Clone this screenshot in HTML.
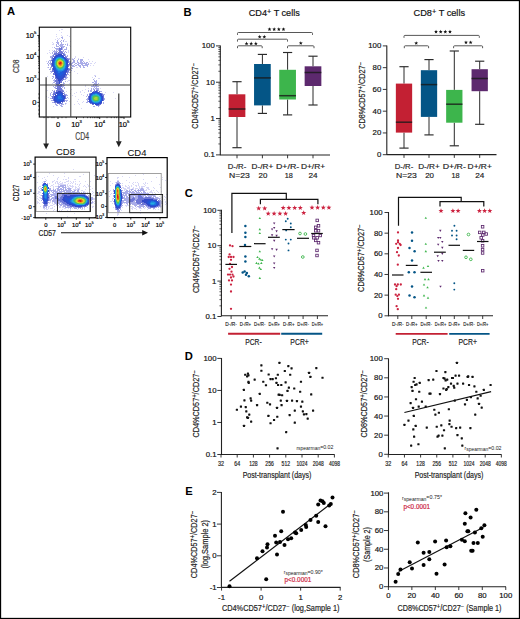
<!DOCTYPE html><html><head><meta charset="utf-8"><style>html,body{margin:0;padding:0;background:#fff;width:520px;height:619px;overflow:hidden}svg{display:block}</style></head><body><svg width="520" height="619" viewBox="0 0 520 619" font-family='"Liberation Sans", sans-serif'>
<rect x="0" y="0" width="520" height="619" fill="#fff"/>
<text x="7" y="15.2" font-size="11.2" text-anchor="start" fill="#000" font-weight="bold" >A</text>
<path d="M61 29h1v1h-1zM62 29h1v1h-1zM59 30h1v1h-1zM61 32h1v1h-1zM56 34h1v1h-1zM61 35h1v1h-1zM67 35h1v1h-1zM56 36h1v1h-1zM62 36h1v1h-1zM69 36h1v1h-1zM57 38h1v1h-1zM59 38h1v1h-1zM55 39h1v1h-1zM58 39h1v1h-1zM64 39h1v1h-1zM65 41h1v1h-1zM66 41h1v1h-1zM70 41h1v1h-1zM52 42h1v1h-1zM53 43h1v1h-1zM67 43h1v1h-1zM52 44h1v1h-1zM53 44h1v1h-1zM69 45h1v1h-1zM70 46h1v1h-1zM52 47h1v1h-1zM49 50h1v1h-1zM52 50h1v1h-1zM68 50h1v1h-1zM68 51h1v1h-1zM49 52h1v1h-1zM68 52h1v1h-1zM47 53h1v1h-1zM50 53h1v1h-1zM75 56h1v1h-1zM75 57h1v1h-1zM83 57h1v1h-1zM72 58h1v1h-1zM78 58h1v1h-1zM88 59h1v1h-1zM46 61h1v1h-1zM89 61h1v1h-1zM92 61h1v1h-1zM95 62h1v1h-1zM90 63h1v1h-1zM91 63h1v1h-1zM94 63h1v1h-1zM90 65h1v1h-1zM93 65h1v1h-1zM47 67h1v1h-1zM76 67h1v1h-1zM77 67h1v1h-1zM74 71h1v1h-1zM50 73h1v1h-1zM77 73h1v1h-1zM69 75h1v1h-1zM94 75h1v1h-1zM95 75h1v1h-1zM47 76h1v1h-1zM92 77h1v1h-1zM94 78h1v1h-1zM98 78h1v1h-1zM99 78h1v1h-1zM68 80h1v1h-1zM69 80h1v1h-1zM67 81h1v1h-1zM52 83h1v1h-1zM69 83h1v1h-1zM85 85h1v1h-1zM85 86h1v1h-1zM88 88h1v1h-1zM100 88h1v1h-1zM71 89h1v1h-1zM85 89h1v1h-1zM47 90h1v1h-1zM82 90h1v1h-1zM66 91h1v1h-1zM80 91h1v1h-1zM76 92h1v1h-1zM80 92h1v1h-1zM84 92h1v1h-1zM105 92h1v1h-1zM113 92h1v1h-1zM70 93h1v1h-1zM74 93h1v1h-1zM81 94h1v1h-1zM72 95h1v1h-1zM83 95h1v1h-1zM46 96h1v1h-1zM75 96h1v1h-1zM48 97h1v1h-1zM68 98h1v1h-1zM115 98h1v1h-1zM78 99h1v1h-1zM69 101h1v1h-1zM77 101h1v1h-1zM83 101h1v1h-1zM82 102h1v1h-1zM66 103h1v1h-1zM78 103h1v1h-1zM65 104h1v1h-1zM74 104h1v1h-1zM79 104h1v1h-1zM53 106h1v1h-1zM81 108h1v1h-1z" fill="rgb(155, 155, 232)" fill-opacity="0.4"/>
<path d="M61 37h1v1h-1zM62 37h1v1h-1zM62 38h1v1h-1zM57 40h1v1h-1zM61 40h1v1h-1zM63 40h1v1h-1zM57 41h1v1h-1zM60 41h1v1h-1zM63 41h1v1h-1zM56 42h1v1h-1zM57 42h1v1h-1zM58 42h1v1h-1zM61 42h1v1h-1zM57 43h1v1h-1zM58 43h1v1h-1zM61 43h1v1h-1zM56 44h1v1h-1zM58 44h1v1h-1zM60 44h1v1h-1zM61 44h1v1h-1zM62 44h1v1h-1zM63 44h1v1h-1zM65 44h1v1h-1zM67 44h1v1h-1zM56 45h1v1h-1zM59 45h1v1h-1zM60 45h1v1h-1zM61 45h1v1h-1zM62 45h1v1h-1zM67 45h1v1h-1zM56 46h1v1h-1zM57 46h1v1h-1zM58 46h1v1h-1zM60 46h1v1h-1zM61 46h1v1h-1zM62 46h1v1h-1zM63 46h1v1h-1zM64 46h1v1h-1zM54 47h1v1h-1zM59 47h1v1h-1zM62 47h1v1h-1zM63 47h1v1h-1zM66 47h1v1h-1zM55 48h1v1h-1zM56 48h1v1h-1zM57 48h1v1h-1zM58 48h1v1h-1zM62 48h1v1h-1zM66 48h1v1h-1zM56 49h1v1h-1zM57 49h1v1h-1zM58 49h1v1h-1zM62 49h1v1h-1zM64 49h1v1h-1zM65 49h1v1h-1zM66 49h1v1h-1zM54 50h1v1h-1zM56 50h1v1h-1zM58 50h1v1h-1zM63 50h1v1h-1zM53 51h1v1h-1zM54 51h1v1h-1zM55 51h1v1h-1zM56 51h1v1h-1zM57 51h1v1h-1zM62 51h1v1h-1zM63 51h1v1h-1zM65 51h1v1h-1zM52 52h1v1h-1zM54 52h1v1h-1zM55 52h1v1h-1zM64 52h1v1h-1zM66 52h1v1h-1zM52 53h1v1h-1zM64 53h1v1h-1zM53 54h1v1h-1zM65 54h1v1h-1zM52 55h1v1h-1zM65 55h1v1h-1zM67 55h1v1h-1zM50 56h1v1h-1zM51 56h1v1h-1zM52 56h1v1h-1zM66 56h1v1h-1zM67 56h1v1h-1zM50 57h1v1h-1zM51 57h1v1h-1zM51 58h1v1h-1zM68 58h1v1h-1zM69 58h1v1h-1zM74 58h1v1h-1zM51 59h1v1h-1zM69 59h1v1h-1zM72 59h1v1h-1zM73 59h1v1h-1zM78 59h1v1h-1zM80 59h1v1h-1zM81 59h1v1h-1zM82 59h1v1h-1zM49 60h1v1h-1zM50 60h1v1h-1zM73 60h1v1h-1zM74 60h1v1h-1zM77 60h1v1h-1zM80 60h1v1h-1zM81 60h1v1h-1zM82 60h1v1h-1zM48 61h1v1h-1zM50 61h1v1h-1zM69 61h1v1h-1zM70 61h1v1h-1zM73 61h1v1h-1zM74 61h1v1h-1zM77 61h1v1h-1zM80 61h1v1h-1zM81 61h1v1h-1zM83 61h1v1h-1zM48 62h1v1h-1zM50 62h1v1h-1zM69 62h1v1h-1zM70 62h1v1h-1zM72 62h1v1h-1zM73 62h1v1h-1zM74 62h1v1h-1zM77 62h1v1h-1zM78 62h1v1h-1zM80 62h1v1h-1zM81 62h1v1h-1zM82 62h1v1h-1zM84 62h1v1h-1zM86 62h1v1h-1zM87 62h1v1h-1zM47 63h1v1h-1zM49 63h1v1h-1zM50 63h1v1h-1zM70 63h1v1h-1zM71 63h1v1h-1zM72 63h1v1h-1zM75 63h1v1h-1zM76 63h1v1h-1zM78 63h1v1h-1zM79 63h1v1h-1zM80 63h1v1h-1zM81 63h1v1h-1zM82 63h1v1h-1zM83 63h1v1h-1zM84 63h1v1h-1zM85 63h1v1h-1zM86 63h1v1h-1zM88 63h1v1h-1zM48 64h1v1h-1zM50 64h1v1h-1zM70 64h1v1h-1zM71 64h1v1h-1zM74 64h1v1h-1zM77 64h1v1h-1zM78 64h1v1h-1zM81 64h1v1h-1zM82 64h1v1h-1zM85 64h1v1h-1zM86 64h1v1h-1zM87 64h1v1h-1zM88 64h1v1h-1zM48 65h1v1h-1zM69 65h1v1h-1zM71 65h1v1h-1zM72 65h1v1h-1zM73 65h1v1h-1zM75 65h1v1h-1zM76 65h1v1h-1zM78 65h1v1h-1zM79 65h1v1h-1zM80 65h1v1h-1zM82 65h1v1h-1zM83 65h1v1h-1zM84 65h1v1h-1zM85 65h1v1h-1zM86 65h1v1h-1zM87 65h1v1h-1zM72 66h1v1h-1zM73 66h1v1h-1zM74 66h1v1h-1zM79 66h1v1h-1zM80 66h1v1h-1zM83 66h1v1h-1zM87 66h1v1h-1zM48 67h1v1h-1zM50 67h1v1h-1zM51 67h1v1h-1zM71 67h1v1h-1zM80 67h1v1h-1zM83 67h1v1h-1zM84 67h1v1h-1zM50 68h1v1h-1zM69 68h1v1h-1zM71 68h1v1h-1zM72 68h1v1h-1zM49 69h1v1h-1zM50 69h1v1h-1zM70 69h1v1h-1zM69 70h1v1h-1zM71 70h1v1h-1zM50 71h1v1h-1zM51 71h1v1h-1zM51 72h1v1h-1zM68 72h1v1h-1zM69 72h1v1h-1zM70 72h1v1h-1zM67 74h1v1h-1zM68 74h1v1h-1zM52 76h1v1h-1zM53 76h1v1h-1zM66 76h1v1h-1zM95 76h1v1h-1zM53 77h1v1h-1zM66 77h1v1h-1zM67 77h1v1h-1zM52 78h1v1h-1zM65 78h1v1h-1zM66 78h1v1h-1zM54 79h1v1h-1zM64 79h1v1h-1zM65 79h1v1h-1zM93 79h1v1h-1zM53 80h1v1h-1zM54 80h1v1h-1zM94 80h1v1h-1zM96 80h1v1h-1zM54 81h1v1h-1zM65 81h1v1h-1zM94 81h1v1h-1zM95 81h1v1h-1zM96 81h1v1h-1zM53 82h1v1h-1zM54 82h1v1h-1zM63 82h1v1h-1zM92 82h1v1h-1zM93 82h1v1h-1zM95 82h1v1h-1zM96 82h1v1h-1zM55 83h1v1h-1zM63 83h1v1h-1zM64 83h1v1h-1zM94 83h1v1h-1zM95 83h1v1h-1zM96 83h1v1h-1zM98 83h1v1h-1zM62 84h1v1h-1zM63 84h1v1h-1zM93 84h1v1h-1zM94 84h1v1h-1zM95 84h1v1h-1zM96 84h1v1h-1zM97 84h1v1h-1zM55 85h1v1h-1zM56 85h1v1h-1zM62 85h1v1h-1zM63 85h1v1h-1zM64 85h1v1h-1zM93 85h1v1h-1zM95 85h1v1h-1zM96 85h1v1h-1zM53 86h1v1h-1zM55 86h1v1h-1zM56 86h1v1h-1zM62 86h1v1h-1zM63 86h1v1h-1zM91 86h1v1h-1zM92 86h1v1h-1zM93 86h1v1h-1zM94 86h1v1h-1zM95 86h1v1h-1zM96 86h1v1h-1zM97 86h1v1h-1zM98 86h1v1h-1zM54 87h1v1h-1zM55 87h1v1h-1zM62 87h1v1h-1zM64 87h1v1h-1zM94 87h1v1h-1zM96 87h1v1h-1zM55 88h1v1h-1zM64 88h1v1h-1zM91 88h1v1h-1zM93 88h1v1h-1zM95 88h1v1h-1zM96 88h1v1h-1zM97 88h1v1h-1zM98 88h1v1h-1zM62 89h1v1h-1zM91 89h1v1h-1zM93 89h1v1h-1zM94 89h1v1h-1zM96 89h1v1h-1zM97 89h1v1h-1zM98 89h1v1h-1zM52 90h1v1h-1zM54 90h1v1h-1zM63 90h1v1h-1zM88 90h1v1h-1zM90 90h1v1h-1zM91 90h1v1h-1zM98 90h1v1h-1zM53 91h1v1h-1zM88 91h1v1h-1zM90 91h1v1h-1zM91 91h1v1h-1zM100 91h1v1h-1zM101 91h1v1h-1zM51 92h1v1h-1zM53 92h1v1h-1zM64 92h1v1h-1zM50 93h1v1h-1zM64 93h1v1h-1zM89 93h1v1h-1zM102 93h1v1h-1zM50 94h1v1h-1zM52 94h1v1h-1zM65 94h1v1h-1zM66 94h1v1h-1zM87 94h1v1h-1zM103 94h1v1h-1zM104 94h1v1h-1zM50 95h1v1h-1zM66 95h1v1h-1zM67 95h1v1h-1zM87 95h1v1h-1zM51 96h1v1h-1zM86 96h1v1h-1zM67 97h1v1h-1zM50 98h1v1h-1zM51 98h1v1h-1zM66 98h1v1h-1zM87 98h1v1h-1zM104 98h1v1h-1zM86 99h1v1h-1zM87 99h1v1h-1zM104 99h1v1h-1zM51 100h1v1h-1zM52 100h1v1h-1zM65 100h1v1h-1zM66 100h1v1h-1zM67 100h1v1h-1zM87 100h1v1h-1zM66 101h1v1h-1zM87 101h1v1h-1zM52 102h1v1h-1zM53 102h1v1h-1zM86 102h1v1h-1zM87 102h1v1h-1zM103 102h1v1h-1zM55 103h1v1h-1zM62 103h1v1h-1zM65 103h1v1h-1zM103 103h1v1h-1zM55 104h1v1h-1zM56 104h1v1h-1zM59 104h1v1h-1zM61 104h1v1h-1zM62 104h1v1h-1zM63 104h1v1h-1zM56 105h1v1h-1zM57 105h1v1h-1zM60 105h1v1h-1zM61 105h1v1h-1zM99 105h1v1h-1zM61 106h1v1h-1zM62 106h1v1h-1zM93 106h1v1h-1zM94 106h1v1h-1zM98 106h1v1h-1z" fill="rgb(115, 120, 218)" fill-opacity="0.61"/>
<path d="M61 47h1v1h-1zM59 48h1v1h-1zM60 48h1v1h-1zM61 48h1v1h-1zM59 49h1v1h-1zM60 49h1v1h-1zM61 49h1v1h-1zM59 50h1v1h-1zM60 50h1v1h-1zM59 51h1v1h-1zM60 51h1v1h-1zM61 51h1v1h-1zM56 52h1v1h-1zM58 52h1v1h-1zM59 52h1v1h-1zM60 52h1v1h-1zM61 52h1v1h-1zM62 52h1v1h-1zM54 53h1v1h-1zM55 53h1v1h-1zM56 53h1v1h-1zM57 53h1v1h-1zM58 53h1v1h-1zM59 53h1v1h-1zM60 53h1v1h-1zM61 53h1v1h-1zM62 53h1v1h-1zM63 53h1v1h-1zM54 54h1v1h-1zM55 54h1v1h-1zM56 54h1v1h-1zM57 54h1v1h-1zM63 54h1v1h-1zM64 54h1v1h-1zM53 55h1v1h-1zM55 55h1v1h-1zM63 55h1v1h-1zM64 55h1v1h-1zM53 56h1v1h-1zM54 56h1v1h-1zM65 56h1v1h-1zM52 57h1v1h-1zM65 57h1v1h-1zM66 57h1v1h-1zM52 58h1v1h-1zM66 58h1v1h-1zM67 58h1v1h-1zM52 59h1v1h-1zM67 59h1v1h-1zM68 59h1v1h-1zM51 60h1v1h-1zM68 60h1v1h-1zM68 61h1v1h-1zM68 62h1v1h-1zM51 63h1v1h-1zM69 63h1v1h-1zM51 64h1v1h-1zM68 64h1v1h-1zM69 64h1v1h-1zM51 65h1v1h-1zM68 65h1v1h-1zM51 66h1v1h-1zM52 66h1v1h-1zM68 66h1v1h-1zM52 68h1v1h-1zM68 68h1v1h-1zM52 69h1v1h-1zM68 69h1v1h-1zM69 69h1v1h-1zM52 70h1v1h-1zM53 70h1v1h-1zM67 70h1v1h-1zM68 70h1v1h-1zM52 71h1v1h-1zM53 71h1v1h-1zM67 71h1v1h-1zM68 71h1v1h-1zM66 72h1v1h-1zM67 72h1v1h-1zM53 73h1v1h-1zM54 73h1v1h-1zM67 73h1v1h-1zM53 74h1v1h-1zM54 74h1v1h-1zM66 74h1v1h-1zM65 75h1v1h-1zM66 75h1v1h-1zM55 76h1v1h-1zM65 76h1v1h-1zM55 77h1v1h-1zM64 77h1v1h-1zM65 77h1v1h-1zM55 78h1v1h-1zM56 78h1v1h-1zM63 78h1v1h-1zM56 79h1v1h-1zM57 79h1v1h-1zM62 79h1v1h-1zM63 79h1v1h-1zM55 80h1v1h-1zM56 80h1v1h-1zM57 80h1v1h-1zM61 80h1v1h-1zM62 80h1v1h-1zM55 81h1v1h-1zM56 81h1v1h-1zM57 81h1v1h-1zM58 81h1v1h-1zM60 81h1v1h-1zM61 81h1v1h-1zM56 82h1v1h-1zM57 82h1v1h-1zM58 82h1v1h-1zM60 82h1v1h-1zM61 82h1v1h-1zM56 83h1v1h-1zM57 83h1v1h-1zM58 83h1v1h-1zM56 84h1v1h-1zM57 84h1v1h-1zM58 84h1v1h-1zM60 84h1v1h-1zM61 84h1v1h-1zM57 85h1v1h-1zM58 85h1v1h-1zM59 85h1v1h-1zM60 85h1v1h-1zM61 85h1v1h-1zM57 86h1v1h-1zM58 86h1v1h-1zM59 86h1v1h-1zM60 86h1v1h-1zM61 86h1v1h-1zM57 87h1v1h-1zM58 87h1v1h-1zM59 87h1v1h-1zM60 87h1v1h-1zM56 88h1v1h-1zM57 88h1v1h-1zM58 88h1v1h-1zM59 88h1v1h-1zM60 88h1v1h-1zM61 88h1v1h-1zM57 89h1v1h-1zM58 89h1v1h-1zM59 89h1v1h-1zM60 89h1v1h-1zM61 89h1v1h-1zM56 90h1v1h-1zM57 90h1v1h-1zM58 90h1v1h-1zM59 90h1v1h-1zM60 90h1v1h-1zM61 90h1v1h-1zM62 90h1v1h-1zM94 90h1v1h-1zM96 90h1v1h-1zM97 90h1v1h-1zM54 91h1v1h-1zM56 91h1v1h-1zM57 91h1v1h-1zM61 91h1v1h-1zM62 91h1v1h-1zM63 91h1v1h-1zM93 91h1v1h-1zM94 91h1v1h-1zM97 91h1v1h-1zM99 91h1v1h-1zM54 92h1v1h-1zM55 92h1v1h-1zM62 92h1v1h-1zM99 92h1v1h-1zM53 93h1v1h-1zM54 93h1v1h-1zM55 93h1v1h-1zM63 93h1v1h-1zM90 93h1v1h-1zM101 93h1v1h-1zM53 94h1v1h-1zM54 94h1v1h-1zM64 94h1v1h-1zM89 94h1v1h-1zM102 94h1v1h-1zM53 95h1v1h-1zM64 95h1v1h-1zM65 95h1v1h-1zM89 95h1v1h-1zM102 95h1v1h-1zM103 95h1v1h-1zM52 96h1v1h-1zM53 96h1v1h-1zM65 96h1v1h-1zM88 96h1v1h-1zM103 96h1v1h-1zM52 97h1v1h-1zM53 97h1v1h-1zM65 97h1v1h-1zM88 97h1v1h-1zM103 97h1v1h-1zM52 98h1v1h-1zM53 98h1v1h-1zM65 98h1v1h-1zM88 98h1v1h-1zM103 98h1v1h-1zM53 99h1v1h-1zM64 99h1v1h-1zM88 99h1v1h-1zM103 99h1v1h-1zM53 100h1v1h-1zM64 100h1v1h-1zM103 100h1v1h-1zM54 101h1v1h-1zM63 101h1v1h-1zM64 101h1v1h-1zM88 101h1v1h-1zM54 102h1v1h-1zM55 102h1v1h-1zM56 102h1v1h-1zM62 102h1v1h-1zM89 102h1v1h-1zM57 103h1v1h-1zM58 103h1v1h-1zM59 103h1v1h-1zM60 103h1v1h-1zM61 103h1v1h-1zM90 103h1v1h-1zM91 103h1v1h-1zM101 103h1v1h-1zM92 104h1v1h-1zM93 104h1v1h-1zM99 104h1v1h-1zM100 104h1v1h-1zM96 105h1v1h-1zM97 105h1v1h-1zM98 105h1v1h-1z" fill="rgb(77, 88, 205)" fill-opacity="0.82"/>
<path d="M58 54h1v1h-1zM59 54h1v1h-1zM60 54h1v1h-1zM61 54h1v1h-1zM56 55h1v1h-1zM57 55h1v1h-1zM61 55h1v1h-1zM62 55h1v1h-1zM55 56h1v1h-1zM63 56h1v1h-1zM54 57h1v1h-1zM64 57h1v1h-1zM53 58h1v1h-1zM65 58h1v1h-1zM66 59h1v1h-1zM52 60h1v1h-1zM67 60h1v1h-1zM52 61h1v1h-1zM67 61h1v1h-1zM52 62h1v1h-1zM67 62h1v1h-1zM52 63h1v1h-1zM67 63h1v1h-1zM52 64h1v1h-1zM67 64h1v1h-1zM52 65h1v1h-1zM67 65h1v1h-1zM67 66h1v1h-1zM53 67h1v1h-1zM67 67h1v1h-1zM53 68h1v1h-1zM67 68h1v1h-1zM53 69h1v1h-1zM66 69h1v1h-1zM67 69h1v1h-1zM54 70h1v1h-1zM66 70h1v1h-1zM54 71h1v1h-1zM66 71h1v1h-1zM54 72h1v1h-1zM55 72h1v1h-1zM65 72h1v1h-1zM55 73h1v1h-1zM65 73h1v1h-1zM55 74h1v1h-1zM56 74h1v1h-1zM64 74h1v1h-1zM65 74h1v1h-1zM55 75h1v1h-1zM56 75h1v1h-1zM64 75h1v1h-1zM56 76h1v1h-1zM63 76h1v1h-1zM64 76h1v1h-1zM56 77h1v1h-1zM57 77h1v1h-1zM62 77h1v1h-1zM63 77h1v1h-1zM57 78h1v1h-1zM58 78h1v1h-1zM61 78h1v1h-1zM62 78h1v1h-1zM58 79h1v1h-1zM59 79h1v1h-1zM60 79h1v1h-1zM61 79h1v1h-1zM58 80h1v1h-1zM59 80h1v1h-1zM60 80h1v1h-1zM59 81h1v1h-1zM59 82h1v1h-1zM59 83h1v1h-1zM58 91h1v1h-1zM59 91h1v1h-1zM60 91h1v1h-1zM95 91h1v1h-1zM96 91h1v1h-1zM56 92h1v1h-1zM57 92h1v1h-1zM58 92h1v1h-1zM59 92h1v1h-1zM60 92h1v1h-1zM61 92h1v1h-1zM92 92h1v1h-1zM93 92h1v1h-1zM98 92h1v1h-1zM56 93h1v1h-1zM57 93h1v1h-1zM62 93h1v1h-1zM91 93h1v1h-1zM100 93h1v1h-1zM55 94h1v1h-1zM62 94h1v1h-1zM90 94h1v1h-1zM101 94h1v1h-1zM55 95h1v1h-1zM56 95h1v1h-1zM63 95h1v1h-1zM101 95h1v1h-1zM54 96h1v1h-1zM55 96h1v1h-1zM63 96h1v1h-1zM64 96h1v1h-1zM89 96h1v1h-1zM102 96h1v1h-1zM54 97h1v1h-1zM64 97h1v1h-1zM89 97h1v1h-1zM102 97h1v1h-1zM54 98h1v1h-1zM64 98h1v1h-1zM89 98h1v1h-1zM102 98h1v1h-1zM54 99h1v1h-1zM89 99h1v1h-1zM102 99h1v1h-1zM54 100h1v1h-1zM55 100h1v1h-1zM63 100h1v1h-1zM89 100h1v1h-1zM102 100h1v1h-1zM55 101h1v1h-1zM56 101h1v1h-1zM61 101h1v1h-1zM62 101h1v1h-1zM89 101h1v1h-1zM57 102h1v1h-1zM58 102h1v1h-1zM59 102h1v1h-1zM60 102h1v1h-1zM90 102h1v1h-1zM101 102h1v1h-1zM92 103h1v1h-1zM100 103h1v1h-1zM95 104h1v1h-1zM96 104h1v1h-1zM97 104h1v1h-1zM98 104h1v1h-1z" fill="rgb(50, 73, 201)" fill-opacity="1"/>
<path d="M58 55h1v1h-1zM59 55h1v1h-1zM60 55h1v1h-1zM56 56h1v1h-1zM57 56h1v1h-1zM62 56h1v1h-1zM55 57h1v1h-1zM63 57h1v1h-1zM54 58h1v1h-1zM64 58h1v1h-1zM53 59h1v1h-1zM65 59h1v1h-1zM53 60h1v1h-1zM66 60h1v1h-1zM53 61h1v1h-1zM66 61h1v1h-1zM53 62h1v1h-1zM66 62h1v1h-1zM66 63h1v1h-1zM53 64h1v1h-1zM53 65h1v1h-1zM53 66h1v1h-1zM66 67h1v1h-1zM54 68h1v1h-1zM66 68h1v1h-1zM54 69h1v1h-1zM65 69h1v1h-1zM55 70h1v1h-1zM65 70h1v1h-1zM55 71h1v1h-1zM64 71h1v1h-1zM65 71h1v1h-1zM56 72h1v1h-1zM63 72h1v1h-1zM64 72h1v1h-1zM56 73h1v1h-1zM63 73h1v1h-1zM64 73h1v1h-1zM57 74h1v1h-1zM62 74h1v1h-1zM63 74h1v1h-1zM57 75h1v1h-1zM58 75h1v1h-1zM61 75h1v1h-1zM62 75h1v1h-1zM63 75h1v1h-1zM57 76h1v1h-1zM58 76h1v1h-1zM59 76h1v1h-1zM60 76h1v1h-1zM61 76h1v1h-1zM62 76h1v1h-1zM58 77h1v1h-1zM59 77h1v1h-1zM60 77h1v1h-1zM61 77h1v1h-1zM59 78h1v1h-1zM60 78h1v1h-1zM94 92h1v1h-1zM95 92h1v1h-1zM96 92h1v1h-1zM97 92h1v1h-1zM58 93h1v1h-1zM59 93h1v1h-1zM60 93h1v1h-1zM61 93h1v1h-1zM92 93h1v1h-1zM99 93h1v1h-1zM57 94h1v1h-1zM58 94h1v1h-1zM61 94h1v1h-1zM91 94h1v1h-1zM100 94h1v1h-1zM57 95h1v1h-1zM62 95h1v1h-1zM90 95h1v1h-1zM56 96h1v1h-1zM62 96h1v1h-1zM90 96h1v1h-1zM101 96h1v1h-1zM55 97h1v1h-1zM56 97h1v1h-1zM63 97h1v1h-1zM55 98h1v1h-1zM63 98h1v1h-1zM55 99h1v1h-1zM56 99h1v1h-1zM63 99h1v1h-1zM56 100h1v1h-1zM61 100h1v1h-1zM62 100h1v1h-1zM90 100h1v1h-1zM57 101h1v1h-1zM58 101h1v1h-1zM59 101h1v1h-1zM60 101h1v1h-1zM90 101h1v1h-1zM101 101h1v1h-1zM91 102h1v1h-1zM100 102h1v1h-1zM93 103h1v1h-1zM98 103h1v1h-1zM99 103h1v1h-1z" fill="rgb(40, 81, 210)" fill-opacity="1"/>
<path d="M58 56h1v1h-1zM59 56h1v1h-1zM60 56h1v1h-1zM61 56h1v1h-1zM56 57h1v1h-1zM62 57h1v1h-1zM55 58h1v1h-1zM54 59h1v1h-1zM54 60h1v1h-1zM65 60h1v1h-1zM53 63h1v1h-1zM66 64h1v1h-1zM66 65h1v1h-1zM54 66h1v1h-1zM66 66h1v1h-1zM54 67h1v1h-1zM55 68h1v1h-1zM65 68h1v1h-1zM55 69h1v1h-1zM56 70h1v1h-1zM64 70h1v1h-1zM56 71h1v1h-1zM57 71h1v1h-1zM62 71h1v1h-1zM63 71h1v1h-1zM57 72h1v1h-1zM60 72h1v1h-1zM61 72h1v1h-1zM62 72h1v1h-1zM57 73h1v1h-1zM58 73h1v1h-1zM59 73h1v1h-1zM60 73h1v1h-1zM61 73h1v1h-1zM62 73h1v1h-1zM58 74h1v1h-1zM59 74h1v1h-1zM60 74h1v1h-1zM61 74h1v1h-1zM59 75h1v1h-1zM60 75h1v1h-1zM93 93h1v1h-1zM94 93h1v1h-1zM97 93h1v1h-1zM98 93h1v1h-1zM59 94h1v1h-1zM60 94h1v1h-1zM99 94h1v1h-1zM58 95h1v1h-1zM59 95h1v1h-1zM60 95h1v1h-1zM61 95h1v1h-1zM100 95h1v1h-1zM57 96h1v1h-1zM61 96h1v1h-1zM57 97h1v1h-1zM61 97h1v1h-1zM62 97h1v1h-1zM90 97h1v1h-1zM101 97h1v1h-1zM56 98h1v1h-1zM57 98h1v1h-1zM62 98h1v1h-1zM90 98h1v1h-1zM101 98h1v1h-1zM57 99h1v1h-1zM58 99h1v1h-1zM59 99h1v1h-1zM60 99h1v1h-1zM61 99h1v1h-1zM62 99h1v1h-1zM90 99h1v1h-1zM101 99h1v1h-1zM57 100h1v1h-1zM58 100h1v1h-1zM59 100h1v1h-1zM60 100h1v1h-1zM101 100h1v1h-1zM91 101h1v1h-1zM100 101h1v1h-1zM92 102h1v1h-1zM99 102h1v1h-1zM94 103h1v1h-1zM95 103h1v1h-1zM96 103h1v1h-1zM97 103h1v1h-1z" fill="rgb(30, 90, 220)" fill-opacity="1"/>
<path d="M57 57h1v1h-1zM61 57h1v1h-1zM63 58h1v1h-1zM55 59h1v1h-1zM64 59h1v1h-1zM54 61h1v1h-1zM65 61h1v1h-1zM54 62h1v1h-1zM54 63h1v1h-1zM54 64h1v1h-1zM54 65h1v1h-1zM65 66h1v1h-1zM55 67h1v1h-1zM65 67h1v1h-1zM56 69h1v1h-1zM64 69h1v1h-1zM57 70h1v1h-1zM63 70h1v1h-1zM58 71h1v1h-1zM59 71h1v1h-1zM60 71h1v1h-1zM61 71h1v1h-1zM58 72h1v1h-1zM59 72h1v1h-1zM95 93h1v1h-1zM96 93h1v1h-1zM92 94h1v1h-1zM98 94h1v1h-1zM91 95h1v1h-1zM99 95h1v1h-1zM58 96h1v1h-1zM59 96h1v1h-1zM60 96h1v1h-1zM100 96h1v1h-1zM58 97h1v1h-1zM59 97h1v1h-1zM60 97h1v1h-1zM58 98h1v1h-1zM59 98h1v1h-1zM60 98h1v1h-1zM61 98h1v1h-1zM91 100h1v1h-1zM100 100h1v1h-1zM93 102h1v1h-1zM98 102h1v1h-1z" fill="rgb(31, 118, 221)" fill-opacity="1"/>
<path d="M58 57h1v1h-1zM59 57h1v1h-1zM60 57h1v1h-1zM56 58h1v1h-1zM62 58h1v1h-1zM55 60h1v1h-1zM64 60h1v1h-1zM65 62h1v1h-1zM65 63h1v1h-1zM65 64h1v1h-1zM65 65h1v1h-1zM55 66h1v1h-1zM56 68h1v1h-1zM64 68h1v1h-1zM57 69h1v1h-1zM63 69h1v1h-1zM58 70h1v1h-1zM59 70h1v1h-1zM60 70h1v1h-1zM61 70h1v1h-1zM62 70h1v1h-1zM93 94h1v1h-1zM94 94h1v1h-1zM97 94h1v1h-1zM92 95h1v1h-1zM91 96h1v1h-1zM91 97h1v1h-1zM100 97h1v1h-1zM91 98h1v1h-1zM100 98h1v1h-1zM91 99h1v1h-1zM100 99h1v1h-1zM92 101h1v1h-1zM99 101h1v1h-1zM94 102h1v1h-1zM95 102h1v1h-1zM96 102h1v1h-1zM97 102h1v1h-1z" fill="rgb(33, 146, 223)" fill-opacity="1"/>
<path d="M57 58h1v1h-1zM56 59h1v1h-1zM63 59h1v1h-1zM55 61h1v1h-1zM55 65h1v1h-1zM64 66h1v1h-1zM56 67h1v1h-1zM64 67h1v1h-1zM57 68h1v1h-1zM63 68h1v1h-1zM58 69h1v1h-1zM59 69h1v1h-1zM61 69h1v1h-1zM62 69h1v1h-1zM95 94h1v1h-1zM96 94h1v1h-1zM98 95h1v1h-1zM99 96h1v1h-1zM92 100h1v1h-1zM99 100h1v1h-1zM93 101h1v1h-1zM98 101h1v1h-1z" fill="rgb(35, 175, 225)" fill-opacity="1"/>
<path d="M58 58h1v1h-1zM61 58h1v1h-1zM64 61h1v1h-1zM55 62h1v1h-1zM55 63h1v1h-1zM55 64h1v1h-1zM64 65h1v1h-1zM56 66h1v1h-1zM63 67h1v1h-1zM58 68h1v1h-1zM62 68h1v1h-1zM60 69h1v1h-1zM93 95h1v1h-1zM97 95h1v1h-1zM92 96h1v1h-1zM99 97h1v1h-1zM99 98h1v1h-1zM92 99h1v1h-1zM99 99h1v1h-1zM94 101h1v1h-1zM96 101h1v1h-1zM97 101h1v1h-1z" fill="rgb(47, 180, 184)" fill-opacity="1"/>
<path d="M59 58h1v1h-1zM60 58h1v1h-1zM57 59h1v1h-1zM62 59h1v1h-1zM56 60h1v1h-1zM63 60h1v1h-1zM64 62h1v1h-1zM64 63h1v1h-1zM64 64h1v1h-1zM57 67h1v1h-1zM59 68h1v1h-1zM61 68h1v1h-1zM94 95h1v1h-1zM95 95h1v1h-1zM96 95h1v1h-1zM98 96h1v1h-1zM92 97h1v1h-1zM92 98h1v1h-1zM93 100h1v1h-1zM98 100h1v1h-1zM95 101h1v1h-1z" fill="rgb(60, 186, 144)" fill-opacity="1"/>
<path d="M61 59h1v1h-1zM56 61h1v1h-1zM56 65h1v1h-1zM63 66h1v1h-1zM58 67h1v1h-1zM62 67h1v1h-1zM60 68h1v1h-1zM93 96h1v1h-1zM97 96h1v1h-1zM98 97h1v1h-1zM98 98h1v1h-1zM98 99h1v1h-1zM97 100h1v1h-1z" fill="rgb(72, 191, 104)" fill-opacity="1"/>
<path d="M58 59h1v1h-1zM57 60h1v1h-1zM62 60h1v1h-1zM63 61h1v1h-1zM56 62h1v1h-1zM56 63h1v1h-1zM56 64h1v1h-1zM63 65h1v1h-1zM57 66h1v1h-1zM61 67h1v1h-1zM94 96h1v1h-1zM95 96h1v1h-1zM96 96h1v1h-1zM93 97h1v1h-1zM93 98h1v1h-1zM93 99h1v1h-1zM94 100h1v1h-1zM95 100h1v1h-1zM96 100h1v1h-1z" fill="rgb(95, 197, 76)" fill-opacity="1"/>
<path d="M59 59h1v1h-1zM60 59h1v1h-1zM63 62h1v1h-1zM63 63h1v1h-1zM63 64h1v1h-1zM57 65h1v1h-1zM62 66h1v1h-1zM59 67h1v1h-1zM60 67h1v1h-1zM94 97h1v1h-1zM97 97h1v1h-1zM97 98h1v1h-1zM94 99h1v1h-1zM97 99h1v1h-1z" fill="rgb(132, 203, 67)" fill-opacity="1"/>
<path d="M58 60h1v1h-1zM61 60h1v1h-1zM57 61h1v1h-1zM58 66h1v1h-1zM95 97h1v1h-1zM96 97h1v1h-1zM94 98h1v1h-1zM95 98h1v1h-1zM96 98h1v1h-1zM95 99h1v1h-1zM96 99h1v1h-1z" fill="rgb(169, 210, 59)" fill-opacity="1"/>
<path d="M59 60h1v1h-1zM62 61h1v1h-1zM57 62h1v1h-1zM57 63h1v1h-1zM57 64h1v1h-1zM62 65h1v1h-1zM59 66h1v1h-1zM61 66h1v1h-1z" fill="rgb(207, 216, 50)" fill-opacity="1"/>
<path d="M60 60h1v1h-1zM58 61h1v1h-1zM62 62h1v1h-1zM62 64h1v1h-1zM58 65h1v1h-1zM60 66h1v1h-1z" fill="rgb(230, 205, 42)" fill-opacity="1"/>
<path d="M61 61h1v1h-1zM62 63h1v1h-1zM58 64h1v1h-1zM59 65h1v1h-1zM61 65h1v1h-1z" fill="rgb(232, 170, 37)" fill-opacity="1"/>
<path d="M59 61h1v1h-1zM60 61h1v1h-1zM58 62h1v1h-1zM58 63h1v1h-1zM61 64h1v1h-1zM60 65h1v1h-1z" fill="rgb(234, 134, 32)" fill-opacity="1"/>
<path d="M59 62h1v1h-1zM61 62h1v1h-1zM61 63h1v1h-1zM59 64h1v1h-1zM60 64h1v1h-1z" fill="rgb(231, 84, 28)" fill-opacity="1"/>
<path d="M60 62h1v1h-1zM59 63h1v1h-1zM60 63h1v1h-1z" fill="rgb(225, 25, 25)" fill-opacity="1"/>
<rect x="39.3" y="27.2" width="91.4" height="89.8" fill="none" stroke="#000" stroke-width="1.1"/>
<line x1="70.8" y1="27.2" x2="70.8" y2="117" stroke="#3a3a3a" stroke-width="1" />
<line x1="39.3" y1="85" x2="130.7" y2="85" stroke="#3a3a3a" stroke-width="1" />
<line x1="37.3" y1="35.5" x2="39.3" y2="35.5" stroke="#000" stroke-width="0.8" />
<line x1="37.3" y1="56.4" x2="39.3" y2="56.4" stroke="#000" stroke-width="0.8" />
<line x1="37.3" y1="79.1" x2="39.3" y2="79.1" stroke="#000" stroke-width="0.8" />
<line x1="37.3" y1="102.4" x2="39.3" y2="102.4" stroke="#000" stroke-width="0.8" />
<line x1="38.1" y1="72.27" x2="39.3" y2="72.27" stroke="#000" stroke-width="0.6" />
<line x1="38.1" y1="68.27" x2="39.3" y2="68.27" stroke="#000" stroke-width="0.6" />
<line x1="38.1" y1="65.43" x2="39.3" y2="65.43" stroke="#000" stroke-width="0.6" />
<line x1="38.1" y1="63.23" x2="39.3" y2="63.23" stroke="#000" stroke-width="0.6" />
<line x1="38.1" y1="61.44" x2="39.3" y2="61.44" stroke="#000" stroke-width="0.6" />
<line x1="38.1" y1="59.92" x2="39.3" y2="59.92" stroke="#000" stroke-width="0.6" />
<line x1="38.1" y1="58.6" x2="39.3" y2="58.6" stroke="#000" stroke-width="0.6" />
<line x1="38.1" y1="57.44" x2="39.3" y2="57.44" stroke="#000" stroke-width="0.6" />
<line x1="38.1" y1="50.11" x2="39.3" y2="50.11" stroke="#000" stroke-width="0.6" />
<line x1="38.1" y1="46.43" x2="39.3" y2="46.43" stroke="#000" stroke-width="0.6" />
<line x1="38.1" y1="43.82" x2="39.3" y2="43.82" stroke="#000" stroke-width="0.6" />
<line x1="38.1" y1="41.79" x2="39.3" y2="41.79" stroke="#000" stroke-width="0.6" />
<line x1="38.1" y1="40.14" x2="39.3" y2="40.14" stroke="#000" stroke-width="0.6" />
<line x1="38.1" y1="38.74" x2="39.3" y2="38.74" stroke="#000" stroke-width="0.6" />
<line x1="38.1" y1="37.53" x2="39.3" y2="37.53" stroke="#000" stroke-width="0.6" />
<line x1="38.1" y1="36.46" x2="39.3" y2="36.46" stroke="#000" stroke-width="0.6" />
<line x1="38.1" y1="110" x2="39.3" y2="110" stroke="#000" stroke-width="0.6" />
<line x1="38.1" y1="114" x2="39.3" y2="114" stroke="#000" stroke-width="0.6" />
<line x1="38.1" y1="106" x2="39.3" y2="106" stroke="#000" stroke-width="0.6" />
<line x1="38.1" y1="98" x2="39.3" y2="98" stroke="#000" stroke-width="0.6" />
<line x1="38.1" y1="94" x2="39.3" y2="94" stroke="#000" stroke-width="0.6" />
<line x1="58" y1="117" x2="58" y2="119" stroke="#000" stroke-width="0.8" />
<line x1="76.5" y1="117" x2="76.5" y2="119" stroke="#000" stroke-width="0.8" />
<line x1="99.7" y1="117" x2="99.7" y2="119" stroke="#000" stroke-width="0.8" />
<line x1="124" y1="117" x2="124" y2="119" stroke="#000" stroke-width="0.8" />
<line x1="83.48" y1="117" x2="83.48" y2="118.2" stroke="#000" stroke-width="0.6" />
<line x1="87.57" y1="117" x2="87.57" y2="118.2" stroke="#000" stroke-width="0.6" />
<line x1="90.47" y1="117" x2="90.47" y2="118.2" stroke="#000" stroke-width="0.6" />
<line x1="92.72" y1="117" x2="92.72" y2="118.2" stroke="#000" stroke-width="0.6" />
<line x1="94.55" y1="117" x2="94.55" y2="118.2" stroke="#000" stroke-width="0.6" />
<line x1="96.11" y1="117" x2="96.11" y2="118.2" stroke="#000" stroke-width="0.6" />
<line x1="97.45" y1="117" x2="97.45" y2="118.2" stroke="#000" stroke-width="0.6" />
<line x1="98.64" y1="117" x2="98.64" y2="118.2" stroke="#000" stroke-width="0.6" />
<line x1="107.02" y1="117" x2="107.02" y2="118.2" stroke="#000" stroke-width="0.6" />
<line x1="111.29" y1="117" x2="111.29" y2="118.2" stroke="#000" stroke-width="0.6" />
<line x1="114.33" y1="117" x2="114.33" y2="118.2" stroke="#000" stroke-width="0.6" />
<line x1="116.68" y1="117" x2="116.68" y2="118.2" stroke="#000" stroke-width="0.6" />
<line x1="118.61" y1="117" x2="118.61" y2="118.2" stroke="#000" stroke-width="0.6" />
<line x1="120.24" y1="117" x2="120.24" y2="118.2" stroke="#000" stroke-width="0.6" />
<line x1="121.65" y1="117" x2="121.65" y2="118.2" stroke="#000" stroke-width="0.6" />
<line x1="122.89" y1="117" x2="122.89" y2="118.2" stroke="#000" stroke-width="0.6" />
<line x1="44" y1="117" x2="44" y2="118.2" stroke="#000" stroke-width="0.6" />
<line x1="48" y1="117" x2="48" y2="118.2" stroke="#000" stroke-width="0.6" />
<line x1="52" y1="117" x2="52" y2="118.2" stroke="#000" stroke-width="0.6" />
<line x1="54" y1="117" x2="54" y2="118.2" stroke="#000" stroke-width="0.6" />
<line x1="62" y1="117" x2="62" y2="118.2" stroke="#000" stroke-width="0.6" />
<line x1="66" y1="117" x2="66" y2="118.2" stroke="#000" stroke-width="0.6" />
<text x="36.4" y="37.9" font-size="7.5" text-anchor="end" fill="#000" stroke="#000" stroke-width="0.18" >10<tspan baseline-shift="3.6" font-size="4.2">5</tspan></text>
<text x="36.4" y="58.8" font-size="7.5" text-anchor="end" fill="#000" stroke="#000" stroke-width="0.18" >10<tspan baseline-shift="3.6" font-size="4.2">4</tspan></text>
<text x="36.4" y="81.5" font-size="7.5" text-anchor="end" fill="#000" stroke="#000" stroke-width="0.18" >10<tspan baseline-shift="3.6" font-size="4.2">3</tspan></text>
<text x="36.4" y="104.8" font-size="7.5" text-anchor="end" fill="#000" stroke="#000" stroke-width="0.18" >0</text>
<text x="58" y="127.3" font-size="7.5" text-anchor="middle" fill="#000" stroke="#000" stroke-width="0.18" >0</text>
<text x="76.5" y="127.3" font-size="7.5" text-anchor="middle" fill="#000" stroke="#000" stroke-width="0.18" >10<tspan baseline-shift="3.6" font-size="4.2">3</tspan></text>
<text x="99.7" y="127.3" font-size="7.5" text-anchor="middle" fill="#000" stroke="#000" stroke-width="0.18" >10<tspan baseline-shift="3.6" font-size="4.2">4</tspan></text>
<text x="124" y="127.3" font-size="7.5" text-anchor="middle" fill="#000" stroke="#000" stroke-width="0.18" >10<tspan baseline-shift="3.6" font-size="4.2">5</tspan></text>
<text x="19.1" y="66.2" font-size="9.6" text-anchor="middle" fill="#3a3a3a" stroke="#3a3a3a" stroke-width="0.18" textLength="13.6" lengthAdjust="spacingAndGlyphs" transform="rotate(-90 19.1 66.2)" >CD8</text>
<text x="82.2" y="139.5" font-size="10" text-anchor="middle" fill="#444" stroke="#444" stroke-width="0.18" textLength="13.9" lengthAdjust="spacingAndGlyphs" >CD4</text>
<line x1="46.1" y1="77.2" x2="46.1" y2="144" stroke="#222" stroke-width="1.1" />
<polygon points="43.2,143.4 49,143.4 46.1,149.2" fill="#222"/>
<line x1="118.8" y1="93.6" x2="118.8" y2="141.5" stroke="#222" stroke-width="1.1" />
<polygon points="115.9,141.2 121.7,141.2 118.8,147.2" fill="#222"/>
<path d="M73 169h1v1h-1zM49 173h1v1h-1zM64 173h1v1h-1zM83 174h1v1h-1zM53 175h1v1h-1zM94 175h1v1h-1zM38 176h1v1h-1zM47 176h1v1h-1zM64 176h1v1h-1zM79 176h1v1h-1zM80 176h1v1h-1zM44 177h1v1h-1zM58 177h1v1h-1zM68 177h1v1h-1zM42 178h1v1h-1zM57 178h1v1h-1zM68 178h1v1h-1zM45 179h1v1h-1zM57 179h1v1h-1zM63 179h1v1h-1zM65 179h1v1h-1zM66 179h1v1h-1zM74 179h1v1h-1zM75 179h1v1h-1zM46 180h1v1h-1zM54 180h1v1h-1zM68 180h1v1h-1zM43 181h1v1h-1zM52 181h1v1h-1zM53 181h1v1h-1zM56 181h1v1h-1zM57 181h1v1h-1zM60 181h1v1h-1zM66 181h1v1h-1zM67 181h1v1h-1zM68 181h1v1h-1zM70 181h1v1h-1zM73 181h1v1h-1zM75 181h1v1h-1zM79 181h1v1h-1zM85 181h1v1h-1zM90 181h1v1h-1zM37 182h1v1h-1zM42 182h1v1h-1zM52 182h1v1h-1zM55 182h1v1h-1zM57 182h1v1h-1zM59 182h1v1h-1zM62 182h1v1h-1zM64 182h1v1h-1zM65 182h1v1h-1zM71 182h1v1h-1zM73 182h1v1h-1zM49 183h1v1h-1zM55 183h1v1h-1zM57 183h1v1h-1zM58 183h1v1h-1zM60 183h1v1h-1zM61 183h1v1h-1zM62 183h1v1h-1zM68 183h1v1h-1zM70 183h1v1h-1zM72 183h1v1h-1zM75 183h1v1h-1zM80 183h1v1h-1zM53 184h1v1h-1zM58 184h1v1h-1zM59 184h1v1h-1zM60 184h1v1h-1zM61 184h1v1h-1zM62 184h1v1h-1zM63 184h1v1h-1zM64 184h1v1h-1zM65 184h1v1h-1zM67 184h1v1h-1zM75 184h1v1h-1zM77 184h1v1h-1zM79 184h1v1h-1zM87 184h1v1h-1zM51 185h1v1h-1zM52 185h1v1h-1zM58 185h1v1h-1zM67 185h1v1h-1zM69 185h1v1h-1zM70 185h1v1h-1zM72 185h1v1h-1zM79 185h1v1h-1zM84 185h1v1h-1zM88 185h1v1h-1zM39 186h1v1h-1zM40 186h1v1h-1zM50 186h1v1h-1zM53 186h1v1h-1zM55 186h1v1h-1zM56 186h1v1h-1zM57 186h1v1h-1zM67 186h1v1h-1zM68 186h1v1h-1zM70 186h1v1h-1zM71 186h1v1h-1zM72 186h1v1h-1zM73 186h1v1h-1zM75 186h1v1h-1zM78 186h1v1h-1zM83 186h1v1h-1zM85 186h1v1h-1zM88 186h1v1h-1zM90 186h1v1h-1zM38 187h1v1h-1zM53 187h1v1h-1zM66 187h1v1h-1zM68 187h1v1h-1zM69 187h1v1h-1zM72 187h1v1h-1zM75 187h1v1h-1zM76 187h1v1h-1zM79 187h1v1h-1zM86 187h1v1h-1zM38 188h1v1h-1zM40 188h1v1h-1zM53 188h1v1h-1zM56 188h1v1h-1zM71 188h1v1h-1zM75 188h1v1h-1zM77 188h1v1h-1zM78 188h1v1h-1zM79 188h1v1h-1zM92 188h1v1h-1zM39 189h1v1h-1zM73 189h1v1h-1zM74 189h1v1h-1zM75 189h1v1h-1zM76 189h1v1h-1zM77 189h1v1h-1zM79 189h1v1h-1zM85 189h1v1h-1zM89 189h1v1h-1zM90 189h1v1h-1zM40 190h1v1h-1zM81 190h1v1h-1zM82 190h1v1h-1zM38 191h1v1h-1zM39 191h1v1h-1zM83 191h1v1h-1zM84 191h1v1h-1zM92 191h1v1h-1zM38 192h1v1h-1zM39 192h1v1h-1zM40 192h1v1h-1zM84 192h1v1h-1zM85 192h1v1h-1zM87 192h1v1h-1zM89 192h1v1h-1zM93 192h1v1h-1zM37 193h1v1h-1zM38 193h1v1h-1zM87 193h1v1h-1zM92 193h1v1h-1zM39 194h1v1h-1zM87 194h1v1h-1zM90 194h1v1h-1zM91 194h1v1h-1zM40 195h1v1h-1zM93 195h1v1h-1zM94 195h1v1h-1zM37 196h1v1h-1zM39 197h1v1h-1zM40 197h1v1h-1zM37 198h1v1h-1zM40 198h1v1h-1zM93 198h1v1h-1zM94 198h1v1h-1zM38 199h1v1h-1zM93 199h1v1h-1zM94 199h1v1h-1zM39 200h1v1h-1zM37 201h1v1h-1zM50 201h1v1h-1zM94 201h1v1h-1zM37 202h1v1h-1zM38 202h1v1h-1zM49 202h1v1h-1zM50 202h1v1h-1zM52 202h1v1h-1zM93 202h1v1h-1zM37 203h1v1h-1zM39 203h1v1h-1zM49 203h1v1h-1zM52 203h1v1h-1zM54 203h1v1h-1zM92 203h1v1h-1zM94 203h1v1h-1zM53 204h1v1h-1zM54 204h1v1h-1zM50 205h1v1h-1zM51 205h1v1h-1zM52 205h1v1h-1zM56 205h1v1h-1zM58 205h1v1h-1zM90 205h1v1h-1zM40 206h1v1h-1zM48 206h1v1h-1zM49 206h1v1h-1zM54 206h1v1h-1zM57 206h1v1h-1zM59 206h1v1h-1zM60 206h1v1h-1zM62 206h1v1h-1zM90 206h1v1h-1zM92 206h1v1h-1zM93 206h1v1h-1zM48 207h1v1h-1zM52 207h1v1h-1zM57 207h1v1h-1zM59 207h1v1h-1zM60 207h1v1h-1zM62 207h1v1h-1zM63 207h1v1h-1zM87 207h1v1h-1zM92 207h1v1h-1zM43 208h1v1h-1zM44 208h1v1h-1zM45 208h1v1h-1zM46 208h1v1h-1zM48 208h1v1h-1zM50 208h1v1h-1zM51 208h1v1h-1zM52 208h1v1h-1zM64 208h1v1h-1zM65 208h1v1h-1zM68 208h1v1h-1zM72 208h1v1h-1zM84 208h1v1h-1zM89 208h1v1h-1zM44 209h1v1h-1zM46 209h1v1h-1zM47 209h1v1h-1zM54 209h1v1h-1zM62 209h1v1h-1zM70 209h1v1h-1zM77 209h1v1h-1zM81 209h1v1h-1zM82 209h1v1h-1zM84 209h1v1h-1zM53 210h1v1h-1zM56 210h1v1h-1zM59 210h1v1h-1zM61 210h1v1h-1zM67 210h1v1h-1zM70 210h1v1h-1zM43 211h1v1h-1zM64 211h1v1h-1zM46 213h1v1h-1zM74 213h1v1h-1zM67 216h1v1h-1z" fill="rgb(155, 155, 232)" fill-opacity="0.4"/>
<path d="M44 181h1v1h-1zM45 181h1v1h-1zM44 182h1v1h-1zM47 183h1v1h-1zM42 184h1v1h-1zM60 185h1v1h-1zM61 185h1v1h-1zM62 185h1v1h-1zM63 185h1v1h-1zM64 185h1v1h-1zM65 185h1v1h-1zM58 186h1v1h-1zM59 186h1v1h-1zM60 186h1v1h-1zM61 186h1v1h-1zM62 186h1v1h-1zM63 186h1v1h-1zM65 186h1v1h-1zM58 187h1v1h-1zM59 187h1v1h-1zM62 187h1v1h-1zM63 187h1v1h-1zM64 187h1v1h-1zM65 187h1v1h-1zM41 188h1v1h-1zM49 188h1v1h-1zM50 188h1v1h-1zM57 188h1v1h-1zM58 188h1v1h-1zM60 188h1v1h-1zM61 188h1v1h-1zM63 188h1v1h-1zM65 188h1v1h-1zM67 188h1v1h-1zM68 188h1v1h-1zM69 188h1v1h-1zM70 188h1v1h-1zM41 189h1v1h-1zM49 189h1v1h-1zM50 189h1v1h-1zM53 189h1v1h-1zM55 189h1v1h-1zM57 189h1v1h-1zM58 189h1v1h-1zM59 189h1v1h-1zM60 189h1v1h-1zM61 189h1v1h-1zM62 189h1v1h-1zM63 189h1v1h-1zM65 189h1v1h-1zM66 189h1v1h-1zM68 189h1v1h-1zM69 189h1v1h-1zM70 189h1v1h-1zM78 189h1v1h-1zM41 190h1v1h-1zM49 190h1v1h-1zM50 190h1v1h-1zM51 190h1v1h-1zM52 190h1v1h-1zM53 190h1v1h-1zM54 190h1v1h-1zM55 190h1v1h-1zM57 190h1v1h-1zM58 190h1v1h-1zM59 190h1v1h-1zM61 190h1v1h-1zM63 190h1v1h-1zM64 190h1v1h-1zM65 190h1v1h-1zM66 190h1v1h-1zM67 190h1v1h-1zM68 190h1v1h-1zM69 190h1v1h-1zM70 190h1v1h-1zM71 190h1v1h-1zM74 190h1v1h-1zM75 190h1v1h-1zM77 190h1v1h-1zM78 190h1v1h-1zM49 191h1v1h-1zM51 191h1v1h-1zM53 191h1v1h-1zM54 191h1v1h-1zM55 191h1v1h-1zM56 191h1v1h-1zM57 191h1v1h-1zM59 191h1v1h-1zM60 191h1v1h-1zM61 191h1v1h-1zM62 191h1v1h-1zM63 191h1v1h-1zM64 191h1v1h-1zM66 191h1v1h-1zM67 191h1v1h-1zM68 191h1v1h-1zM69 191h1v1h-1zM70 191h1v1h-1zM72 191h1v1h-1zM73 191h1v1h-1zM74 191h1v1h-1zM77 191h1v1h-1zM78 191h1v1h-1zM49 192h1v1h-1zM52 192h1v1h-1zM53 192h1v1h-1zM55 192h1v1h-1zM56 192h1v1h-1zM57 192h1v1h-1zM58 192h1v1h-1zM59 192h1v1h-1zM60 192h1v1h-1zM61 192h1v1h-1zM64 192h1v1h-1zM65 192h1v1h-1zM66 192h1v1h-1zM67 192h1v1h-1zM68 192h1v1h-1zM69 192h1v1h-1zM70 192h1v1h-1zM71 192h1v1h-1zM72 192h1v1h-1zM73 192h1v1h-1zM74 192h1v1h-1zM75 192h1v1h-1zM76 192h1v1h-1zM77 192h1v1h-1zM78 192h1v1h-1zM79 192h1v1h-1zM81 192h1v1h-1zM83 192h1v1h-1zM49 193h1v1h-1zM53 193h1v1h-1zM54 193h1v1h-1zM55 193h1v1h-1zM56 193h1v1h-1zM57 193h1v1h-1zM58 193h1v1h-1zM59 193h1v1h-1zM60 193h1v1h-1zM61 193h1v1h-1zM62 193h1v1h-1zM66 193h1v1h-1zM71 193h1v1h-1zM75 193h1v1h-1zM76 193h1v1h-1zM77 193h1v1h-1zM79 193h1v1h-1zM80 193h1v1h-1zM81 193h1v1h-1zM82 193h1v1h-1zM84 193h1v1h-1zM85 193h1v1h-1zM50 194h1v1h-1zM51 194h1v1h-1zM52 194h1v1h-1zM53 194h1v1h-1zM54 194h1v1h-1zM55 194h1v1h-1zM56 194h1v1h-1zM57 194h1v1h-1zM58 194h1v1h-1zM59 194h1v1h-1zM60 194h1v1h-1zM61 194h1v1h-1zM85 194h1v1h-1zM41 195h1v1h-1zM49 195h1v1h-1zM51 195h1v1h-1zM52 195h1v1h-1zM53 195h1v1h-1zM54 195h1v1h-1zM55 195h1v1h-1zM56 195h1v1h-1zM57 195h1v1h-1zM58 195h1v1h-1zM59 195h1v1h-1zM60 195h1v1h-1zM61 195h1v1h-1zM86 195h1v1h-1zM88 195h1v1h-1zM49 196h1v1h-1zM50 196h1v1h-1zM51 196h1v1h-1zM54 196h1v1h-1zM57 196h1v1h-1zM58 196h1v1h-1zM59 196h1v1h-1zM60 196h1v1h-1zM88 196h1v1h-1zM89 196h1v1h-1zM90 196h1v1h-1zM49 197h1v1h-1zM52 197h1v1h-1zM53 197h1v1h-1zM54 197h1v1h-1zM58 197h1v1h-1zM59 197h1v1h-1zM90 197h1v1h-1zM91 197h1v1h-1zM92 197h1v1h-1zM41 198h1v1h-1zM49 198h1v1h-1zM51 198h1v1h-1zM52 198h1v1h-1zM53 198h1v1h-1zM54 198h1v1h-1zM59 198h1v1h-1zM91 198h1v1h-1zM92 198h1v1h-1zM49 199h1v1h-1zM50 199h1v1h-1zM51 199h1v1h-1zM53 199h1v1h-1zM54 199h1v1h-1zM55 199h1v1h-1zM56 199h1v1h-1zM91 199h1v1h-1zM92 199h1v1h-1zM41 200h1v1h-1zM49 200h1v1h-1zM50 200h1v1h-1zM52 200h1v1h-1zM53 200h1v1h-1zM54 200h1v1h-1zM55 200h1v1h-1zM56 200h1v1h-1zM57 200h1v1h-1zM91 200h1v1h-1zM52 201h1v1h-1zM53 201h1v1h-1zM54 201h1v1h-1zM55 201h1v1h-1zM56 201h1v1h-1zM57 201h1v1h-1zM58 201h1v1h-1zM59 201h1v1h-1zM92 201h1v1h-1zM42 202h1v1h-1zM48 202h1v1h-1zM54 202h1v1h-1zM55 202h1v1h-1zM56 202h1v1h-1zM57 202h1v1h-1zM58 202h1v1h-1zM59 202h1v1h-1zM60 202h1v1h-1zM61 202h1v1h-1zM91 202h1v1h-1zM92 202h1v1h-1zM55 203h1v1h-1zM56 203h1v1h-1zM57 203h1v1h-1zM58 203h1v1h-1zM59 203h1v1h-1zM61 203h1v1h-1zM62 203h1v1h-1zM90 203h1v1h-1zM91 203h1v1h-1zM47 204h1v1h-1zM56 204h1v1h-1zM57 204h1v1h-1zM59 204h1v1h-1zM60 204h1v1h-1zM61 204h1v1h-1zM62 204h1v1h-1zM63 204h1v1h-1zM64 204h1v1h-1zM89 204h1v1h-1zM90 204h1v1h-1zM43 205h1v1h-1zM47 205h1v1h-1zM60 205h1v1h-1zM61 205h1v1h-1zM63 205h1v1h-1zM64 205h1v1h-1zM65 205h1v1h-1zM66 205h1v1h-1zM43 206h1v1h-1zM44 206h1v1h-1zM45 206h1v1h-1zM46 206h1v1h-1zM63 206h1v1h-1zM64 206h1v1h-1zM65 206h1v1h-1zM67 206h1v1h-1zM68 206h1v1h-1zM69 206h1v1h-1zM86 206h1v1h-1zM43 207h1v1h-1zM44 207h1v1h-1zM46 207h1v1h-1zM65 207h1v1h-1zM66 207h1v1h-1zM67 207h1v1h-1zM68 207h1v1h-1zM69 207h1v1h-1zM70 207h1v1h-1zM71 207h1v1h-1zM73 207h1v1h-1zM74 207h1v1h-1zM75 207h1v1h-1zM76 207h1v1h-1zM77 207h1v1h-1zM81 207h1v1h-1zM82 207h1v1h-1zM84 207h1v1h-1zM70 208h1v1h-1zM74 208h1v1h-1zM75 208h1v1h-1zM76 208h1v1h-1zM78 208h1v1h-1zM80 208h1v1h-1zM82 208h1v1h-1z" fill="rgb(115, 120, 218)" fill-opacity="0.61"/>
<path d="M43 183h1v1h-1zM47 184h1v1h-1zM42 185h1v1h-1zM42 193h1v1h-1zM48 193h1v1h-1zM63 193h1v1h-1zM64 193h1v1h-1zM68 193h1v1h-1zM69 193h1v1h-1zM70 193h1v1h-1zM73 193h1v1h-1zM74 193h1v1h-1zM48 194h1v1h-1zM62 194h1v1h-1zM63 194h1v1h-1zM64 194h1v1h-1zM65 194h1v1h-1zM66 194h1v1h-1zM67 194h1v1h-1zM68 194h1v1h-1zM69 194h1v1h-1zM70 194h1v1h-1zM71 194h1v1h-1zM72 194h1v1h-1zM73 194h1v1h-1zM74 194h1v1h-1zM75 194h1v1h-1zM76 194h1v1h-1zM77 194h1v1h-1zM78 194h1v1h-1zM79 194h1v1h-1zM80 194h1v1h-1zM81 194h1v1h-1zM82 194h1v1h-1zM83 194h1v1h-1zM84 194h1v1h-1zM42 195h1v1h-1zM48 195h1v1h-1zM62 195h1v1h-1zM63 195h1v1h-1zM67 195h1v1h-1zM68 195h1v1h-1zM69 195h1v1h-1zM85 195h1v1h-1zM42 196h1v1h-1zM48 196h1v1h-1zM55 196h1v1h-1zM56 196h1v1h-1zM61 196h1v1h-1zM62 196h1v1h-1zM63 196h1v1h-1zM87 196h1v1h-1zM42 197h1v1h-1zM55 197h1v1h-1zM56 197h1v1h-1zM57 197h1v1h-1zM60 197h1v1h-1zM61 197h1v1h-1zM62 197h1v1h-1zM88 197h1v1h-1zM89 197h1v1h-1zM42 198h1v1h-1zM48 198h1v1h-1zM55 198h1v1h-1zM56 198h1v1h-1zM57 198h1v1h-1zM58 198h1v1h-1zM60 198h1v1h-1zM61 198h1v1h-1zM62 198h1v1h-1zM89 198h1v1h-1zM90 198h1v1h-1zM42 199h1v1h-1zM48 199h1v1h-1zM57 199h1v1h-1zM58 199h1v1h-1zM59 199h1v1h-1zM60 199h1v1h-1zM61 199h1v1h-1zM90 199h1v1h-1zM48 200h1v1h-1zM58 200h1v1h-1zM59 200h1v1h-1zM60 200h1v1h-1zM61 200h1v1h-1zM62 200h1v1h-1zM90 200h1v1h-1zM43 201h1v1h-1zM47 201h1v1h-1zM60 201h1v1h-1zM61 201h1v1h-1zM62 201h1v1h-1zM63 201h1v1h-1zM90 201h1v1h-1zM43 202h1v1h-1zM47 202h1v1h-1zM62 202h1v1h-1zM63 202h1v1h-1zM64 202h1v1h-1zM65 202h1v1h-1zM89 202h1v1h-1zM90 202h1v1h-1zM43 203h1v1h-1zM47 203h1v1h-1zM63 203h1v1h-1zM64 203h1v1h-1zM65 203h1v1h-1zM66 203h1v1h-1zM89 203h1v1h-1zM44 204h1v1h-1zM45 204h1v1h-1zM46 204h1v1h-1zM65 204h1v1h-1zM66 204h1v1h-1zM67 204h1v1h-1zM68 204h1v1h-1zM88 204h1v1h-1zM44 205h1v1h-1zM45 205h1v1h-1zM46 205h1v1h-1zM67 205h1v1h-1zM68 205h1v1h-1zM69 205h1v1h-1zM70 205h1v1h-1zM71 205h1v1h-1zM86 205h1v1h-1zM87 205h1v1h-1zM70 206h1v1h-1zM71 206h1v1h-1zM72 206h1v1h-1zM73 206h1v1h-1zM74 206h1v1h-1zM82 206h1v1h-1zM83 206h1v1h-1zM84 206h1v1h-1zM85 206h1v1h-1zM78 207h1v1h-1zM79 207h1v1h-1zM80 207h1v1h-1z" fill="rgb(77, 88, 205)" fill-opacity="0.82"/>
<path d="M44 183h1v1h-1zM45 183h1v1h-1zM43 184h1v1h-1zM48 187h1v1h-1zM48 188h1v1h-1zM42 190h1v1h-1zM48 190h1v1h-1zM48 191h1v1h-1zM64 195h1v1h-1zM65 195h1v1h-1zM66 195h1v1h-1zM70 195h1v1h-1zM71 195h1v1h-1zM72 195h1v1h-1zM73 195h1v1h-1zM74 195h1v1h-1zM84 195h1v1h-1zM64 196h1v1h-1zM65 196h1v1h-1zM66 196h1v1h-1zM67 196h1v1h-1zM68 196h1v1h-1zM69 196h1v1h-1zM70 196h1v1h-1zM86 196h1v1h-1zM48 197h1v1h-1zM63 197h1v1h-1zM64 197h1v1h-1zM67 197h1v1h-1zM68 197h1v1h-1zM69 197h1v1h-1zM87 197h1v1h-1zM43 198h1v1h-1zM63 198h1v1h-1zM64 198h1v1h-1zM88 198h1v1h-1zM43 199h1v1h-1zM62 199h1v1h-1zM63 199h1v1h-1zM64 199h1v1h-1zM89 199h1v1h-1zM43 200h1v1h-1zM47 200h1v1h-1zM63 200h1v1h-1zM64 200h1v1h-1zM65 200h1v1h-1zM89 200h1v1h-1zM44 201h1v1h-1zM64 201h1v1h-1zM65 201h1v1h-1zM66 201h1v1h-1zM89 201h1v1h-1zM44 202h1v1h-1zM45 202h1v1h-1zM46 202h1v1h-1zM66 202h1v1h-1zM67 202h1v1h-1zM88 202h1v1h-1zM44 203h1v1h-1zM45 203h1v1h-1zM46 203h1v1h-1zM67 203h1v1h-1zM68 203h1v1h-1zM88 203h1v1h-1zM69 204h1v1h-1zM70 204h1v1h-1zM71 204h1v1h-1zM87 204h1v1h-1zM72 205h1v1h-1zM73 205h1v1h-1zM74 205h1v1h-1zM85 205h1v1h-1zM75 206h1v1h-1zM76 206h1v1h-1zM77 206h1v1h-1zM78 206h1v1h-1zM79 206h1v1h-1zM80 206h1v1h-1zM81 206h1v1h-1z" fill="rgb(50, 73, 201)" fill-opacity="1"/>
<path d="M46 184h1v1h-1zM47 185h1v1h-1zM42 187h1v1h-1zM42 189h1v1h-1zM43 193h1v1h-1zM43 194h1v1h-1zM47 194h1v1h-1zM43 195h1v1h-1zM47 195h1v1h-1zM75 195h1v1h-1zM76 195h1v1h-1zM77 195h1v1h-1zM78 195h1v1h-1zM79 195h1v1h-1zM80 195h1v1h-1zM81 195h1v1h-1zM82 195h1v1h-1zM83 195h1v1h-1zM43 196h1v1h-1zM47 196h1v1h-1zM71 196h1v1h-1zM72 196h1v1h-1zM73 196h1v1h-1zM85 196h1v1h-1zM43 197h1v1h-1zM47 197h1v1h-1zM65 197h1v1h-1zM66 197h1v1h-1zM70 197h1v1h-1zM86 197h1v1h-1zM47 198h1v1h-1zM65 198h1v1h-1zM66 198h1v1h-1zM67 198h1v1h-1zM68 198h1v1h-1zM69 198h1v1h-1zM87 198h1v1h-1zM47 199h1v1h-1zM65 199h1v1h-1zM66 199h1v1h-1zM67 199h1v1h-1zM68 199h1v1h-1zM88 199h1v1h-1zM44 200h1v1h-1zM46 200h1v1h-1zM66 200h1v1h-1zM67 200h1v1h-1zM68 200h1v1h-1zM88 200h1v1h-1zM45 201h1v1h-1zM46 201h1v1h-1zM67 201h1v1h-1zM68 201h1v1h-1zM88 201h1v1h-1zM68 202h1v1h-1zM69 202h1v1h-1zM69 203h1v1h-1zM70 203h1v1h-1zM87 203h1v1h-1zM72 204h1v1h-1zM73 204h1v1h-1zM86 204h1v1h-1zM75 205h1v1h-1zM84 205h1v1h-1z" fill="rgb(40, 81, 210)" fill-opacity="1"/>
<path d="M44 184h1v1h-1zM43 185h1v1h-1zM47 186h1v1h-1zM43 192h1v1h-1zM47 192h1v1h-1zM47 193h1v1h-1zM74 196h1v1h-1zM75 196h1v1h-1zM84 196h1v1h-1zM71 197h1v1h-1zM72 197h1v1h-1zM44 198h1v1h-1zM70 198h1v1h-1zM71 198h1v1h-1zM44 199h1v1h-1zM45 199h1v1h-1zM46 199h1v1h-1zM69 199h1v1h-1zM70 199h1v1h-1zM45 200h1v1h-1zM69 200h1v1h-1zM69 201h1v1h-1zM70 202h1v1h-1zM87 202h1v1h-1zM71 203h1v1h-1zM72 203h1v1h-1zM86 203h1v1h-1zM74 204h1v1h-1zM85 204h1v1h-1zM76 205h1v1h-1zM77 205h1v1h-1zM78 205h1v1h-1zM79 205h1v1h-1zM80 205h1v1h-1zM81 205h1v1h-1zM82 205h1v1h-1zM83 205h1v1h-1z" fill="rgb(30, 90, 220)" fill-opacity="1"/>
<path d="M45 184h1v1h-1zM47 191h1v1h-1zM44 194h1v1h-1zM46 194h1v1h-1zM44 195h1v1h-1zM46 195h1v1h-1zM44 196h1v1h-1zM46 196h1v1h-1zM76 196h1v1h-1zM77 196h1v1h-1zM82 196h1v1h-1zM83 196h1v1h-1zM44 197h1v1h-1zM46 197h1v1h-1zM73 197h1v1h-1zM85 197h1v1h-1zM45 198h1v1h-1zM46 198h1v1h-1zM72 198h1v1h-1zM86 198h1v1h-1zM71 199h1v1h-1zM87 199h1v1h-1zM70 200h1v1h-1zM87 200h1v1h-1zM70 201h1v1h-1zM87 201h1v1h-1zM71 202h1v1h-1zM73 203h1v1h-1zM75 204h1v1h-1z" fill="rgb(31, 118, 221)" fill-opacity="1"/>
<path d="M46 185h1v1h-1zM43 186h1v1h-1zM47 187h1v1h-1zM47 188h1v1h-1zM47 190h1v1h-1zM43 191h1v1h-1zM44 193h1v1h-1zM46 193h1v1h-1zM45 194h1v1h-1zM45 195h1v1h-1zM45 196h1v1h-1zM78 196h1v1h-1zM79 196h1v1h-1zM80 196h1v1h-1zM81 196h1v1h-1zM45 197h1v1h-1zM74 197h1v1h-1zM84 197h1v1h-1zM73 198h1v1h-1zM71 200h1v1h-1zM71 201h1v1h-1zM72 202h1v1h-1zM86 202h1v1h-1zM74 203h1v1h-1zM85 203h1v1h-1zM76 204h1v1h-1zM84 204h1v1h-1z" fill="rgb(33, 146, 223)" fill-opacity="1"/>
<path d="M44 185h1v1h-1zM47 189h1v1h-1zM43 190h1v1h-1zM46 192h1v1h-1zM45 193h1v1h-1zM75 197h1v1h-1zM85 198h1v1h-1zM72 199h1v1h-1zM86 199h1v1h-1zM72 200h1v1h-1zM72 201h1v1h-1zM86 201h1v1h-1zM73 202h1v1h-1zM77 204h1v1h-1zM78 204h1v1h-1zM83 204h1v1h-1z" fill="rgb(35, 175, 225)" fill-opacity="1"/>
<path d="M45 185h1v1h-1zM43 187h1v1h-1zM43 189h1v1h-1zM44 192h1v1h-1zM76 197h1v1h-1zM83 197h1v1h-1zM74 198h1v1h-1zM73 199h1v1h-1zM86 200h1v1h-1zM73 201h1v1h-1zM74 202h1v1h-1zM75 203h1v1h-1zM79 204h1v1h-1zM80 204h1v1h-1zM81 204h1v1h-1zM82 204h1v1h-1z" fill="rgb(47, 180, 184)" fill-opacity="1"/>
<path d="M46 186h1v1h-1zM43 188h1v1h-1zM45 192h1v1h-1zM77 197h1v1h-1zM78 197h1v1h-1zM79 197h1v1h-1zM81 197h1v1h-1zM82 197h1v1h-1zM75 198h1v1h-1zM84 198h1v1h-1zM74 199h1v1h-1zM85 199h1v1h-1zM73 200h1v1h-1zM85 202h1v1h-1zM76 203h1v1h-1zM84 203h1v1h-1z" fill="rgb(60, 186, 144)" fill-opacity="1"/>
<path d="M44 186h1v1h-1zM44 191h1v1h-1zM46 191h1v1h-1zM80 197h1v1h-1zM74 200h1v1h-1zM74 201h1v1h-1zM85 201h1v1h-1zM75 202h1v1h-1zM77 203h1v1h-1z" fill="rgb(72, 191, 104)" fill-opacity="1"/>
<path d="M46 187h1v1h-1zM76 198h1v1h-1zM83 198h1v1h-1zM75 199h1v1h-1zM85 200h1v1h-1zM84 202h1v1h-1zM78 203h1v1h-1zM83 203h1v1h-1z" fill="rgb(95, 197, 76)" fill-opacity="1"/>
<path d="M45 186h1v1h-1zM46 190h1v1h-1zM45 191h1v1h-1zM77 198h1v1h-1zM82 198h1v1h-1zM84 199h1v1h-1zM75 200h1v1h-1zM75 201h1v1h-1zM76 202h1v1h-1zM79 203h1v1h-1zM80 203h1v1h-1zM81 203h1v1h-1zM82 203h1v1h-1z" fill="rgb(132, 203, 67)" fill-opacity="1"/>
<path d="M44 187h1v1h-1zM46 188h1v1h-1zM46 189h1v1h-1zM44 190h1v1h-1zM78 198h1v1h-1zM79 198h1v1h-1zM81 198h1v1h-1zM76 199h1v1h-1zM84 200h1v1h-1zM84 201h1v1h-1zM83 202h1v1h-1z" fill="rgb(169, 210, 59)" fill-opacity="1"/>
<path d="M80 198h1v1h-1zM83 199h1v1h-1zM76 200h1v1h-1zM76 201h1v1h-1zM77 202h1v1h-1z" fill="rgb(207, 216, 50)" fill-opacity="1"/>
<path d="M45 187h1v1h-1zM44 188h1v1h-1zM44 189h1v1h-1zM45 190h1v1h-1zM77 199h1v1h-1zM82 199h1v1h-1zM83 200h1v1h-1zM83 201h1v1h-1zM78 202h1v1h-1zM82 202h1v1h-1z" fill="rgb(230, 205, 42)" fill-opacity="1"/>
<path d="M78 199h1v1h-1zM77 200h1v1h-1zM77 201h1v1h-1zM79 202h1v1h-1zM80 202h1v1h-1zM81 202h1v1h-1z" fill="rgb(232, 170, 37)" fill-opacity="1"/>
<path d="M45 188h1v1h-1zM45 189h1v1h-1zM79 199h1v1h-1zM80 199h1v1h-1zM81 199h1v1h-1zM82 200h1v1h-1zM82 201h1v1h-1z" fill="rgb(234, 134, 32)" fill-opacity="1"/>
<path d="M78 200h1v1h-1zM81 200h1v1h-1zM78 201h1v1h-1zM79 201h1v1h-1zM81 201h1v1h-1z" fill="rgb(231, 84, 28)" fill-opacity="1"/>
<path d="M79 200h1v1h-1zM80 200h1v1h-1zM80 201h1v1h-1z" fill="rgb(225, 25, 25)" fill-opacity="1"/>
<rect x="36" y="172.2" width="53.6" height="39.2" fill="none" stroke="#8a8a8a" stroke-width="0.8"/>
<rect x="57.5" y="193.4" width="33" height="18.2" fill="none" stroke="#1a1a1a" stroke-width="0.9"/>
<rect x="35.1" y="157.1" width="60.9" height="60.7" fill="none" stroke="#000" stroke-width="1.2"/>
<line x1="33.1" y1="164.1" x2="35.1" y2="164.1" stroke="#000" stroke-width="0.8" />
<line x1="33.1" y1="177.6" x2="35.1" y2="177.6" stroke="#000" stroke-width="0.8" />
<line x1="33.1" y1="193.3" x2="35.1" y2="193.3" stroke="#000" stroke-width="0.8" />
<line x1="33.1" y1="206.7" x2="35.1" y2="206.7" stroke="#000" stroke-width="0.8" />
<line x1="33.1" y1="217.6" x2="35.1" y2="217.6" stroke="#000" stroke-width="0.8" />
<text x="31.7" y="166.2" font-size="5.9" text-anchor="end" fill="#000" stroke="#000" stroke-width="0.18" >10<tspan baseline-shift="2.83" font-size="3.3">5</tspan></text>
<text x="31.7" y="179.7" font-size="5.9" text-anchor="end" fill="#000" stroke="#000" stroke-width="0.18" >10<tspan baseline-shift="2.83" font-size="3.3">4</tspan></text>
<text x="31.7" y="195.4" font-size="5.9" text-anchor="end" fill="#000" stroke="#000" stroke-width="0.18" >10<tspan baseline-shift="2.83" font-size="3.3">3</tspan></text>
<text x="31.7" y="208.8" font-size="5.9" text-anchor="end" fill="#000" stroke="#000" stroke-width="0.18" >0</text>
<text x="31.7" y="219.7" font-size="5.9" text-anchor="end" fill="#000" stroke="#000" stroke-width="0.18" >-10<tspan baseline-shift="2.83" font-size="3.3">3</tspan></text>
<line x1="45.8" y1="217.8" x2="45.8" y2="219.8" stroke="#000" stroke-width="0.8" />
<line x1="61.4" y1="217.8" x2="61.4" y2="219.8" stroke="#000" stroke-width="0.8" />
<line x1="76.3" y1="217.8" x2="76.3" y2="219.8" stroke="#000" stroke-width="0.8" />
<line x1="89.3" y1="217.8" x2="89.3" y2="219.8" stroke="#000" stroke-width="0.8" />
<text x="45.8" y="227.2" font-size="5.9" text-anchor="middle" fill="#000" stroke="#000" stroke-width="0.18" >0</text>
<text x="61.4" y="227.2" font-size="5.9" text-anchor="middle" fill="#000" stroke="#000" stroke-width="0.18" >10<tspan baseline-shift="2.83" font-size="3.3">3</tspan></text>
<text x="76.3" y="227.2" font-size="5.9" text-anchor="middle" fill="#000" stroke="#000" stroke-width="0.18" >10<tspan baseline-shift="2.83" font-size="3.3">4</tspan></text>
<text x="89.3" y="227.2" font-size="5.9" text-anchor="middle" fill="#000" stroke="#000" stroke-width="0.18" >10<tspan baseline-shift="2.83" font-size="3.3">5</tspan></text>
<text x="65.5" y="154.6" font-size="9.2" text-anchor="middle" fill="#111" stroke="#111" stroke-width="0.05" textLength="19" lengthAdjust="spacingAndGlyphs" >CD8</text>
<text x="18.9" y="192.9" font-size="8.6" text-anchor="middle" fill="#222" stroke="#222" stroke-width="0.18" textLength="16.7" lengthAdjust="spacingAndGlyphs" transform="rotate(-90 18.9 192.9)" >CD27</text>
<text x="47.2" y="235.6" font-size="8.6" text-anchor="middle" fill="#222" stroke="#222" stroke-width="0.18" textLength="17.5" lengthAdjust="spacingAndGlyphs" >CD57</text>
<line x1="61" y1="232.7" x2="143" y2="232.7" stroke="#111" stroke-width="1.1" />
<polygon points="142.2,229.9 142.2,235.5 148,232.7" fill="#111"/>
<path d="M142 173h1v1h-1zM143 174h1v1h-1zM135 175h1v1h-1zM122 176h1v1h-1zM117 177h1v1h-1zM118 177h1v1h-1zM129 177h1v1h-1zM156 177h1v1h-1zM162 177h1v1h-1zM117 178h1v1h-1zM143 179h1v1h-1zM162 179h1v1h-1zM117 180h1v1h-1zM118 180h1v1h-1zM126 180h1v1h-1zM165 180h1v1h-1zM110 181h1v1h-1zM151 181h1v1h-1zM115 182h1v1h-1zM129 182h1v1h-1zM133 182h1v1h-1zM135 182h1v1h-1zM137 182h1v1h-1zM145 182h1v1h-1zM112 183h1v1h-1zM122 183h1v1h-1zM132 183h1v1h-1zM138 183h1v1h-1zM143 183h1v1h-1zM145 183h1v1h-1zM147 183h1v1h-1zM133 184h1v1h-1zM138 184h1v1h-1zM144 184h1v1h-1zM159 184h1v1h-1zM110 185h1v1h-1zM122 185h1v1h-1zM125 185h1v1h-1zM128 185h1v1h-1zM131 185h1v1h-1zM135 185h1v1h-1zM136 185h1v1h-1zM138 185h1v1h-1zM145 185h1v1h-1zM125 186h1v1h-1zM126 186h1v1h-1zM129 186h1v1h-1zM131 186h1v1h-1zM136 186h1v1h-1zM139 186h1v1h-1zM141 186h1v1h-1zM142 186h1v1h-1zM143 186h1v1h-1zM144 186h1v1h-1zM122 187h1v1h-1zM123 187h1v1h-1zM127 187h1v1h-1zM128 187h1v1h-1zM129 187h1v1h-1zM133 187h1v1h-1zM139 187h1v1h-1zM141 187h1v1h-1zM142 187h1v1h-1zM146 187h1v1h-1zM147 187h1v1h-1zM148 187h1v1h-1zM153 187h1v1h-1zM160 187h1v1h-1zM123 188h1v1h-1zM124 188h1v1h-1zM125 188h1v1h-1zM127 188h1v1h-1zM128 188h1v1h-1zM129 188h1v1h-1zM132 188h1v1h-1zM133 188h1v1h-1zM135 188h1v1h-1zM136 188h1v1h-1zM137 188h1v1h-1zM139 188h1v1h-1zM140 188h1v1h-1zM143 188h1v1h-1zM147 188h1v1h-1zM148 188h1v1h-1zM154 188h1v1h-1zM124 189h1v1h-1zM125 189h1v1h-1zM126 189h1v1h-1zM129 189h1v1h-1zM130 189h1v1h-1zM133 189h1v1h-1zM135 189h1v1h-1zM146 189h1v1h-1zM148 189h1v1h-1zM149 189h1v1h-1zM110 190h1v1h-1zM124 190h1v1h-1zM144 190h1v1h-1zM145 190h1v1h-1zM146 190h1v1h-1zM151 190h1v1h-1zM153 190h1v1h-1zM156 190h1v1h-1zM109 191h1v1h-1zM150 191h1v1h-1zM151 191h1v1h-1zM157 191h1v1h-1zM161 191h1v1h-1zM147 192h1v1h-1zM149 192h1v1h-1zM150 192h1v1h-1zM151 192h1v1h-1zM152 192h1v1h-1zM154 192h1v1h-1zM158 192h1v1h-1zM111 193h1v1h-1zM152 193h1v1h-1zM155 193h1v1h-1zM110 194h1v1h-1zM155 194h1v1h-1zM156 194h1v1h-1zM160 194h1v1h-1zM166 194h1v1h-1zM155 195h1v1h-1zM109 196h1v1h-1zM159 196h1v1h-1zM164 196h1v1h-1zM158 197h1v1h-1zM161 197h1v1h-1zM165 197h1v1h-1zM112 198h1v1h-1zM160 198h1v1h-1zM112 199h1v1h-1zM161 199h1v1h-1zM164 199h1v1h-1zM112 200h1v1h-1zM110 201h1v1h-1zM111 201h1v1h-1zM162 201h1v1h-1zM165 201h1v1h-1zM165 202h1v1h-1zM112 203h1v1h-1zM124 203h1v1h-1zM162 203h1v1h-1zM166 203h1v1h-1zM165 204h1v1h-1zM125 205h1v1h-1zM126 205h1v1h-1zM127 205h1v1h-1zM128 205h1v1h-1zM162 205h1v1h-1zM126 206h1v1h-1zM130 206h1v1h-1zM131 206h1v1h-1zM132 206h1v1h-1zM161 206h1v1h-1zM113 207h1v1h-1zM122 207h1v1h-1zM132 207h1v1h-1zM133 207h1v1h-1zM136 207h1v1h-1zM138 207h1v1h-1zM145 207h1v1h-1zM160 207h1v1h-1zM131 208h1v1h-1zM132 208h1v1h-1zM134 208h1v1h-1zM135 208h1v1h-1zM139 208h1v1h-1zM140 208h1v1h-1zM141 208h1v1h-1zM144 208h1v1h-1zM132 209h1v1h-1zM136 209h1v1h-1zM147 209h1v1h-1zM153 209h1v1h-1zM155 209h1v1h-1zM158 209h1v1h-1zM121 210h1v1h-1zM140 210h1v1h-1zM118 212h1v1h-1zM120 212h1v1h-1zM117 213h1v1h-1zM118 213h1v1h-1zM140 213h1v1h-1zM117 214h1v1h-1zM118 214h1v1h-1zM117 215h1v1h-1z" fill="rgb(155, 155, 232)" fill-opacity="0.4"/>
<path d="M117 181h1v1h-1zM118 181h1v1h-1zM116 182h1v1h-1zM117 182h1v1h-1zM118 182h1v1h-1zM119 182h1v1h-1zM116 183h1v1h-1zM119 183h1v1h-1zM120 183h1v1h-1zM115 184h1v1h-1zM120 185h1v1h-1zM121 188h1v1h-1zM141 188h1v1h-1zM142 188h1v1h-1zM113 189h1v1h-1zM131 189h1v1h-1zM132 189h1v1h-1zM138 189h1v1h-1zM140 189h1v1h-1zM141 189h1v1h-1zM142 189h1v1h-1zM143 189h1v1h-1zM113 190h1v1h-1zM122 190h1v1h-1zM126 190h1v1h-1zM127 190h1v1h-1zM129 190h1v1h-1zM131 190h1v1h-1zM134 190h1v1h-1zM135 190h1v1h-1zM137 190h1v1h-1zM138 190h1v1h-1zM139 190h1v1h-1zM140 190h1v1h-1zM141 190h1v1h-1zM142 190h1v1h-1zM143 190h1v1h-1zM113 191h1v1h-1zM125 191h1v1h-1zM126 191h1v1h-1zM127 191h1v1h-1zM128 191h1v1h-1zM129 191h1v1h-1zM130 191h1v1h-1zM132 191h1v1h-1zM133 191h1v1h-1zM135 191h1v1h-1zM136 191h1v1h-1zM138 191h1v1h-1zM140 191h1v1h-1zM143 191h1v1h-1zM144 191h1v1h-1zM122 192h1v1h-1zM123 192h1v1h-1zM124 192h1v1h-1zM125 192h1v1h-1zM126 192h1v1h-1zM127 192h1v1h-1zM129 192h1v1h-1zM130 192h1v1h-1zM131 192h1v1h-1zM132 192h1v1h-1zM133 192h1v1h-1zM134 192h1v1h-1zM136 192h1v1h-1zM137 192h1v1h-1zM138 192h1v1h-1zM139 192h1v1h-1zM141 192h1v1h-1zM143 192h1v1h-1zM144 192h1v1h-1zM145 192h1v1h-1zM113 193h1v1h-1zM123 193h1v1h-1zM124 193h1v1h-1zM125 193h1v1h-1zM126 193h1v1h-1zM127 193h1v1h-1zM128 193h1v1h-1zM129 193h1v1h-1zM131 193h1v1h-1zM132 193h1v1h-1zM133 193h1v1h-1zM134 193h1v1h-1zM135 193h1v1h-1zM136 193h1v1h-1zM137 193h1v1h-1zM138 193h1v1h-1zM139 193h1v1h-1zM140 193h1v1h-1zM141 193h1v1h-1zM142 193h1v1h-1zM143 193h1v1h-1zM144 193h1v1h-1zM145 193h1v1h-1zM146 193h1v1h-1zM147 193h1v1h-1zM148 193h1v1h-1zM122 194h1v1h-1zM123 194h1v1h-1zM125 194h1v1h-1zM126 194h1v1h-1zM128 194h1v1h-1zM129 194h1v1h-1zM130 194h1v1h-1zM131 194h1v1h-1zM132 194h1v1h-1zM133 194h1v1h-1zM134 194h1v1h-1zM135 194h1v1h-1zM136 194h1v1h-1zM137 194h1v1h-1zM138 194h1v1h-1zM139 194h1v1h-1zM140 194h1v1h-1zM141 194h1v1h-1zM143 194h1v1h-1zM144 194h1v1h-1zM145 194h1v1h-1zM146 194h1v1h-1zM147 194h1v1h-1zM148 194h1v1h-1zM149 194h1v1h-1zM151 194h1v1h-1zM113 195h1v1h-1zM122 195h1v1h-1zM123 195h1v1h-1zM124 195h1v1h-1zM125 195h1v1h-1zM126 195h1v1h-1zM128 195h1v1h-1zM129 195h1v1h-1zM130 195h1v1h-1zM131 195h1v1h-1zM132 195h1v1h-1zM133 195h1v1h-1zM134 195h1v1h-1zM135 195h1v1h-1zM136 195h1v1h-1zM137 195h1v1h-1zM141 195h1v1h-1zM142 195h1v1h-1zM143 195h1v1h-1zM144 195h1v1h-1zM145 195h1v1h-1zM147 195h1v1h-1zM148 195h1v1h-1zM149 195h1v1h-1zM150 195h1v1h-1zM151 195h1v1h-1zM152 195h1v1h-1zM153 195h1v1h-1zM154 195h1v1h-1zM113 196h1v1h-1zM124 196h1v1h-1zM126 196h1v1h-1zM127 196h1v1h-1zM129 196h1v1h-1zM130 196h1v1h-1zM131 196h1v1h-1zM132 196h1v1h-1zM133 196h1v1h-1zM135 196h1v1h-1zM136 196h1v1h-1zM137 196h1v1h-1zM142 196h1v1h-1zM143 196h1v1h-1zM145 196h1v1h-1zM146 196h1v1h-1zM148 196h1v1h-1zM149 196h1v1h-1zM150 196h1v1h-1zM151 196h1v1h-1zM153 196h1v1h-1zM154 196h1v1h-1zM155 196h1v1h-1zM123 197h1v1h-1zM124 197h1v1h-1zM126 197h1v1h-1zM127 197h1v1h-1zM128 197h1v1h-1zM129 197h1v1h-1zM130 197h1v1h-1zM131 197h1v1h-1zM132 197h1v1h-1zM134 197h1v1h-1zM135 197h1v1h-1zM136 197h1v1h-1zM137 197h1v1h-1zM143 197h1v1h-1zM144 197h1v1h-1zM151 197h1v1h-1zM152 197h1v1h-1zM153 197h1v1h-1zM155 197h1v1h-1zM156 197h1v1h-1zM157 197h1v1h-1zM113 198h1v1h-1zM123 198h1v1h-1zM124 198h1v1h-1zM125 198h1v1h-1zM126 198h1v1h-1zM127 198h1v1h-1zM128 198h1v1h-1zM129 198h1v1h-1zM130 198h1v1h-1zM131 198h1v1h-1zM135 198h1v1h-1zM136 198h1v1h-1zM137 198h1v1h-1zM154 198h1v1h-1zM155 198h1v1h-1zM156 198h1v1h-1zM157 198h1v1h-1zM158 198h1v1h-1zM159 198h1v1h-1zM124 199h1v1h-1zM125 199h1v1h-1zM126 199h1v1h-1zM127 199h1v1h-1zM128 199h1v1h-1zM129 199h1v1h-1zM135 199h1v1h-1zM136 199h1v1h-1zM157 199h1v1h-1zM159 199h1v1h-1zM122 200h1v1h-1zM123 200h1v1h-1zM124 200h1v1h-1zM125 200h1v1h-1zM126 200h1v1h-1zM127 200h1v1h-1zM128 200h1v1h-1zM129 200h1v1h-1zM134 200h1v1h-1zM135 200h1v1h-1zM159 200h1v1h-1zM160 200h1v1h-1zM113 201h1v1h-1zM122 201h1v1h-1zM123 201h1v1h-1zM126 201h1v1h-1zM127 201h1v1h-1zM128 201h1v1h-1zM129 201h1v1h-1zM133 201h1v1h-1zM134 201h1v1h-1zM160 201h1v1h-1zM161 201h1v1h-1zM122 202h1v1h-1zM123 202h1v1h-1zM124 202h1v1h-1zM125 202h1v1h-1zM126 202h1v1h-1zM127 202h1v1h-1zM128 202h1v1h-1zM129 202h1v1h-1zM130 202h1v1h-1zM131 202h1v1h-1zM132 202h1v1h-1zM133 202h1v1h-1zM134 202h1v1h-1zM135 202h1v1h-1zM160 202h1v1h-1zM161 202h1v1h-1zM122 203h1v1h-1zM126 203h1v1h-1zM127 203h1v1h-1zM129 203h1v1h-1zM130 203h1v1h-1zM131 203h1v1h-1zM132 203h1v1h-1zM133 203h1v1h-1zM134 203h1v1h-1zM135 203h1v1h-1zM136 203h1v1h-1zM160 203h1v1h-1zM161 203h1v1h-1zM114 204h1v1h-1zM127 204h1v1h-1zM130 204h1v1h-1zM132 204h1v1h-1zM133 204h1v1h-1zM134 204h1v1h-1zM135 204h1v1h-1zM136 204h1v1h-1zM137 204h1v1h-1zM138 204h1v1h-1zM139 204h1v1h-1zM140 204h1v1h-1zM160 204h1v1h-1zM121 205h1v1h-1zM122 205h1v1h-1zM134 205h1v1h-1zM135 205h1v1h-1zM136 205h1v1h-1zM139 205h1v1h-1zM140 205h1v1h-1zM141 205h1v1h-1zM142 205h1v1h-1zM143 205h1v1h-1zM145 205h1v1h-1zM160 205h1v1h-1zM121 206h1v1h-1zM135 206h1v1h-1zM137 206h1v1h-1zM138 206h1v1h-1zM139 206h1v1h-1zM140 206h1v1h-1zM141 206h1v1h-1zM142 206h1v1h-1zM143 206h1v1h-1zM144 206h1v1h-1zM146 206h1v1h-1zM147 206h1v1h-1zM158 206h1v1h-1zM159 206h1v1h-1zM160 206h1v1h-1zM139 207h1v1h-1zM140 207h1v1h-1zM143 207h1v1h-1zM147 207h1v1h-1zM148 207h1v1h-1zM149 207h1v1h-1zM155 207h1v1h-1zM156 207h1v1h-1zM158 207h1v1h-1zM115 208h1v1h-1zM120 208h1v1h-1zM148 208h1v1h-1zM149 208h1v1h-1zM150 208h1v1h-1zM153 208h1v1h-1zM154 208h1v1h-1zM115 209h1v1h-1zM120 209h1v1h-1zM117 210h1v1h-1zM118 210h1v1h-1zM119 210h1v1h-1zM117 211h1v1h-1zM118 211h1v1h-1zM119 211h1v1h-1z" fill="rgb(115, 120, 218)" fill-opacity="0.61"/>
<path d="M117 183h1v1h-1zM118 183h1v1h-1zM116 184h1v1h-1zM119 184h1v1h-1zM115 185h1v1h-1zM120 186h1v1h-1zM121 190h1v1h-1zM121 191h1v1h-1zM121 192h1v1h-1zM138 195h1v1h-1zM139 195h1v1h-1zM140 195h1v1h-1zM122 196h1v1h-1zM138 196h1v1h-1zM139 196h1v1h-1zM140 196h1v1h-1zM141 196h1v1h-1zM122 197h1v1h-1zM133 197h1v1h-1zM138 197h1v1h-1zM139 197h1v1h-1zM140 197h1v1h-1zM141 197h1v1h-1zM142 197h1v1h-1zM145 197h1v1h-1zM146 197h1v1h-1zM147 197h1v1h-1zM148 197h1v1h-1zM149 197h1v1h-1zM150 197h1v1h-1zM122 198h1v1h-1zM132 198h1v1h-1zM133 198h1v1h-1zM134 198h1v1h-1zM138 198h1v1h-1zM139 198h1v1h-1zM140 198h1v1h-1zM141 198h1v1h-1zM142 198h1v1h-1zM143 198h1v1h-1zM144 198h1v1h-1zM145 198h1v1h-1zM146 198h1v1h-1zM147 198h1v1h-1zM148 198h1v1h-1zM149 198h1v1h-1zM150 198h1v1h-1zM151 198h1v1h-1zM152 198h1v1h-1zM153 198h1v1h-1zM130 199h1v1h-1zM131 199h1v1h-1zM132 199h1v1h-1zM133 199h1v1h-1zM134 199h1v1h-1zM137 199h1v1h-1zM138 199h1v1h-1zM139 199h1v1h-1zM140 199h1v1h-1zM141 199h1v1h-1zM142 199h1v1h-1zM143 199h1v1h-1zM153 199h1v1h-1zM154 199h1v1h-1zM155 199h1v1h-1zM156 199h1v1h-1zM130 200h1v1h-1zM131 200h1v1h-1zM132 200h1v1h-1zM133 200h1v1h-1zM136 200h1v1h-1zM137 200h1v1h-1zM138 200h1v1h-1zM139 200h1v1h-1zM140 200h1v1h-1zM141 200h1v1h-1zM158 200h1v1h-1zM121 201h1v1h-1zM130 201h1v1h-1zM131 201h1v1h-1zM132 201h1v1h-1zM136 201h1v1h-1zM137 201h1v1h-1zM138 201h1v1h-1zM139 201h1v1h-1zM140 201h1v1h-1zM141 201h1v1h-1zM158 201h1v1h-1zM159 201h1v1h-1zM114 202h1v1h-1zM121 202h1v1h-1zM136 202h1v1h-1zM137 202h1v1h-1zM138 202h1v1h-1zM139 202h1v1h-1zM140 202h1v1h-1zM141 202h1v1h-1zM142 202h1v1h-1zM143 202h1v1h-1zM159 202h1v1h-1zM114 203h1v1h-1zM121 203h1v1h-1zM137 203h1v1h-1zM138 203h1v1h-1zM139 203h1v1h-1zM140 203h1v1h-1zM142 203h1v1h-1zM143 203h1v1h-1zM144 203h1v1h-1zM145 203h1v1h-1zM159 203h1v1h-1zM121 204h1v1h-1zM141 204h1v1h-1zM142 204h1v1h-1zM143 204h1v1h-1zM144 204h1v1h-1zM145 204h1v1h-1zM146 204h1v1h-1zM159 204h1v1h-1zM146 205h1v1h-1zM147 205h1v1h-1zM158 205h1v1h-1zM159 205h1v1h-1zM115 206h1v1h-1zM120 206h1v1h-1zM148 206h1v1h-1zM149 206h1v1h-1zM156 206h1v1h-1zM157 206h1v1h-1zM115 207h1v1h-1zM120 207h1v1h-1zM150 207h1v1h-1zM151 207h1v1h-1zM152 207h1v1h-1zM153 207h1v1h-1zM154 207h1v1h-1zM116 208h1v1h-1zM118 208h1v1h-1zM119 208h1v1h-1zM116 209h1v1h-1zM117 209h1v1h-1zM118 209h1v1h-1z" fill="rgb(77, 88, 205)" fill-opacity="0.82"/>
<path d="M117 184h1v1h-1zM118 184h1v1h-1zM119 185h1v1h-1zM120 187h1v1h-1zM114 190h1v1h-1zM114 191h1v1h-1zM114 192h1v1h-1zM114 193h1v1h-1zM121 193h1v1h-1zM121 194h1v1h-1zM114 195h1v1h-1zM121 195h1v1h-1zM121 196h1v1h-1zM114 197h1v1h-1zM121 197h1v1h-1zM121 198h1v1h-1zM114 199h1v1h-1zM121 199h1v1h-1zM144 199h1v1h-1zM145 199h1v1h-1zM146 199h1v1h-1zM147 199h1v1h-1zM148 199h1v1h-1zM149 199h1v1h-1zM150 199h1v1h-1zM151 199h1v1h-1zM152 199h1v1h-1zM114 200h1v1h-1zM121 200h1v1h-1zM142 200h1v1h-1zM143 200h1v1h-1zM144 200h1v1h-1zM145 200h1v1h-1zM146 200h1v1h-1zM147 200h1v1h-1zM155 200h1v1h-1zM156 200h1v1h-1zM114 201h1v1h-1zM142 201h1v1h-1zM143 201h1v1h-1zM144 201h1v1h-1zM145 201h1v1h-1zM146 201h1v1h-1zM157 201h1v1h-1zM144 202h1v1h-1zM145 202h1v1h-1zM146 202h1v1h-1zM158 202h1v1h-1zM146 203h1v1h-1zM158 203h1v1h-1zM115 204h1v1h-1zM147 204h1v1h-1zM148 204h1v1h-1zM158 204h1v1h-1zM115 205h1v1h-1zM120 205h1v1h-1zM148 205h1v1h-1zM149 205h1v1h-1zM157 205h1v1h-1zM116 206h1v1h-1zM150 206h1v1h-1zM151 206h1v1h-1zM152 206h1v1h-1zM153 206h1v1h-1zM154 206h1v1h-1zM155 206h1v1h-1zM116 207h1v1h-1zM118 207h1v1h-1zM119 207h1v1h-1zM117 208h1v1h-1z" fill="rgb(50, 73, 201)" fill-opacity="1"/>
<path d="M116 185h1v1h-1zM115 186h1v1h-1zM119 186h1v1h-1zM114 196h1v1h-1zM148 200h1v1h-1zM149 200h1v1h-1zM150 200h1v1h-1zM151 200h1v1h-1zM152 200h1v1h-1zM153 200h1v1h-1zM154 200h1v1h-1zM147 201h1v1h-1zM148 201h1v1h-1zM156 201h1v1h-1zM147 202h1v1h-1zM157 202h1v1h-1zM115 203h1v1h-1zM120 203h1v1h-1zM147 203h1v1h-1zM148 203h1v1h-1zM157 203h1v1h-1zM120 204h1v1h-1zM149 204h1v1h-1zM157 204h1v1h-1zM150 205h1v1h-1zM155 205h1v1h-1zM156 205h1v1h-1zM119 206h1v1h-1zM117 207h1v1h-1z" fill="rgb(40, 81, 210)" fill-opacity="1"/>
<path d="M117 185h1v1h-1zM118 185h1v1h-1zM115 187h1v1h-1zM120 189h1v1h-1zM120 190h1v1h-1zM120 201h1v1h-1zM149 201h1v1h-1zM150 201h1v1h-1zM154 201h1v1h-1zM155 201h1v1h-1zM115 202h1v1h-1zM120 202h1v1h-1zM148 202h1v1h-1zM149 202h1v1h-1zM156 202h1v1h-1zM149 203h1v1h-1zM156 203h1v1h-1zM156 204h1v1h-1zM116 205h1v1h-1zM119 205h1v1h-1zM151 205h1v1h-1zM152 205h1v1h-1zM153 205h1v1h-1zM154 205h1v1h-1zM117 206h1v1h-1zM118 206h1v1h-1z" fill="rgb(30, 90, 220)" fill-opacity="1"/>
<path d="M115 188h1v1h-1zM120 191h1v1h-1zM120 192h1v1h-1zM120 193h1v1h-1zM120 194h1v1h-1zM120 195h1v1h-1zM120 200h1v1h-1zM115 201h1v1h-1zM151 201h1v1h-1zM152 201h1v1h-1zM153 201h1v1h-1zM150 202h1v1h-1zM155 202h1v1h-1zM155 203h1v1h-1zM116 204h1v1h-1zM119 204h1v1h-1zM150 204h1v1h-1zM154 204h1v1h-1zM155 204h1v1h-1zM117 205h1v1h-1zM118 205h1v1h-1z" fill="rgb(31, 118, 221)" fill-opacity="1"/>
<path d="M116 186h1v1h-1zM118 186h1v1h-1zM119 187h1v1h-1zM115 189h1v1h-1zM120 196h1v1h-1zM120 197h1v1h-1zM120 198h1v1h-1zM120 199h1v1h-1zM115 200h1v1h-1zM151 202h1v1h-1zM152 202h1v1h-1zM153 202h1v1h-1zM154 202h1v1h-1zM119 203h1v1h-1zM150 203h1v1h-1zM154 203h1v1h-1zM151 204h1v1h-1zM152 204h1v1h-1zM153 204h1v1h-1z" fill="rgb(33, 146, 223)" fill-opacity="1"/>
<path d="M117 186h1v1h-1zM115 190h1v1h-1zM115 191h1v1h-1zM115 192h1v1h-1zM115 193h1v1h-1zM115 194h1v1h-1zM115 195h1v1h-1zM115 197h1v1h-1zM115 198h1v1h-1zM115 199h1v1h-1zM119 202h1v1h-1zM116 203h1v1h-1zM151 203h1v1h-1zM152 203h1v1h-1zM153 203h1v1h-1zM117 204h1v1h-1zM118 204h1v1h-1z" fill="rgb(35, 175, 225)" fill-opacity="1"/>
<path d="M116 187h1v1h-1zM119 188h1v1h-1zM115 196h1v1h-1zM116 202h1v1h-1z" fill="rgb(47, 180, 184)" fill-opacity="1"/>
<path d="M119 189h1v1h-1zM119 201h1v1h-1zM117 203h1v1h-1zM118 203h1v1h-1z" fill="rgb(60, 186, 144)" fill-opacity="1"/>
<path d="M118 187h1v1h-1zM119 190h1v1h-1zM119 200h1v1h-1zM116 201h1v1h-1z" fill="rgb(72, 191, 104)" fill-opacity="1"/>
<path d="M117 187h1v1h-1zM116 188h1v1h-1zM119 191h1v1h-1zM119 192h1v1h-1zM119 193h1v1h-1zM119 194h1v1h-1zM116 200h1v1h-1zM117 202h1v1h-1zM118 202h1v1h-1z" fill="rgb(95, 197, 76)" fill-opacity="1"/>
<path d="M119 195h1v1h-1zM119 196h1v1h-1zM119 197h1v1h-1zM119 198h1v1h-1zM119 199h1v1h-1z" fill="rgb(132, 203, 67)" fill-opacity="1"/>
<path d="M118 188h1v1h-1zM116 189h1v1h-1zM116 190h1v1h-1zM116 191h1v1h-1zM116 192h1v1h-1zM116 193h1v1h-1zM116 194h1v1h-1zM116 199h1v1h-1zM117 201h1v1h-1zM118 201h1v1h-1z" fill="rgb(169, 210, 59)" fill-opacity="1"/>
<path d="M116 195h1v1h-1zM116 196h1v1h-1zM116 197h1v1h-1zM116 198h1v1h-1z" fill="rgb(207, 216, 50)" fill-opacity="1"/>
<path d="M117 188h1v1h-1zM118 189h1v1h-1zM117 200h1v1h-1zM118 200h1v1h-1z" fill="rgb(230, 205, 42)" fill-opacity="1"/>
<path d="M118 190h1v1h-1zM118 191h1v1h-1zM118 192h1v1h-1zM118 193h1v1h-1z" fill="rgb(232, 170, 37)" fill-opacity="1"/>
<path d="M117 189h1v1h-1zM117 192h1v1h-1zM117 193h1v1h-1zM118 194h1v1h-1zM118 195h1v1h-1zM117 199h1v1h-1zM118 199h1v1h-1z" fill="rgb(234, 134, 32)" fill-opacity="1"/>
<path d="M117 190h1v1h-1zM117 191h1v1h-1zM117 194h1v1h-1zM118 196h1v1h-1zM118 197h1v1h-1zM117 198h1v1h-1zM118 198h1v1h-1z" fill="rgb(231, 84, 28)" fill-opacity="1"/>
<path d="M117 195h1v1h-1zM117 196h1v1h-1zM117 197h1v1h-1z" fill="rgb(225, 25, 25)" fill-opacity="1"/>
<rect x="108.2" y="173.5" width="53" height="39.2" fill="none" stroke="#8a8a8a" stroke-width="0.8"/>
<rect x="129.7" y="194.5" width="32.9" height="18.2" fill="none" stroke="#1a1a1a" stroke-width="0.9"/>
<rect x="107.0" y="157.6" width="60.2" height="60" fill="none" stroke="#000" stroke-width="1.2"/>
<line x1="105" y1="163.7" x2="107" y2="163.7" stroke="#000" stroke-width="0.8" />
<line x1="105" y1="177.5" x2="107" y2="177.5" stroke="#000" stroke-width="0.8" />
<line x1="105" y1="193.7" x2="107" y2="193.7" stroke="#000" stroke-width="0.8" />
<line x1="105" y1="206.4" x2="107" y2="206.4" stroke="#000" stroke-width="0.8" />
<line x1="105" y1="217.4" x2="107" y2="217.4" stroke="#000" stroke-width="0.8" />
<text x="104.2" y="165.7" font-size="5.9" text-anchor="end" fill="#000" stroke="#000" stroke-width="0.18" >10<tspan baseline-shift="2.83" font-size="3.3">5</tspan></text>
<text x="104.2" y="179.5" font-size="5.9" text-anchor="end" fill="#000" stroke="#000" stroke-width="0.18" >10<tspan baseline-shift="2.83" font-size="3.3">4</tspan></text>
<text x="104.2" y="195.7" font-size="5.9" text-anchor="end" fill="#000" stroke="#000" stroke-width="0.18" >10<tspan baseline-shift="2.83" font-size="3.3">3</tspan></text>
<text x="104.2" y="208.4" font-size="5.9" text-anchor="end" fill="#000" stroke="#000" stroke-width="0.18" >0</text>
<text x="104.2" y="219.4" font-size="5.9" text-anchor="end" fill="#000" stroke="#000" stroke-width="0.18" >-10<tspan baseline-shift="2.83" font-size="3.3">3</tspan></text>
<line x1="114.6" y1="217.6" x2="114.6" y2="219.6" stroke="#000" stroke-width="0.8" />
<line x1="130.8" y1="217.6" x2="130.8" y2="219.6" stroke="#000" stroke-width="0.8" />
<line x1="145.4" y1="217.6" x2="145.4" y2="219.6" stroke="#000" stroke-width="0.8" />
<line x1="160" y1="217.6" x2="160" y2="219.6" stroke="#000" stroke-width="0.8" />
<text x="114.6" y="227.2" font-size="5.9" text-anchor="middle" fill="#000" stroke="#000" stroke-width="0.18" >0</text>
<text x="130.8" y="227.2" font-size="5.9" text-anchor="middle" fill="#000" stroke="#000" stroke-width="0.18" >10<tspan baseline-shift="2.83" font-size="3.3">3</tspan></text>
<text x="145.4" y="227.2" font-size="5.9" text-anchor="middle" fill="#000" stroke="#000" stroke-width="0.18" >10<tspan baseline-shift="2.83" font-size="3.3">4</tspan></text>
<text x="160" y="227.2" font-size="5.9" text-anchor="middle" fill="#000" stroke="#000" stroke-width="0.18" >10<tspan baseline-shift="2.83" font-size="3.3">5</tspan></text>
<text x="137" y="155.6" font-size="9.2" text-anchor="middle" fill="#111" stroke="#111" stroke-width="0.05" textLength="19" lengthAdjust="spacingAndGlyphs" >CD4</text>
<text x="183.6" y="15.5" font-size="11.2" text-anchor="start" fill="#000" font-weight="bold" >B</text>
<line x1="220.3" y1="45.4" x2="220.3" y2="155.3" stroke="#222" stroke-width="1.1" />
<line x1="220.3" y1="155" x2="330" y2="155" stroke="#222" stroke-width="1.1" />
<line x1="216" y1="45.9" x2="220.3" y2="45.9" stroke="#000" stroke-width="0.8" />
<line x1="216" y1="82.23" x2="220.3" y2="82.23" stroke="#000" stroke-width="0.8" />
<line x1="216" y1="118.56" x2="220.3" y2="118.56" stroke="#000" stroke-width="0.8" />
<line x1="216" y1="154.89" x2="220.3" y2="154.89" stroke="#000" stroke-width="0.8" />
<line x1="218.3" y1="143.95" x2="220.3" y2="143.95" stroke="#000" stroke-width="0.6" />
<line x1="218.3" y1="137.56" x2="220.3" y2="137.56" stroke="#000" stroke-width="0.6" />
<line x1="218.3" y1="133.02" x2="220.3" y2="133.02" stroke="#000" stroke-width="0.6" />
<line x1="218.3" y1="129.5" x2="220.3" y2="129.5" stroke="#000" stroke-width="0.6" />
<line x1="218.3" y1="126.62" x2="220.3" y2="126.62" stroke="#000" stroke-width="0.6" />
<line x1="218.3" y1="124.19" x2="220.3" y2="124.19" stroke="#000" stroke-width="0.6" />
<line x1="218.3" y1="122.08" x2="220.3" y2="122.08" stroke="#000" stroke-width="0.6" />
<line x1="218.3" y1="120.22" x2="220.3" y2="120.22" stroke="#000" stroke-width="0.6" />
<line x1="218.3" y1="107.62" x2="220.3" y2="107.62" stroke="#000" stroke-width="0.6" />
<line x1="218.3" y1="101.23" x2="220.3" y2="101.23" stroke="#000" stroke-width="0.6" />
<line x1="218.3" y1="96.69" x2="220.3" y2="96.69" stroke="#000" stroke-width="0.6" />
<line x1="218.3" y1="93.17" x2="220.3" y2="93.17" stroke="#000" stroke-width="0.6" />
<line x1="218.3" y1="90.29" x2="220.3" y2="90.29" stroke="#000" stroke-width="0.6" />
<line x1="218.3" y1="87.86" x2="220.3" y2="87.86" stroke="#000" stroke-width="0.6" />
<line x1="218.3" y1="85.75" x2="220.3" y2="85.75" stroke="#000" stroke-width="0.6" />
<line x1="218.3" y1="83.89" x2="220.3" y2="83.89" stroke="#000" stroke-width="0.6" />
<line x1="218.3" y1="71.29" x2="220.3" y2="71.29" stroke="#000" stroke-width="0.6" />
<line x1="218.3" y1="64.9" x2="220.3" y2="64.9" stroke="#000" stroke-width="0.6" />
<line x1="218.3" y1="60.36" x2="220.3" y2="60.36" stroke="#000" stroke-width="0.6" />
<line x1="218.3" y1="56.84" x2="220.3" y2="56.84" stroke="#000" stroke-width="0.6" />
<line x1="218.3" y1="53.96" x2="220.3" y2="53.96" stroke="#000" stroke-width="0.6" />
<line x1="218.3" y1="51.53" x2="220.3" y2="51.53" stroke="#000" stroke-width="0.6" />
<line x1="218.3" y1="49.42" x2="220.3" y2="49.42" stroke="#000" stroke-width="0.6" />
<line x1="218.3" y1="47.56" x2="220.3" y2="47.56" stroke="#000" stroke-width="0.6" />
<text x="214.8" y="48.4" font-size="7.8" text-anchor="end" fill="#111" stroke="#111" stroke-width="0.18" >100</text>
<text x="214.8" y="84.73" font-size="7.8" text-anchor="end" fill="#111" stroke="#111" stroke-width="0.18" >10</text>
<text x="214.8" y="121.06" font-size="7.8" text-anchor="end" fill="#111" stroke="#111" stroke-width="0.18" >1</text>
<text x="214.8" y="157.39" font-size="7.8" text-anchor="end" fill="#111" stroke="#111" stroke-width="0.18" >0.1</text>
<line x1="237" y1="155" x2="237" y2="158.3" stroke="#222" stroke-width="0.9" />
<line x1="262.4" y1="155" x2="262.4" y2="158.3" stroke="#222" stroke-width="0.9" />
<line x1="287.6" y1="155" x2="287.6" y2="158.3" stroke="#222" stroke-width="0.9" />
<line x1="313" y1="155" x2="313" y2="158.3" stroke="#222" stroke-width="0.9" />
<line x1="237" y1="81.7" x2="237" y2="94.3" stroke="#2a2a2a" stroke-width="1.0" />
<line x1="232.4" y1="81.7" x2="241.6" y2="81.7" stroke="#2a2a2a" stroke-width="1.15" />
<line x1="237" y1="117" x2="237" y2="147.7" stroke="#2a2a2a" stroke-width="1.0" />
<line x1="232.4" y1="147.7" x2="241.6" y2="147.7" stroke="#2a2a2a" stroke-width="1.15" />
<rect x="228.65" y="94.3" width="16.7" height="22.7" fill="#c32033"/>
<rect x="228.65" y="108.25" width="16.7" height="1.5" fill="#1a1a1a" fill-opacity="0.82"/>
<line x1="262.4" y1="54.4" x2="262.4" y2="64" stroke="#2a2a2a" stroke-width="1.0" />
<line x1="257.8" y1="54.4" x2="267" y2="54.4" stroke="#2a2a2a" stroke-width="1.15" />
<line x1="262.4" y1="105.4" x2="262.4" y2="113.4" stroke="#2a2a2a" stroke-width="1.0" />
<line x1="257.8" y1="113.4" x2="267" y2="113.4" stroke="#2a2a2a" stroke-width="1.15" />
<rect x="254.05" y="64" width="16.7" height="41.4" fill="#045586"/>
<rect x="254.05" y="77.15" width="16.7" height="1.5" fill="#1a1a1a" fill-opacity="0.82"/>
<line x1="287.6" y1="52.5" x2="287.6" y2="69.8" stroke="#2a2a2a" stroke-width="1.0" />
<line x1="283" y1="52.5" x2="292.2" y2="52.5" stroke="#2a2a2a" stroke-width="1.15" />
<line x1="287.6" y1="99.5" x2="287.6" y2="114.9" stroke="#2a2a2a" stroke-width="1.0" />
<line x1="283" y1="114.9" x2="292.2" y2="114.9" stroke="#2a2a2a" stroke-width="1.15" />
<rect x="279.25" y="69.8" width="16.7" height="29.7" fill="#3db54c"/>
<rect x="279.25" y="94.95" width="16.7" height="1.5" fill="#1a1a1a" fill-opacity="0.82"/>
<line x1="313" y1="56.2" x2="313" y2="66.3" stroke="#2a2a2a" stroke-width="1.0" />
<line x1="308.4" y1="56.2" x2="317.6" y2="56.2" stroke="#2a2a2a" stroke-width="1.15" />
<line x1="313" y1="86" x2="313" y2="105" stroke="#2a2a2a" stroke-width="1.0" />
<line x1="308.4" y1="105" x2="317.6" y2="105" stroke="#2a2a2a" stroke-width="1.15" />
<rect x="304.65" y="66.3" width="16.7" height="19.7" fill="#5d296e"/>
<rect x="304.65" y="71.75" width="16.7" height="1.5" fill="#1a1a1a" fill-opacity="0.82"/>
<text x="237" y="169.1" font-size="8.0" text-anchor="middle" fill="#222" stroke="#222" stroke-width="0.18" textLength="18.4" lengthAdjust="spacingAndGlyphs" >D-/R-</text>
<text x="262.4" y="169.1" font-size="8.0" text-anchor="middle" fill="#222" stroke="#222" stroke-width="0.18" textLength="21.6" lengthAdjust="spacingAndGlyphs" >D-/R+</text>
<text x="287.6" y="169.1" font-size="8.0" text-anchor="middle" fill="#222" stroke="#222" stroke-width="0.18" textLength="23.2" lengthAdjust="spacingAndGlyphs" >D+/R-</text>
<text x="313" y="169.1" font-size="8.0" text-anchor="middle" fill="#222" stroke="#222" stroke-width="0.18" textLength="24.2" lengthAdjust="spacingAndGlyphs" >D+/R+</text>
<text x="239.4" y="178.1" font-size="8.0" text-anchor="middle" fill="#222" stroke="#222" stroke-width="0.18" textLength="20.8" lengthAdjust="spacingAndGlyphs" >N=23</text>
<text x="263" y="178.1" font-size="8.0" text-anchor="middle" fill="#222" stroke="#222" stroke-width="0.18" textLength="8.8" lengthAdjust="spacingAndGlyphs" >20</text>
<text x="288.8" y="178.1" font-size="8.0" text-anchor="middle" fill="#222" stroke="#222" stroke-width="0.18" textLength="8.1" lengthAdjust="spacingAndGlyphs" >18</text>
<text x="313" y="178.1" font-size="8.0" text-anchor="middle" fill="#222" stroke="#222" stroke-width="0.18" textLength="9.1" lengthAdjust="spacingAndGlyphs" >24</text>
<text x="198" y="96" font-size="8.6" text-anchor="middle" fill="#222" stroke="#222" stroke-width="0.18" textLength="65.5" lengthAdjust="spacingAndGlyphs" transform="rotate(-90 198 96)" >CD4%CD57<tspan baseline-shift="1.72" font-size="6.88">+</tspan>/CD27<tspan baseline-shift="1.72" font-size="6.88">−</tspan></text>
<text x="274.3" y="16.4" font-size="9" text-anchor="middle" fill="#111" stroke="#111" stroke-width="0.18" textLength="51" lengthAdjust="spacingAndGlyphs" >CD4<tspan baseline-shift="1.8" font-size="7.2">+</tspan> T cells</text>
<path d="M237.5 34.9V33.4Q237.5 32.5 238.4 32.5H311.6Q312.5 32.5 312.5 33.4V34.9" fill="none" stroke="#444" stroke-width="0.9"/>
<polygon points="269.52,27.25 270.03,28.6 271.47,28.67 270.34,29.57 270.73,30.96 269.52,30.16 268.32,30.96 268.71,29.57 267.58,28.67 269.02,28.6" fill="#111"/>
<polygon points="274.17,27.25 274.68,28.6 276.12,28.67 274.99,29.57 275.38,30.96 274.17,30.16 272.97,30.96 273.36,29.57 272.23,28.67 273.67,28.6" fill="#111"/>
<polygon points="278.82,27.25 279.33,28.6 280.77,28.67 279.64,29.57 280.03,30.96 278.82,30.16 277.62,30.96 278.01,29.57 276.88,28.67 278.32,28.6" fill="#111"/>
<polygon points="283.47,27.25 283.98,28.6 285.42,28.67 284.29,29.57 284.68,30.96 283.47,30.16 282.27,30.96 282.66,29.57 281.53,28.67 282.97,28.6" fill="#111"/>
<path d="M237.5 41.6V40.1Q237.5 39.2 238.4 39.2H286.6Q287.5 39.2 287.5 40.1V41.6" fill="none" stroke="#444" stroke-width="0.9"/>
<polygon points="259.68,34.85 260.18,36.2 261.62,36.27 260.49,37.17 260.88,38.56 259.68,37.76 258.47,38.56 258.86,37.17 257.73,36.27 259.17,36.2" fill="#111"/>
<polygon points="264.32,34.85 264.83,36.2 266.27,36.27 265.14,37.17 265.53,38.56 264.32,37.76 263.12,38.56 263.51,37.17 262.38,36.27 263.82,36.2" fill="#111"/>
<path d="M237.5 48.2V46.7Q237.5 45.8 238.4 45.8H261.3Q262.2 45.8 262.2 46.7V48.2" fill="none" stroke="#444" stroke-width="0.9"/>
<polygon points="246.55,41.55 247.06,42.9 248.5,42.97 247.37,43.87 247.75,45.26 246.55,44.46 245.35,45.26 245.73,43.87 244.6,42.97 246.04,42.9" fill="#111"/>
<polygon points="251.2,41.55 251.71,42.9 253.15,42.97 252.02,43.87 252.4,45.26 251.2,44.46 250,45.26 250.38,43.87 249.25,42.97 250.69,42.9" fill="#111"/>
<polygon points="255.85,41.55 256.36,42.9 257.8,42.97 256.67,43.87 257.05,45.26 255.85,44.46 254.65,45.26 255.03,43.87 253.9,42.97 255.34,42.9" fill="#111"/>
<path d="M287.5 48.2V46.7Q287.5 45.8 288.4 45.8H313.1Q314 45.8 314 46.7V48.2" fill="none" stroke="#444" stroke-width="0.9"/>
<polygon points="300.8,41.15 301.31,42.5 302.75,42.57 301.62,43.47 302,44.86 300.8,44.06 299.6,44.86 299.98,43.47 298.85,42.57 300.29,42.5" fill="#111"/>
<line x1="386.8" y1="45.4" x2="386.8" y2="155.1" stroke="#222" stroke-width="1.1" />
<line x1="386.8" y1="154.6" x2="496.5" y2="154.6" stroke="#222" stroke-width="1.1" />
<line x1="382.8" y1="154.7" x2="386.8" y2="154.7" stroke="#222" stroke-width="0.9" />
<text x="381.3" y="157.2" font-size="7.8" text-anchor="end" fill="#111" stroke="#111" stroke-width="0.18" >0</text>
<line x1="382.8" y1="132.94" x2="386.8" y2="132.94" stroke="#222" stroke-width="0.9" />
<text x="381.3" y="135.44" font-size="7.8" text-anchor="end" fill="#111" stroke="#111" stroke-width="0.18" >20</text>
<line x1="382.8" y1="111.18" x2="386.8" y2="111.18" stroke="#222" stroke-width="0.9" />
<text x="381.3" y="113.68" font-size="7.8" text-anchor="end" fill="#111" stroke="#111" stroke-width="0.18" >40</text>
<line x1="382.8" y1="89.42" x2="386.8" y2="89.42" stroke="#222" stroke-width="0.9" />
<text x="381.3" y="91.92" font-size="7.8" text-anchor="end" fill="#111" stroke="#111" stroke-width="0.18" >60</text>
<line x1="382.8" y1="67.66" x2="386.8" y2="67.66" stroke="#222" stroke-width="0.9" />
<text x="381.3" y="70.16" font-size="7.8" text-anchor="end" fill="#111" stroke="#111" stroke-width="0.18" >80</text>
<line x1="382.8" y1="45.9" x2="386.8" y2="45.9" stroke="#222" stroke-width="0.9" />
<text x="381.3" y="48.4" font-size="7.8" text-anchor="end" fill="#111" stroke="#111" stroke-width="0.18" >100</text>
<line x1="404" y1="154.6" x2="404" y2="157.9" stroke="#222" stroke-width="0.9" />
<line x1="429" y1="154.6" x2="429" y2="157.9" stroke="#222" stroke-width="0.9" />
<line x1="454.3" y1="154.6" x2="454.3" y2="157.9" stroke="#222" stroke-width="0.9" />
<line x1="479.7" y1="154.6" x2="479.7" y2="157.9" stroke="#222" stroke-width="0.9" />
<line x1="404" y1="66.7" x2="404" y2="83.6" stroke="#2a2a2a" stroke-width="1.0" />
<line x1="399.4" y1="66.7" x2="408.6" y2="66.7" stroke="#2a2a2a" stroke-width="1.15" />
<line x1="404" y1="132.6" x2="404" y2="148.1" stroke="#2a2a2a" stroke-width="1.0" />
<line x1="399.4" y1="148.1" x2="408.6" y2="148.1" stroke="#2a2a2a" stroke-width="1.15" />
<rect x="395.85" y="83.6" width="16.3" height="49" fill="#c32033"/>
<rect x="395.85" y="121.45" width="16.3" height="1.5" fill="#1a1a1a" fill-opacity="0.82"/>
<line x1="429" y1="59.6" x2="429" y2="70.2" stroke="#2a2a2a" stroke-width="1.0" />
<line x1="424.4" y1="59.6" x2="433.6" y2="59.6" stroke="#2a2a2a" stroke-width="1.15" />
<line x1="429" y1="116.9" x2="429" y2="134.9" stroke="#2a2a2a" stroke-width="1.0" />
<line x1="424.4" y1="134.9" x2="433.6" y2="134.9" stroke="#2a2a2a" stroke-width="1.15" />
<rect x="420.85" y="70.2" width="16.3" height="46.7" fill="#045586"/>
<rect x="420.85" y="83.85" width="16.3" height="1.5" fill="#1a1a1a" fill-opacity="0.82"/>
<line x1="454.3" y1="51" x2="454.3" y2="89.9" stroke="#2a2a2a" stroke-width="1.0" />
<line x1="449.7" y1="51" x2="458.9" y2="51" stroke="#2a2a2a" stroke-width="1.15" />
<line x1="454.3" y1="122.7" x2="454.3" y2="145.8" stroke="#2a2a2a" stroke-width="1.0" />
<line x1="449.7" y1="145.8" x2="458.9" y2="145.8" stroke="#2a2a2a" stroke-width="1.15" />
<rect x="446.15" y="89.9" width="16.3" height="32.8" fill="#3db54c"/>
<rect x="446.15" y="103.45" width="16.3" height="1.5" fill="#1a1a1a" fill-opacity="0.82"/>
<line x1="479.7" y1="61.2" x2="479.7" y2="69.2" stroke="#2a2a2a" stroke-width="1.0" />
<line x1="475.1" y1="61.2" x2="484.3" y2="61.2" stroke="#2a2a2a" stroke-width="1.15" />
<line x1="479.7" y1="91.2" x2="479.7" y2="124.3" stroke="#2a2a2a" stroke-width="1.0" />
<line x1="475.1" y1="124.3" x2="484.3" y2="124.3" stroke="#2a2a2a" stroke-width="1.15" />
<rect x="471.55" y="69.2" width="16.3" height="22" fill="#5d296e"/>
<rect x="471.55" y="77.75" width="16.3" height="1.5" fill="#1a1a1a" fill-opacity="0.82"/>
<text x="404" y="169.1" font-size="8.0" text-anchor="middle" fill="#222" stroke="#222" stroke-width="0.18" textLength="18.4" lengthAdjust="spacingAndGlyphs" >D-/R-</text>
<text x="429" y="169.1" font-size="8.0" text-anchor="middle" fill="#222" stroke="#222" stroke-width="0.18" textLength="21.6" lengthAdjust="spacingAndGlyphs" >D-/R+</text>
<text x="454.3" y="169.1" font-size="8.0" text-anchor="middle" fill="#222" stroke="#222" stroke-width="0.18" textLength="23.2" lengthAdjust="spacingAndGlyphs" >D+/R-</text>
<text x="479.7" y="169.1" font-size="8.0" text-anchor="middle" fill="#222" stroke="#222" stroke-width="0.18" textLength="24.2" lengthAdjust="spacingAndGlyphs" >D+/R+</text>
<text x="406.4" y="178.1" font-size="8.0" text-anchor="middle" fill="#222" stroke="#222" stroke-width="0.18" textLength="20.8" lengthAdjust="spacingAndGlyphs" >N=23</text>
<text x="429.6" y="178.1" font-size="8.0" text-anchor="middle" fill="#222" stroke="#222" stroke-width="0.18" textLength="8.8" lengthAdjust="spacingAndGlyphs" >20</text>
<text x="455.5" y="178.1" font-size="8.0" text-anchor="middle" fill="#222" stroke="#222" stroke-width="0.18" textLength="8.1" lengthAdjust="spacingAndGlyphs" >18</text>
<text x="479.7" y="178.1" font-size="8.0" text-anchor="middle" fill="#222" stroke="#222" stroke-width="0.18" textLength="9.1" lengthAdjust="spacingAndGlyphs" >24</text>
<text x="364.9" y="95.45" font-size="8.8" text-anchor="middle" fill="#222" stroke="#222" stroke-width="0.18" textLength="66.7" lengthAdjust="spacingAndGlyphs" transform="rotate(-90 364.9 95.45)" >CD8%CD57<tspan baseline-shift="1.76" font-size="7.04">+</tspan>/CD27<tspan baseline-shift="1.76" font-size="7.04">−</tspan></text>
<text x="439.3" y="16.4" font-size="9" text-anchor="middle" fill="#111" stroke="#111" stroke-width="0.18" textLength="51.5" lengthAdjust="spacingAndGlyphs" >CD8<tspan baseline-shift="1.8" font-size="7.2">+</tspan> T cells</text>
<path d="M404 37.8V36.3Q404 35.4 404.9 35.4H478.4Q479.3 35.4 479.3 36.3V37.8" fill="none" stroke="#444" stroke-width="0.9"/>
<polygon points="436.02,29.75 436.53,31.1 437.97,31.17 436.84,32.07 437.23,33.46 436.02,32.66 434.82,33.46 435.21,32.07 434.08,31.17 435.52,31.1" fill="#111"/>
<polygon points="440.67,29.75 441.18,31.1 442.62,31.17 441.49,32.07 441.88,33.46 440.67,32.66 439.47,33.46 439.86,32.07 438.73,31.17 440.17,31.1" fill="#111"/>
<polygon points="445.32,29.75 445.83,31.1 447.27,31.17 446.14,32.07 446.53,33.46 445.32,32.66 444.12,33.46 444.51,32.07 443.38,31.17 444.82,31.1" fill="#111"/>
<polygon points="449.97,29.75 450.48,31.1 451.92,31.17 450.79,32.07 451.18,33.46 449.97,32.66 448.77,33.46 449.16,32.07 448.03,31.17 449.47,31.1" fill="#111"/>
<path d="M404.3 48.2V46.7Q404.3 45.8 405.2 45.8H427.7Q428.6 45.8 428.6 46.7V48.2" fill="none" stroke="#444" stroke-width="0.9"/>
<polygon points="416.2,41.15 416.71,42.5 418.15,42.57 417.02,43.47 417.4,44.86 416.2,44.06 415,44.86 415.38,43.47 414.25,42.57 415.69,42.5" fill="#111"/>
<path d="M453.6 48.2V46.7Q453.6 45.8 454.5 45.8H481.7Q482.6 45.8 482.6 46.7V48.2" fill="none" stroke="#444" stroke-width="0.9"/>
<polygon points="465.98,40.45 466.48,41.8 467.92,41.87 466.79,42.77 467.18,44.16 465.98,43.36 464.77,44.16 465.16,42.77 464.03,41.87 465.47,41.8" fill="#111"/>
<polygon points="470.62,40.45 471.13,41.8 472.57,41.87 471.44,42.77 471.83,44.16 470.62,43.36 469.42,44.16 469.81,42.77 468.68,41.87 470.12,41.8" fill="#111"/>
<text x="184.8" y="196.9" font-size="11.2" text-anchor="start" fill="#000" font-weight="bold" >C</text>
<line x1="221.4" y1="209.8" x2="221.4" y2="316.3" stroke="#222" stroke-width="1.1" />
<line x1="221.4" y1="315.8" x2="328" y2="315.8" stroke="#222" stroke-width="1.1" />
<line x1="217.4" y1="210.3" x2="221.4" y2="210.3" stroke="#000" stroke-width="0.8" />
<line x1="217.4" y1="245.7" x2="221.4" y2="245.7" stroke="#000" stroke-width="0.8" />
<line x1="217.4" y1="281.1" x2="221.4" y2="281.1" stroke="#000" stroke-width="0.8" />
<line x1="217.4" y1="316.5" x2="221.4" y2="316.5" stroke="#000" stroke-width="0.8" />
<line x1="219.4" y1="305.84" x2="221.4" y2="305.84" stroke="#000" stroke-width="0.6" />
<line x1="219.4" y1="299.61" x2="221.4" y2="299.61" stroke="#000" stroke-width="0.6" />
<line x1="219.4" y1="295.19" x2="221.4" y2="295.19" stroke="#000" stroke-width="0.6" />
<line x1="219.4" y1="291.76" x2="221.4" y2="291.76" stroke="#000" stroke-width="0.6" />
<line x1="219.4" y1="288.95" x2="221.4" y2="288.95" stroke="#000" stroke-width="0.6" />
<line x1="219.4" y1="286.58" x2="221.4" y2="286.58" stroke="#000" stroke-width="0.6" />
<line x1="219.4" y1="284.53" x2="221.4" y2="284.53" stroke="#000" stroke-width="0.6" />
<line x1="219.4" y1="282.72" x2="221.4" y2="282.72" stroke="#000" stroke-width="0.6" />
<line x1="219.4" y1="270.44" x2="221.4" y2="270.44" stroke="#000" stroke-width="0.6" />
<line x1="219.4" y1="264.21" x2="221.4" y2="264.21" stroke="#000" stroke-width="0.6" />
<line x1="219.4" y1="259.79" x2="221.4" y2="259.79" stroke="#000" stroke-width="0.6" />
<line x1="219.4" y1="256.36" x2="221.4" y2="256.36" stroke="#000" stroke-width="0.6" />
<line x1="219.4" y1="253.55" x2="221.4" y2="253.55" stroke="#000" stroke-width="0.6" />
<line x1="219.4" y1="251.18" x2="221.4" y2="251.18" stroke="#000" stroke-width="0.6" />
<line x1="219.4" y1="249.13" x2="221.4" y2="249.13" stroke="#000" stroke-width="0.6" />
<line x1="219.4" y1="247.32" x2="221.4" y2="247.32" stroke="#000" stroke-width="0.6" />
<line x1="219.4" y1="235.04" x2="221.4" y2="235.04" stroke="#000" stroke-width="0.6" />
<line x1="219.4" y1="228.81" x2="221.4" y2="228.81" stroke="#000" stroke-width="0.6" />
<line x1="219.4" y1="224.39" x2="221.4" y2="224.39" stroke="#000" stroke-width="0.6" />
<line x1="219.4" y1="220.96" x2="221.4" y2="220.96" stroke="#000" stroke-width="0.6" />
<line x1="219.4" y1="218.15" x2="221.4" y2="218.15" stroke="#000" stroke-width="0.6" />
<line x1="219.4" y1="215.78" x2="221.4" y2="215.78" stroke="#000" stroke-width="0.6" />
<line x1="219.4" y1="213.73" x2="221.4" y2="213.73" stroke="#000" stroke-width="0.6" />
<line x1="219.4" y1="211.92" x2="221.4" y2="211.92" stroke="#000" stroke-width="0.6" />
<text x="216.3" y="212.9" font-size="7.8" text-anchor="end" fill="#111" stroke="#111" stroke-width="0.18" >100</text>
<text x="216.3" y="248.3" font-size="7.8" text-anchor="end" fill="#111" stroke="#111" stroke-width="0.18" >10</text>
<text x="216.3" y="283.7" font-size="7.8" text-anchor="end" fill="#111" stroke="#111" stroke-width="0.18" >1</text>
<text x="216.3" y="319.1" font-size="7.8" text-anchor="end" fill="#111" stroke="#111" stroke-width="0.18" >0.1</text>
<line x1="231.1" y1="315.8" x2="231.1" y2="319" stroke="#222" stroke-width="0.9" />
<text x="231.1" y="326" font-size="4.5" text-anchor="middle" fill="#222" stroke="#222" stroke-width="0.12" textLength="11.5" lengthAdjust="spacingAndGlyphs" >D-/R-</text>
<line x1="245.4" y1="315.8" x2="245.4" y2="319" stroke="#222" stroke-width="0.9" />
<text x="245.4" y="326" font-size="4.5" text-anchor="middle" fill="#222" stroke="#222" stroke-width="0.12" textLength="11.5" lengthAdjust="spacingAndGlyphs" >D-/R+</text>
<line x1="259.7" y1="315.8" x2="259.7" y2="319" stroke="#222" stroke-width="0.9" />
<text x="259.7" y="326" font-size="4.5" text-anchor="middle" fill="#222" stroke="#222" stroke-width="0.12" textLength="11.5" lengthAdjust="spacingAndGlyphs" >D+/R-</text>
<line x1="274.2" y1="315.8" x2="274.2" y2="319" stroke="#222" stroke-width="0.9" />
<text x="274.2" y="326" font-size="4.5" text-anchor="middle" fill="#222" stroke="#222" stroke-width="0.12" textLength="11.5" lengthAdjust="spacingAndGlyphs" >D+/R+</text>
<line x1="288.8" y1="315.8" x2="288.8" y2="319" stroke="#222" stroke-width="0.9" />
<text x="288.8" y="326" font-size="4.5" text-anchor="middle" fill="#222" stroke="#222" stroke-width="0.12" textLength="11.5" lengthAdjust="spacingAndGlyphs" >D-/R+</text>
<line x1="303.1" y1="315.8" x2="303.1" y2="319" stroke="#222" stroke-width="0.9" />
<text x="303.1" y="326" font-size="4.5" text-anchor="middle" fill="#222" stroke="#222" stroke-width="0.12" textLength="11.5" lengthAdjust="spacingAndGlyphs" >D+/R-</text>
<line x1="317.4" y1="315.8" x2="317.4" y2="319" stroke="#222" stroke-width="0.9" />
<text x="317.4" y="326" font-size="4.5" text-anchor="middle" fill="#222" stroke="#222" stroke-width="0.12" textLength="11.5" lengthAdjust="spacingAndGlyphs" >D+/R+</text>
<g fill="#cc2340"><circle cx="230" cy="245.4" r="1.15"/><circle cx="232.5" cy="246.2" r="1.15"/><circle cx="229.6" cy="254.4" r="1.15"/><circle cx="228.7" cy="257" r="1.15"/><circle cx="231" cy="257" r="1.15"/><circle cx="233.5" cy="257" r="1.15"/><circle cx="231" cy="259.8" r="1.15"/><circle cx="230" cy="264" r="1.15"/><circle cx="232" cy="267" r="1.15"/><circle cx="229.5" cy="268.8" r="1.15"/><circle cx="231.5" cy="271.7" r="1.15"/><circle cx="228" cy="274.6" r="1.15"/><circle cx="230" cy="274.6" r="1.15"/><circle cx="232.5" cy="274.6" r="1.15"/><circle cx="233.5" cy="276.5" r="1.15"/><circle cx="231" cy="277.5" r="1.15"/><circle cx="229" cy="280.4" r="1.15"/><circle cx="232" cy="280.4" r="1.15"/><circle cx="231" cy="284.6" r="1.15"/><circle cx="231" cy="291.5" r="1.15"/><circle cx="231" cy="308.8" r="1.15"/></g>
<g fill="#045586"><circle cx="245.4" cy="226" r="1.25"/><circle cx="245.4" cy="232.7" r="1.25"/><circle cx="245.4" cy="236.9" r="1.25"/><circle cx="245" cy="245" r="1.25"/><circle cx="245.4" cy="256.5" r="1.25"/><circle cx="245.4" cy="261.5" r="1.25"/><circle cx="242.7" cy="272.5" r="1.25"/><circle cx="244.6" cy="271.5" r="1.25"/><circle cx="246.9" cy="273" r="1.25"/><circle cx="246" cy="274.8" r="1.25"/><circle cx="248.8" cy="276.3" r="1.25"/></g>
<g fill="#3db54c"><polygon points="258.55,219 261.05,219 259.8,216.88"/><polygon points="258.55,230.2 261.05,230.2 259.8,228.07"/><polygon points="258.55,234.1 261.05,234.1 259.8,231.97"/><polygon points="258.55,252.3 261.05,252.3 259.8,250.18"/><polygon points="256.25,258.1 258.75,258.1 257.5,255.98"/><polygon points="258.15,259.7 260.65,259.7 259.4,257.57"/><polygon points="259.55,260.6 262.05,260.6 260.8,258.48"/><polygon points="261.05,261 263.55,261 262.3,258.88"/><polygon points="255.25,263.9 257.75,263.9 256.5,261.77"/><polygon points="257.25,264.5 259.75,264.5 258.5,262.38"/><polygon points="260.05,263.9 262.55,263.9 261.3,261.77"/><polygon points="258.15,268.7 260.65,268.7 259.4,266.57"/><polygon points="259.55,270 262.05,270 260.8,267.88"/><polygon points="258.55,278.9 261.05,278.9 259.8,276.77"/></g>
<g fill="#5d296e"><polygon points="273,222.54 275.4,222.54 274.2,224.58"/><polygon points="273,227.04 275.4,227.04 274.2,229.08"/><polygon points="270.9,228.54 273.3,228.54 272.1,230.58"/><polygon points="275.4,230.34 277.8,230.34 276.6,232.38"/><polygon points="270.9,234.34 273.3,234.34 272.1,236.38"/><polygon points="275.4,234.84 277.8,234.84 276.6,236.88"/><polygon points="273,239.84 275.4,239.84 274.2,241.88"/><polygon points="270.9,248.24 273.3,248.24 272.1,250.28"/><polygon points="275.4,248.84 277.8,248.84 276.6,250.88"/><polygon points="273,255.54 275.4,255.54 274.2,257.58"/><polygon points="273,262.54 275.4,262.54 274.2,264.58"/><polygon points="273,267.04 275.4,267.04 274.2,269.08"/></g>
<g fill="#045586"><circle cx="287.7" cy="218.8" r="0.95"/><circle cx="285.8" cy="221.2" r="0.95"/><circle cx="290.8" cy="223.5" r="0.95"/><circle cx="290.8" cy="227.3" r="0.95"/><circle cx="286.2" cy="230.4" r="0.95"/><circle cx="285.8" cy="239.6" r="0.95"/><circle cx="290.8" cy="239.6" r="0.95"/><circle cx="288.5" cy="243.5" r="0.95"/><circle cx="288.5" cy="250.4" r="0.95"/></g>
<g fill="none" stroke="#3db54c" stroke-width="0.9"><circle cx="300" cy="233.5" r="1.35"/><circle cx="305.4" cy="234" r="1.35"/><circle cx="302.8" cy="257" r="1.35"/></g>
<g fill="none" stroke="#5d296e" stroke-width="0.85"><rect x="315.95" y="219.15" width="2.5" height="2.5"/><rect x="317.25" y="224.55" width="2.5" height="2.5"/><rect x="314.45" y="226.05" width="2.5" height="2.5"/><rect x="314.45" y="229.55" width="2.5" height="2.5"/><rect x="317.25" y="229.55" width="2.5" height="2.5"/><rect x="312.25" y="234.25" width="2.5" height="2.5"/><rect x="319.05" y="234.25" width="2.5" height="2.5"/><rect x="312.55" y="236.55" width="2.5" height="2.5"/><rect x="315.95" y="236.55" width="2.5" height="2.5"/><rect x="314.45" y="239.15" width="2.5" height="2.5"/><rect x="317.25" y="241.45" width="2.5" height="2.5"/><rect x="315.75" y="249.15" width="2.5" height="2.5"/><rect x="315.75" y="254.25" width="2.5" height="2.5"/></g>
<line x1="225.4" y1="264.4" x2="237" y2="264.4" stroke="#111" stroke-width="1.2" />
<line x1="239.3" y1="246.5" x2="251.3" y2="246.5" stroke="#111" stroke-width="1.2" />
<line x1="254" y1="243.7" x2="265.6" y2="243.7" stroke="#111" stroke-width="1.2" />
<line x1="268" y1="237.3" x2="279.8" y2="237.3" stroke="#111" stroke-width="1.2" />
<line x1="282.3" y1="229.6" x2="294.6" y2="229.6" stroke="#111" stroke-width="1.2" />
<line x1="297" y1="238.3" x2="309" y2="238.3" stroke="#111" stroke-width="1.2" />
<line x1="311.2" y1="233.5" x2="322.8" y2="233.5" stroke="#111" stroke-width="1.2" />
<path d="M231.9 233V193.4H286.3V199.4" fill="none" stroke="#111" stroke-width="1.2"/>
<path d="M260.4 204.2V199.4H317.9V204.2" fill="none" stroke="#111" stroke-width="1.2"/>
<polygon points="258.7,205.75 259.35,207.5 261.22,207.58 259.76,208.74 260.26,210.54 258.7,209.51 257.14,210.54 257.64,208.74 256.18,207.58 258.05,207.5" fill="#cc2340"/>
<polygon points="264.7,205.75 265.35,207.5 267.22,207.58 265.76,208.74 266.26,210.54 264.7,209.51 263.14,210.54 263.64,208.74 262.18,207.58 264.05,207.5" fill="#cc2340"/>
<polygon points="268.2,210.95 268.85,212.7 270.72,212.78 269.26,213.94 269.76,215.74 268.2,214.71 266.64,215.74 267.14,213.94 265.68,212.78 267.55,212.7" fill="#cc2340"/>
<polygon points="274.1,210.95 274.75,212.7 276.62,212.78 275.16,213.94 275.66,215.74 274.1,214.71 272.54,215.74 273.04,213.94 271.58,212.78 273.45,212.7" fill="#cc2340"/>
<polygon points="279.9,210.95 280.55,212.7 282.42,212.78 280.96,213.94 281.46,215.74 279.9,214.71 278.34,215.74 278.84,213.94 277.38,212.78 279.25,212.7" fill="#cc2340"/>
<polygon points="285.6,210.95 286.25,212.7 288.12,212.78 286.66,213.94 287.16,215.74 285.6,214.71 284.04,215.74 284.54,213.94 283.08,212.78 284.95,212.7" fill="#cc2340"/>
<polygon points="283.2,205.25 283.85,207 285.72,207.08 284.26,208.24 284.76,210.04 283.2,209.01 281.64,210.04 282.14,208.24 280.68,207.08 282.55,207" fill="#cc2340"/>
<polygon points="288.9,205.25 289.55,207 291.42,207.08 289.96,208.24 290.46,210.04 288.9,209.01 287.34,210.04 287.84,208.24 286.38,207.08 288.25,207" fill="#cc2340"/>
<polygon points="294.7,205.25 295.35,207 297.22,207.08 295.76,208.24 296.26,210.04 294.7,209.01 293.14,210.04 293.64,208.24 292.18,207.08 294.05,207" fill="#cc2340"/>
<polygon points="300.3,205.25 300.95,207 302.82,207.08 301.36,208.24 301.86,210.04 300.3,209.01 298.74,210.04 299.24,208.24 297.78,207.08 299.65,207" fill="#cc2340"/>
<polygon points="303.7,210.15 304.35,211.9 306.22,211.98 304.76,213.14 305.26,214.94 303.7,213.91 302.14,214.94 302.64,213.14 301.18,211.98 303.05,211.9" fill="#cc2340"/>
<polygon points="312,204.95 312.65,206.7 314.52,206.78 313.06,207.94 313.56,209.74 312,208.71 310.44,209.74 310.94,207.94 309.48,206.78 311.35,206.7" fill="#cc2340"/>
<polygon points="317.6,204.95 318.25,206.7 320.12,206.78 318.66,207.94 319.16,209.74 317.6,208.71 316.04,209.74 316.54,207.94 315.08,206.78 316.95,206.7" fill="#cc2340"/>
<polygon points="323.3,204.95 323.95,206.7 325.82,206.78 324.36,207.94 324.86,209.74 323.3,208.71 321.74,209.74 322.24,207.94 320.78,206.78 322.65,206.7" fill="#cc2340"/>
<polygon points="328.9,204.95 329.55,206.7 331.42,206.78 329.96,207.94 330.46,209.74 328.9,208.71 327.34,209.74 327.84,207.94 326.38,206.78 328.25,206.7" fill="#cc2340"/>
<line x1="228.1" y1="333.8" x2="280.2" y2="333.8" stroke="#c32033" stroke-width="1.9" />
<line x1="281.2" y1="333.8" x2="322.2" y2="333.8" stroke="#045586" stroke-width="1.9" />
<text x="253.5" y="344.7" font-size="9.4" text-anchor="middle" fill="#222" stroke="#222" stroke-width="0.18" textLength="16.5" lengthAdjust="spacingAndGlyphs" >PCR-</text>
<text x="299.6" y="344.7" font-size="9.4" text-anchor="middle" fill="#222" stroke="#222" stroke-width="0.18" textLength="18.5" lengthAdjust="spacingAndGlyphs" >PCR+</text>
<text x="199" y="259.3" font-size="9" text-anchor="middle" fill="#222" stroke="#222" stroke-width="0.18" textLength="67.4" lengthAdjust="spacingAndGlyphs" transform="rotate(-90 199 259.3)" >CD4%CD57<tspan baseline-shift="1.8" font-size="7.2">+</tspan>/CD27<tspan baseline-shift="1.8" font-size="7.2">−</tspan></text>
<line x1="388.5" y1="212" x2="388.5" y2="316.3" stroke="#222" stroke-width="1.1" />
<line x1="388.5" y1="315.8" x2="493" y2="315.8" stroke="#222" stroke-width="1.1" />
<line x1="384.5" y1="315.8" x2="388.5" y2="315.8" stroke="#222" stroke-width="0.9" />
<text x="382.6" y="318.3" font-size="7.8" text-anchor="end" fill="#111" stroke="#111" stroke-width="0.18" >0</text>
<line x1="384.5" y1="295.14" x2="388.5" y2="295.14" stroke="#222" stroke-width="0.9" />
<text x="382.6" y="297.64" font-size="7.8" text-anchor="end" fill="#111" stroke="#111" stroke-width="0.18" >20</text>
<line x1="384.5" y1="274.48" x2="388.5" y2="274.48" stroke="#222" stroke-width="0.9" />
<text x="382.6" y="276.98" font-size="7.8" text-anchor="end" fill="#111" stroke="#111" stroke-width="0.18" >40</text>
<line x1="384.5" y1="253.82" x2="388.5" y2="253.82" stroke="#222" stroke-width="0.9" />
<text x="382.6" y="256.32" font-size="7.8" text-anchor="end" fill="#111" stroke="#111" stroke-width="0.18" >60</text>
<line x1="384.5" y1="233.16" x2="388.5" y2="233.16" stroke="#222" stroke-width="0.9" />
<text x="382.6" y="235.66" font-size="7.8" text-anchor="end" fill="#111" stroke="#111" stroke-width="0.18" >80</text>
<line x1="384.5" y1="212.5" x2="388.5" y2="212.5" stroke="#222" stroke-width="0.9" />
<text x="382.6" y="215" font-size="7.8" text-anchor="end" fill="#111" stroke="#111" stroke-width="0.18" >100</text>
<line x1="397.8" y1="315.8" x2="397.8" y2="319" stroke="#222" stroke-width="0.9" />
<text x="397.8" y="326" font-size="4.5" text-anchor="middle" fill="#222" stroke="#222" stroke-width="0.12" textLength="11.5" lengthAdjust="spacingAndGlyphs" >D-/R-</text>
<line x1="411.8" y1="315.8" x2="411.8" y2="319" stroke="#222" stroke-width="0.9" />
<text x="411.8" y="326" font-size="4.5" text-anchor="middle" fill="#222" stroke="#222" stroke-width="0.12" textLength="11.5" lengthAdjust="spacingAndGlyphs" >D-/R+</text>
<line x1="426.2" y1="315.8" x2="426.2" y2="319" stroke="#222" stroke-width="0.9" />
<text x="426.2" y="326" font-size="4.5" text-anchor="middle" fill="#222" stroke="#222" stroke-width="0.12" textLength="11.5" lengthAdjust="spacingAndGlyphs" >D+/R-</text>
<line x1="440.5" y1="315.8" x2="440.5" y2="319" stroke="#222" stroke-width="0.9" />
<text x="440.5" y="326" font-size="4.5" text-anchor="middle" fill="#222" stroke="#222" stroke-width="0.12" textLength="11.5" lengthAdjust="spacingAndGlyphs" >D+/R+</text>
<line x1="454.3" y1="315.8" x2="454.3" y2="319" stroke="#222" stroke-width="0.9" />
<text x="454.3" y="326" font-size="4.5" text-anchor="middle" fill="#222" stroke="#222" stroke-width="0.12" textLength="11.5" lengthAdjust="spacingAndGlyphs" >D-/R+</text>
<line x1="468.9" y1="315.8" x2="468.9" y2="319" stroke="#222" stroke-width="0.9" />
<text x="468.9" y="326" font-size="4.5" text-anchor="middle" fill="#222" stroke="#222" stroke-width="0.12" textLength="11.5" lengthAdjust="spacingAndGlyphs" >D+/R-</text>
<line x1="482.7" y1="315.8" x2="482.7" y2="319" stroke="#222" stroke-width="0.9" />
<text x="482.7" y="326" font-size="4.5" text-anchor="middle" fill="#222" stroke="#222" stroke-width="0.12" textLength="11.5" lengthAdjust="spacingAndGlyphs" >D+/R+</text>
<g fill="#cc2340"><circle cx="398" cy="232.4" r="1.15"/><circle cx="398" cy="240.4" r="1.15"/><circle cx="398" cy="242.2" r="1.15"/><circle cx="396.2" cy="243.8" r="1.15"/><circle cx="399.7" cy="243.8" r="1.15"/><circle cx="400.6" cy="245" r="1.15"/><circle cx="398" cy="248" r="1.15"/><circle cx="397" cy="252.2" r="1.15"/><circle cx="398.8" cy="255.5" r="1.15"/><circle cx="397.8" cy="264.7" r="1.15"/><circle cx="395" cy="284.5" r="1.15"/><circle cx="397.8" cy="284.5" r="1.15"/><circle cx="400.8" cy="284.5" r="1.15"/><circle cx="396.6" cy="286.2" r="1.15"/><circle cx="396.2" cy="289.2" r="1.15"/><circle cx="395.7" cy="294.7" r="1.15"/><circle cx="398.9" cy="294.7" r="1.15"/><circle cx="397.3" cy="296.1" r="1.15"/><circle cx="398" cy="298.8" r="1.15"/><circle cx="396.6" cy="306.2" r="1.15"/><circle cx="397.8" cy="309.2" r="1.15"/></g>
<g fill="#045586"><circle cx="412" cy="232.4" r="1.25"/><circle cx="412" cy="240.8" r="1.25"/><circle cx="409.5" cy="248" r="1.25"/><circle cx="414.6" cy="251.2" r="1.25"/><circle cx="412" cy="260.5" r="1.25"/><circle cx="408.8" cy="272.3" r="1.25"/><circle cx="414.5" cy="272.3" r="1.25"/><circle cx="412" cy="286.6" r="1.25"/><circle cx="409.5" cy="295.4" r="1.25"/><circle cx="414.5" cy="297.2" r="1.25"/></g>
<g fill="#3db54c"><polygon points="424.55,218.8 427.05,218.8 425.8,216.68"/><polygon points="424.55,244.8 427.05,244.8 425.8,242.68"/><polygon points="424.55,252.2 427.05,252.2 425.8,250.07"/><polygon points="422.25,268.7 424.75,268.7 423.5,266.57"/><polygon points="426.75,267 429.25,267 428,264.88"/><polygon points="423.75,280.2 426.25,280.2 425,278.07"/><polygon points="427.25,280.2 429.75,280.2 428.5,278.07"/><polygon points="422.75,285.5 425.25,285.5 424,283.38"/><polygon points="426.25,288.3 428.75,288.3 427.5,286.18"/><polygon points="422.75,296.4 425.25,296.4 424,294.27"/><polygon points="426.75,298.7 429.25,298.7 428,296.57"/><polygon points="424.75,308.6 427.25,308.6 426,306.48"/></g>
<g fill="#5d296e"><polygon points="439.1,229.84 441.5,229.84 440.3,231.88"/><polygon points="437,237.04 439.4,237.04 438.2,239.08"/><polygon points="439.1,237.04 441.5,237.04 440.3,239.08"/><polygon points="441.1,241.04 443.5,241.04 442.3,243.08"/><polygon points="437,243.74 439.4,243.74 438.2,245.78"/><polygon points="441.1,246.84 443.5,246.84 442.3,248.88"/><polygon points="441.1,252.84 443.5,252.84 442.3,254.88"/><polygon points="436.5,255.24 438.9,255.24 437.7,257.28"/><polygon points="437.3,260.04 439.7,260.04 438.5,262.08"/><polygon points="441.1,260.04 443.5,260.04 442.3,262.08"/><polygon points="439.3,285.64 441.7,285.64 440.5,287.68"/></g>
<g fill="#045586"><circle cx="454.4" cy="225.8" r="0.95"/><circle cx="452" cy="230.7" r="0.95"/><circle cx="456.6" cy="230.7" r="0.95"/><circle cx="452" cy="235.5" r="0.95"/><circle cx="456.6" cy="235.5" r="0.95"/><circle cx="456.6" cy="239.2" r="0.95"/><circle cx="454.3" cy="283.2" r="0.95"/><circle cx="454.3" cy="289.6" r="0.95"/></g>
<g fill="none" stroke="#3db54c" stroke-width="0.9"><circle cx="468.5" cy="234.5" r="1.35"/><circle cx="466" cy="257.3" r="1.35"/><circle cx="470.8" cy="259.3" r="1.35"/></g>
<g fill="none" stroke="#5d296e" stroke-width="0.85"><rect x="481.35" y="225.55" width="2.5" height="2.5"/><rect x="478.45" y="231.15" width="2.5" height="2.5"/><rect x="482.55" y="231.15" width="2.5" height="2.5"/><rect x="484.95" y="232.75" width="2.5" height="2.5"/><rect x="481.55" y="233.75" width="2.5" height="2.5"/><rect x="479.95" y="236.55" width="2.5" height="2.5"/><rect x="481.35" y="239.55" width="2.5" height="2.5"/><rect x="481.35" y="244.55" width="2.5" height="2.5"/><rect x="481.35" y="248.35" width="2.5" height="2.5"/><rect x="481.35" y="251.75" width="2.5" height="2.5"/><rect x="481.45" y="269.45" width="2.5" height="2.5"/></g>
<line x1="392" y1="275" x2="403.5" y2="275" stroke="#111" stroke-width="1.2" />
<line x1="405.8" y1="265.4" x2="417.6" y2="265.4" stroke="#111" stroke-width="1.2" />
<line x1="420.4" y1="272.3" x2="432" y2="272.3" stroke="#111" stroke-width="1.2" />
<line x1="434" y1="252.2" x2="445.8" y2="252.2" stroke="#111" stroke-width="1.2" />
<line x1="448.5" y1="245.3" x2="460" y2="245.3" stroke="#111" stroke-width="1.2" />
<line x1="462.8" y1="250.4" x2="474.2" y2="250.4" stroke="#111" stroke-width="1.2" />
<line x1="477" y1="241.5" x2="488.5" y2="241.5" stroke="#111" stroke-width="1.2" />
<path d="M398.5 225.8V197.3H461.2V201.6" fill="none" stroke="#111" stroke-width="1.2"/>
<path d="M440 206.5V201.6H483.8V206.5" fill="none" stroke="#111" stroke-width="1.2"/>
<polygon points="441,208.15 441.65,209.9 443.52,209.98 442.06,211.14 442.56,212.94 441,211.91 439.44,212.94 439.94,211.14 438.48,209.98 440.35,209.9" fill="#cc2340"/>
<polygon points="452.9,208.15 453.55,209.9 455.42,209.98 453.96,211.14 454.46,212.94 452.9,211.91 451.34,212.94 451.84,211.14 450.38,209.98 452.25,209.9" fill="#cc2340"/>
<polygon points="458.1,208.15 458.75,209.9 460.62,209.98 459.16,211.14 459.66,212.94 458.1,211.91 456.54,212.94 457.04,211.14 455.58,209.98 457.45,209.9" fill="#cc2340"/>
<polygon points="479.4,208.15 480.05,209.9 481.92,209.98 480.46,211.14 480.96,212.94 479.4,211.91 477.84,212.94 478.34,211.14 476.88,209.98 478.75,209.9" fill="#cc2340"/>
<polygon points="484.6,208.15 485.25,209.9 487.12,209.98 485.66,211.14 486.16,212.94 484.6,211.91 483.04,212.94 483.54,211.14 482.08,209.98 483.95,209.9" fill="#cc2340"/>
<polygon points="489.8,208.15 490.45,209.9 492.32,209.98 490.86,211.14 491.36,212.94 489.8,211.91 488.24,212.94 488.74,211.14 487.28,209.98 489.15,209.9" fill="#cc2340"/>
<line x1="395.7" y1="333.9" x2="447.6" y2="333.9" stroke="#c32033" stroke-width="1.9" />
<line x1="449.2" y1="333.9" x2="489.6" y2="333.9" stroke="#045586" stroke-width="1.9" />
<text x="420.4" y="344.7" font-size="9.4" text-anchor="middle" fill="#222" stroke="#222" stroke-width="0.18" textLength="16.5" lengthAdjust="spacingAndGlyphs" >PCR-</text>
<text x="467.7" y="344.7" font-size="9.4" text-anchor="middle" fill="#222" stroke="#222" stroke-width="0.18" textLength="18.5" lengthAdjust="spacingAndGlyphs" >PCR+</text>
<text x="364.2" y="258.2" font-size="9" text-anchor="middle" fill="#222" stroke="#222" stroke-width="0.18" textLength="67.4" lengthAdjust="spacingAndGlyphs" transform="rotate(-90 364.2 258.2)" >CD8%CD57<tspan baseline-shift="1.8" font-size="7.2">+</tspan>/CD27<tspan baseline-shift="1.8" font-size="7.2">−</tspan></text>
<text x="184.8" y="360.3" font-size="11.2" text-anchor="start" fill="#000" font-weight="bold" >D</text>
<line x1="221.5" y1="358.1" x2="221.5" y2="455" stroke="#222" stroke-width="1.1" />
<line x1="221.5" y1="454.5" x2="334.6" y2="454.5" stroke="#222" stroke-width="1.1" />
<line x1="217.3" y1="358.4" x2="221.5" y2="358.4" stroke="#000" stroke-width="0.8" />
<line x1="217.3" y1="390.43" x2="221.5" y2="390.43" stroke="#000" stroke-width="0.8" />
<line x1="217.3" y1="422.46" x2="221.5" y2="422.46" stroke="#000" stroke-width="0.8" />
<line x1="217.3" y1="454.49" x2="221.5" y2="454.49" stroke="#000" stroke-width="0.8" />
<text x="216.5" y="361" font-size="7.8" text-anchor="end" fill="#111" stroke="#111" stroke-width="0.18" >100</text>
<text x="216.5" y="393.03" font-size="7.8" text-anchor="end" fill="#111" stroke="#111" stroke-width="0.18" >10</text>
<text x="216.5" y="425.06" font-size="7.8" text-anchor="end" fill="#111" stroke="#111" stroke-width="0.18" >1</text>
<text x="216.5" y="457.09" font-size="7.8" text-anchor="end" fill="#111" stroke="#111" stroke-width="0.18" >0.1</text>
<line x1="221" y1="454.5" x2="221" y2="457.5" stroke="#222" stroke-width="0.9" />
<text x="221" y="466.4" font-size="6.6" text-anchor="middle" fill="#222" stroke="#222" stroke-width="0.18" textLength="6" lengthAdjust="spacingAndGlyphs" >32</text>
<line x1="237.2" y1="454.5" x2="237.2" y2="457.5" stroke="#222" stroke-width="0.9" />
<text x="237.2" y="466.4" font-size="6.6" text-anchor="middle" fill="#222" stroke="#222" stroke-width="0.18" textLength="6" lengthAdjust="spacingAndGlyphs" >64</text>
<line x1="253.4" y1="454.5" x2="253.4" y2="457.5" stroke="#222" stroke-width="0.9" />
<text x="253.4" y="466.4" font-size="6.6" text-anchor="middle" fill="#222" stroke="#222" stroke-width="0.18" textLength="8.5" lengthAdjust="spacingAndGlyphs" >128</text>
<line x1="269.6" y1="454.5" x2="269.6" y2="457.5" stroke="#222" stroke-width="0.9" />
<text x="269.6" y="466.4" font-size="6.6" text-anchor="middle" fill="#222" stroke="#222" stroke-width="0.18" textLength="8.5" lengthAdjust="spacingAndGlyphs" >256</text>
<line x1="285.8" y1="454.5" x2="285.8" y2="457.5" stroke="#222" stroke-width="0.9" />
<text x="285.8" y="466.4" font-size="6.6" text-anchor="middle" fill="#222" stroke="#222" stroke-width="0.18" textLength="8.5" lengthAdjust="spacingAndGlyphs" >512</text>
<line x1="302" y1="454.5" x2="302" y2="457.5" stroke="#222" stroke-width="0.9" />
<text x="302" y="466.4" font-size="6.6" text-anchor="middle" fill="#222" stroke="#222" stroke-width="0.18" textLength="11" lengthAdjust="spacingAndGlyphs" >1024</text>
<line x1="318.2" y1="454.5" x2="318.2" y2="457.5" stroke="#222" stroke-width="0.9" />
<text x="318.2" y="466.4" font-size="6.6" text-anchor="middle" fill="#222" stroke="#222" stroke-width="0.18" textLength="11" lengthAdjust="spacingAndGlyphs" >2048</text>
<line x1="334.4" y1="454.5" x2="334.4" y2="457.5" stroke="#222" stroke-width="0.9" />
<text x="334.4" y="466.4" font-size="6.6" text-anchor="middle" fill="#222" stroke="#222" stroke-width="0.18" textLength="11" lengthAdjust="spacingAndGlyphs" >4098</text>
<text x="277" y="478.2" font-size="9" text-anchor="middle" fill="#222" stroke="#222" stroke-width="0.18" textLength="68.7" lengthAdjust="spacingAndGlyphs" >Post-transplant (days)</text>
<text x="199.2" y="403.9" font-size="9.2" text-anchor="middle" fill="#222" stroke="#222" stroke-width="0.18" textLength="67.3" lengthAdjust="spacingAndGlyphs" transform="rotate(-90 199.2 403.9)" >CD4%CD57<tspan baseline-shift="1.84" font-size="7.36">+</tspan>/CD27<tspan baseline-shift="1.84" font-size="7.36">−</tspan></text>
<g fill="#111"><rect x="235.79" y="408.67" width="2.2" height="2.2" rx="0.4"/><rect x="239.83" y="405.44" width="2.2" height="2.2" rx="0.4"/><rect x="242.79" y="388.75" width="2.2" height="2.2" rx="0.4"/><rect x="243.33" y="399.25" width="2.2" height="2.2" rx="0.4"/><rect x="244.13" y="373.67" width="2.2" height="2.2" rx="0.4"/><rect x="244.67" y="405.98" width="2.2" height="2.2" rx="0.4"/><rect x="245.21" y="410.29" width="2.2" height="2.2" rx="0.4"/><rect x="246.02" y="416.21" width="2.2" height="2.2" rx="0.4"/><rect x="246.02" y="375.29" width="2.2" height="2.2" rx="0.4"/><rect x="246.83" y="372.59" width="2.2" height="2.2" rx="0.4"/><rect x="247.37" y="374.21" width="2.2" height="2.2" rx="0.4"/><rect x="246.83" y="416.75" width="2.2" height="2.2" rx="0.4"/><rect x="247.37" y="380.67" width="2.2" height="2.2" rx="0.4"/><rect x="247.63" y="381.75" width="2.2" height="2.2" rx="0.4"/><rect x="248.17" y="413.52" width="2.2" height="2.2" rx="0.4"/><rect x="249.52" y="397.37" width="2.2" height="2.2" rx="0.4"/><rect x="250.06" y="399.52" width="2.2" height="2.2" rx="0.4"/><rect x="250.06" y="420.52" width="2.2" height="2.2" rx="0.4"/><rect x="253.56" y="378.52" width="2.2" height="2.2" rx="0.4"/><rect x="255.98" y="404.1" width="2.2" height="2.2" rx="0.4"/><rect x="258.67" y="392.79" width="2.2" height="2.2" rx="0.4"/><rect x="260.29" y="364.25" width="2.2" height="2.2" rx="0.4"/><rect x="260.29" y="369.63" width="2.2" height="2.2" rx="0.4"/><rect x="262.17" y="380.67" width="2.2" height="2.2" rx="0.4"/><rect x="264.87" y="384.17" width="2.2" height="2.2" rx="0.4"/><rect x="266.21" y="401.67" width="2.2" height="2.2" rx="0.4"/><rect x="267.29" y="414.87" width="2.2" height="2.2" rx="0.4"/><rect x="267.56" y="373.4" width="2.2" height="2.2" rx="0.4"/><rect x="268.91" y="403.29" width="2.2" height="2.2" rx="0.4"/><rect x="269.44" y="422.14" width="2.2" height="2.2" rx="0.4"/><rect x="269.44" y="377.98" width="2.2" height="2.2" rx="0.4"/><rect x="271.6" y="377.98" width="2.2" height="2.2" rx="0.4"/><rect x="272.94" y="418.91" width="2.2" height="2.2" rx="0.4"/><rect x="274.83" y="377.17" width="2.2" height="2.2" rx="0.4"/><rect x="275.37" y="381.75" width="2.2" height="2.2" rx="0.4"/><rect x="275.91" y="406.79" width="2.2" height="2.2" rx="0.4"/><rect x="276.18" y="415.67" width="2.2" height="2.2" rx="0.4"/><rect x="276.71" y="373.67" width="2.2" height="2.2" rx="0.4"/><rect x="276.98" y="383.9" width="2.2" height="2.2" rx="0.4"/><rect x="277.52" y="393.6" width="2.2" height="2.2" rx="0.4"/><rect x="278.33" y="361.82" width="2.2" height="2.2" rx="0.4"/><rect x="278.6" y="393.86" width="2.2" height="2.2" rx="0.4"/><rect x="279.68" y="399.52" width="2.2" height="2.2" rx="0.4"/><rect x="280.21" y="383.9" width="2.2" height="2.2" rx="0.4"/><rect x="280.48" y="404.1" width="2.2" height="2.2" rx="0.4"/><rect x="281.02" y="394.13" width="2.2" height="2.2" rx="0.4"/><rect x="276.44" y="447.18" width="2.2" height="2.2" rx="0.4"/><rect x="283.71" y="369.9" width="2.2" height="2.2" rx="0.4"/><rect x="284.52" y="381.21" width="2.2" height="2.2" rx="0.4"/><rect x="285.06" y="431.02" width="2.2" height="2.2" rx="0.4"/><rect x="285.87" y="399.79" width="2.2" height="2.2" rx="0.4"/><rect x="286.41" y="389.83" width="2.2" height="2.2" rx="0.4"/><rect x="287.21" y="365.06" width="2.2" height="2.2" rx="0.4"/><rect x="287.75" y="386.6" width="2.2" height="2.2" rx="0.4"/><rect x="288.56" y="414.06" width="2.2" height="2.2" rx="0.4"/><rect x="289.1" y="373.67" width="2.2" height="2.2" rx="0.4"/><rect x="290.45" y="367.21" width="2.2" height="2.2" rx="0.4"/><rect x="290.98" y="399.52" width="2.2" height="2.2" rx="0.4"/><rect x="293.14" y="387.4" width="2.2" height="2.2" rx="0.4"/><rect x="293.68" y="409.48" width="2.2" height="2.2" rx="0.4"/><rect x="293.68" y="421.6" width="2.2" height="2.2" rx="0.4"/><rect x="295.83" y="400.06" width="2.2" height="2.2" rx="0.4"/><rect x="299.06" y="390.63" width="2.2" height="2.2" rx="0.4"/><rect x="299.87" y="380.67" width="2.2" height="2.2" rx="0.4"/><rect x="299.87" y="405.44" width="2.2" height="2.2" rx="0.4"/><rect x="301.22" y="400.6" width="2.2" height="2.2" rx="0.4"/><rect x="301.75" y="410.29" width="2.2" height="2.2" rx="0.4"/><rect x="302.83" y="413.25" width="2.2" height="2.2" rx="0.4"/><rect x="305.25" y="412.98" width="2.2" height="2.2" rx="0.4"/><rect x="306.6" y="417.56" width="2.2" height="2.2" rx="0.4"/><rect x="307.95" y="371.79" width="2.2" height="2.2" rx="0.4"/><rect x="309.29" y="375.83" width="2.2" height="2.2" rx="0.4"/><rect x="310.1" y="393.33" width="2.2" height="2.2" rx="0.4"/><rect x="311.99" y="409.48" width="2.2" height="2.2" rx="0.4"/><rect x="315.22" y="366.94" width="2.2" height="2.2" rx="0.4"/><rect x="321.41" y="376.63" width="2.2" height="2.2" rx="0.4"/><rect x="242.9" y="424.8" width="2.2" height="2.2" rx="0.4"/></g>
<text x="296.4" y="449.5" font-size="5.0" fill="#222" textLength="37" lengthAdjust="spacingAndGlyphs">r<tspan dy="0.9">spearman</tspan><tspan dy="-1.3" font-size="5.25">=0.02</tspan></text>
<line x1="388.5" y1="358.4" x2="388.5" y2="455" stroke="#222" stroke-width="1.1" />
<line x1="388.5" y1="454.5" x2="501.5" y2="454.5" stroke="#222" stroke-width="1.1" />
<line x1="384.2" y1="454.3" x2="388.5" y2="454.3" stroke="#222" stroke-width="0.9" />
<text x="382.8" y="456.9" font-size="7.8" text-anchor="end" fill="#111" stroke="#111" stroke-width="0.18" >0</text>
<line x1="384.2" y1="435.18" x2="388.5" y2="435.18" stroke="#222" stroke-width="0.9" />
<text x="382.8" y="437.78" font-size="7.8" text-anchor="end" fill="#111" stroke="#111" stroke-width="0.18" >20</text>
<line x1="384.2" y1="416.06" x2="388.5" y2="416.06" stroke="#222" stroke-width="0.9" />
<text x="382.8" y="418.66" font-size="7.8" text-anchor="end" fill="#111" stroke="#111" stroke-width="0.18" >40</text>
<line x1="384.2" y1="396.94" x2="388.5" y2="396.94" stroke="#222" stroke-width="0.9" />
<text x="382.8" y="399.54" font-size="7.8" text-anchor="end" fill="#111" stroke="#111" stroke-width="0.18" >60</text>
<line x1="384.2" y1="377.82" x2="388.5" y2="377.82" stroke="#222" stroke-width="0.9" />
<text x="382.8" y="380.42" font-size="7.8" text-anchor="end" fill="#111" stroke="#111" stroke-width="0.18" >80</text>
<line x1="384.2" y1="358.7" x2="388.5" y2="358.7" stroke="#222" stroke-width="0.9" />
<text x="382.8" y="361.3" font-size="7.8" text-anchor="end" fill="#111" stroke="#111" stroke-width="0.18" >100</text>
<line x1="388.3" y1="454.5" x2="388.3" y2="457.5" stroke="#222" stroke-width="0.9" />
<text x="388.3" y="466.4" font-size="6.6" text-anchor="middle" fill="#222" stroke="#222" stroke-width="0.18" textLength="6" lengthAdjust="spacingAndGlyphs" >32</text>
<line x1="404.45" y1="454.5" x2="404.45" y2="457.5" stroke="#222" stroke-width="0.9" />
<text x="404.45" y="466.4" font-size="6.6" text-anchor="middle" fill="#222" stroke="#222" stroke-width="0.18" textLength="6" lengthAdjust="spacingAndGlyphs" >64</text>
<line x1="420.6" y1="454.5" x2="420.6" y2="457.5" stroke="#222" stroke-width="0.9" />
<text x="420.6" y="466.4" font-size="6.6" text-anchor="middle" fill="#222" stroke="#222" stroke-width="0.18" textLength="8.5" lengthAdjust="spacingAndGlyphs" >128</text>
<line x1="436.75" y1="454.5" x2="436.75" y2="457.5" stroke="#222" stroke-width="0.9" />
<text x="436.75" y="466.4" font-size="6.6" text-anchor="middle" fill="#222" stroke="#222" stroke-width="0.18" textLength="8.5" lengthAdjust="spacingAndGlyphs" >256</text>
<line x1="452.9" y1="454.5" x2="452.9" y2="457.5" stroke="#222" stroke-width="0.9" />
<text x="452.9" y="466.4" font-size="6.6" text-anchor="middle" fill="#222" stroke="#222" stroke-width="0.18" textLength="8.5" lengthAdjust="spacingAndGlyphs" >512</text>
<line x1="469.05" y1="454.5" x2="469.05" y2="457.5" stroke="#222" stroke-width="0.9" />
<text x="469.05" y="466.4" font-size="6.6" text-anchor="middle" fill="#222" stroke="#222" stroke-width="0.18" textLength="11" lengthAdjust="spacingAndGlyphs" >1024</text>
<line x1="485.2" y1="454.5" x2="485.2" y2="457.5" stroke="#222" stroke-width="0.9" />
<text x="485.2" y="466.4" font-size="6.6" text-anchor="middle" fill="#222" stroke="#222" stroke-width="0.18" textLength="11" lengthAdjust="spacingAndGlyphs" >2048</text>
<line x1="501.35" y1="454.5" x2="501.35" y2="457.5" stroke="#222" stroke-width="0.9" />
<text x="501.35" y="466.4" font-size="6.6" text-anchor="middle" fill="#222" stroke="#222" stroke-width="0.18" textLength="11" lengthAdjust="spacingAndGlyphs" >4098</text>
<text x="449" y="478.2" font-size="9" text-anchor="middle" fill="#222" stroke="#222" stroke-width="0.18" textLength="68.7" lengthAdjust="spacingAndGlyphs" >Post-transplant (days)</text>
<text x="366.6" y="403.9" font-size="9" text-anchor="middle" fill="#222" stroke="#222" stroke-width="0.18" textLength="67.3" lengthAdjust="spacingAndGlyphs" transform="rotate(-90 366.6 403.9)" >CD8%CD57<tspan baseline-shift="1.8" font-size="7.2">+</tspan>/CD27<tspan baseline-shift="1.8" font-size="7.2">−</tspan></text>
<g fill="#111"><rect x="403.33" y="423.75" width="2.2" height="2.2" rx="0.4"/><rect x="407.37" y="419.44" width="2.2" height="2.2" rx="0.4"/><rect x="409.52" y="401.94" width="2.2" height="2.2" rx="0.4"/><rect x="410.06" y="444.48" width="2.2" height="2.2" rx="0.4"/><rect x="410.6" y="386.06" width="2.2" height="2.2" rx="0.4"/><rect x="411.4" y="389.83" width="2.2" height="2.2" rx="0.4"/><rect x="411.94" y="406.79" width="2.2" height="2.2" rx="0.4"/><rect x="412.21" y="428.33" width="2.2" height="2.2" rx="0.4"/><rect x="412.48" y="380.67" width="2.2" height="2.2" rx="0.4"/><rect x="412.75" y="414.87" width="2.2" height="2.2" rx="0.4"/><rect x="413.02" y="435.6" width="2.2" height="2.2" rx="0.4"/><rect x="413.56" y="376.9" width="2.2" height="2.2" rx="0.4"/><rect x="414.1" y="383.9" width="2.2" height="2.2" rx="0.4"/><rect x="414.64" y="424.83" width="2.2" height="2.2" rx="0.4"/><rect x="414.9" y="398.17" width="2.2" height="2.2" rx="0.4"/><rect x="415.44" y="383.36" width="2.2" height="2.2" rx="0.4"/><rect x="417.33" y="443.14" width="2.2" height="2.2" rx="0.4"/><rect x="417.6" y="405.44" width="2.2" height="2.2" rx="0.4"/><rect x="418.14" y="390.63" width="2.2" height="2.2" rx="0.4"/><rect x="418.67" y="381.75" width="2.2" height="2.2" rx="0.4"/><rect x="420.83" y="400.6" width="2.2" height="2.2" rx="0.4"/><rect x="424.6" y="405.44" width="2.2" height="2.2" rx="0.4"/><rect x="425.67" y="426.44" width="2.2" height="2.2" rx="0.4"/><rect x="427.56" y="379.06" width="2.2" height="2.2" rx="0.4"/><rect x="428.37" y="392.52" width="2.2" height="2.2" rx="0.4"/><rect x="429.44" y="392.52" width="2.2" height="2.2" rx="0.4"/><rect x="432.14" y="378.52" width="2.2" height="2.2" rx="0.4"/><rect x="433.21" y="408.67" width="2.2" height="2.2" rx="0.4"/><rect x="434.29" y="413.52" width="2.2" height="2.2" rx="0.4"/><rect x="435.37" y="369.9" width="2.2" height="2.2" rx="0.4"/><rect x="435.64" y="425.64" width="2.2" height="2.2" rx="0.4"/><rect x="436.44" y="435.6" width="2.2" height="2.2" rx="0.4"/><rect x="437.52" y="434.52" width="2.2" height="2.2" rx="0.4"/><rect x="437.79" y="411.64" width="2.2" height="2.2" rx="0.4"/><rect x="438.87" y="393.06" width="2.2" height="2.2" rx="0.4"/><rect x="440.21" y="424.29" width="2.2" height="2.2" rx="0.4"/><rect x="441.29" y="434.52" width="2.2" height="2.2" rx="0.4"/><rect x="442.37" y="387.4" width="2.2" height="2.2" rx="0.4"/><rect x="442.37" y="376.9" width="2.2" height="2.2" rx="0.4"/><rect x="442.91" y="429.14" width="2.2" height="2.2" rx="0.4"/><rect x="443.44" y="377.44" width="2.2" height="2.2" rx="0.4"/><rect x="443.71" y="447.18" width="2.2" height="2.2" rx="0.4"/><rect x="444.25" y="370.98" width="2.2" height="2.2" rx="0.4"/><rect x="444.52" y="379.33" width="2.2" height="2.2" rx="0.4"/><rect x="445.06" y="388.75" width="2.2" height="2.2" rx="0.4"/><rect x="445.6" y="387.94" width="2.2" height="2.2" rx="0.4"/><rect x="446.14" y="378.52" width="2.2" height="2.2" rx="0.4"/><rect x="447.21" y="386.06" width="2.2" height="2.2" rx="0.4"/><rect x="447.75" y="408.14" width="2.2" height="2.2" rx="0.4"/><rect x="448.29" y="422.94" width="2.2" height="2.2" rx="0.4"/><rect x="448.56" y="419.44" width="2.2" height="2.2" rx="0.4"/><rect x="449.91" y="382.56" width="2.2" height="2.2" rx="0.4"/><rect x="450.45" y="425.64" width="2.2" height="2.2" rx="0.4"/><rect x="450.98" y="376.9" width="2.2" height="2.2" rx="0.4"/><rect x="451.79" y="376.9" width="2.2" height="2.2" rx="0.4"/><rect x="452.6" y="384.71" width="2.2" height="2.2" rx="0.4"/><rect x="453.14" y="386.6" width="2.2" height="2.2" rx="0.4"/><rect x="453.68" y="399.52" width="2.2" height="2.2" rx="0.4"/><rect x="454.48" y="374.48" width="2.2" height="2.2" rx="0.4"/><rect x="455.02" y="426.98" width="2.2" height="2.2" rx="0.4"/><rect x="455.83" y="361.82" width="2.2" height="2.2" rx="0.4"/><rect x="456.37" y="382.56" width="2.2" height="2.2" rx="0.4"/><rect x="456.37" y="433.98" width="2.2" height="2.2" rx="0.4"/><rect x="457.98" y="374.48" width="2.2" height="2.2" rx="0.4"/><rect x="459.06" y="426.44" width="2.2" height="2.2" rx="0.4"/><rect x="460.68" y="437.21" width="2.2" height="2.2" rx="0.4"/><rect x="461.22" y="444.48" width="2.2" height="2.2" rx="0.4"/><rect x="462.02" y="382.56" width="2.2" height="2.2" rx="0.4"/><rect x="463.91" y="403.29" width="2.2" height="2.2" rx="0.4"/><rect x="465.79" y="398.71" width="2.2" height="2.2" rx="0.4"/><rect x="466.6" y="375.83" width="2.2" height="2.2" rx="0.4"/><rect x="467.14" y="375.29" width="2.2" height="2.2" rx="0.4"/><rect x="467.95" y="383.9" width="2.2" height="2.2" rx="0.4"/><rect x="469.29" y="426.98" width="2.2" height="2.2" rx="0.4"/><rect x="469.83" y="396.02" width="2.2" height="2.2" rx="0.4"/><rect x="471.45" y="375.83" width="2.2" height="2.2" rx="0.4"/><rect x="473.33" y="385.25" width="2.2" height="2.2" rx="0.4"/><rect x="474.14" y="413.52" width="2.2" height="2.2" rx="0.4"/><rect x="475.22" y="390.63" width="2.2" height="2.2" rx="0.4"/><rect x="476.56" y="397.37" width="2.2" height="2.2" rx="0.4"/><rect x="477.91" y="402.75" width="2.2" height="2.2" rx="0.4"/><rect x="479.52" y="394.67" width="2.2" height="2.2" rx="0.4"/><rect x="480.6" y="406.52" width="2.2" height="2.2" rx="0.4"/><rect x="482.76" y="388.75" width="2.2" height="2.2" rx="0.4"/><rect x="489.49" y="383.9" width="2.2" height="2.2" rx="0.4"/></g>
<line x1="404.4" y1="412.5" x2="491.1" y2="391.7" stroke="#111" stroke-width="1.2" />
<text x="464.5" y="450" font-size="5.0" fill="#222" textLength="37" lengthAdjust="spacingAndGlyphs">r<tspan dy="0.9">spearman</tspan><tspan dy="-1.3" font-size="5.25">=0.02</tspan></text>
<text x="185.2" y="495.3" font-size="11.2" text-anchor="start" fill="#000" font-weight="bold" >E</text>
<line x1="221.4" y1="492" x2="221.4" y2="588" stroke="#222" stroke-width="1.1" />
<line x1="221.4" y1="587.4" x2="340.6" y2="587.4" stroke="#222" stroke-width="1.1" />
<line x1="216.9" y1="492.4" x2="221.4" y2="492.4" stroke="#222" stroke-width="0.9" />
<text x="216.6" y="494.9" font-size="7.8" text-anchor="end" fill="#111" stroke="#111" stroke-width="0.18" >2</text>
<line x1="216.9" y1="524.1" x2="221.4" y2="524.1" stroke="#222" stroke-width="0.9" />
<text x="216.6" y="526.6" font-size="7.8" text-anchor="end" fill="#111" stroke="#111" stroke-width="0.18" >1</text>
<line x1="216.9" y1="555.8" x2="221.4" y2="555.8" stroke="#222" stroke-width="0.9" />
<text x="216.6" y="558.3" font-size="7.8" text-anchor="end" fill="#111" stroke="#111" stroke-width="0.18" >0</text>
<line x1="216.9" y1="587.5" x2="221.4" y2="587.5" stroke="#222" stroke-width="0.9" />
<text x="216.6" y="590" font-size="7.8" text-anchor="end" fill="#111" stroke="#111" stroke-width="0.18" >-1</text>
<line x1="221.55" y1="587.4" x2="221.55" y2="590.6" stroke="#222" stroke-width="0.9" />
<text x="221.55" y="599.8" font-size="7.8" text-anchor="middle" fill="#111" stroke="#111" stroke-width="0.18" >-1</text>
<line x1="261.1" y1="587.4" x2="261.1" y2="590.6" stroke="#222" stroke-width="0.9" />
<text x="261.1" y="599.8" font-size="7.8" text-anchor="middle" fill="#111" stroke="#111" stroke-width="0.18" >0</text>
<line x1="300.65" y1="587.4" x2="300.65" y2="590.6" stroke="#222" stroke-width="0.9" />
<text x="300.65" y="599.8" font-size="7.8" text-anchor="middle" fill="#111" stroke="#111" stroke-width="0.18" >1</text>
<line x1="340.2" y1="587.4" x2="340.2" y2="590.6" stroke="#222" stroke-width="0.9" />
<text x="340.2" y="599.8" font-size="7.8" text-anchor="middle" fill="#111" stroke="#111" stroke-width="0.18" >2</text>
<text x="280.7" y="611" font-size="8.4" text-anchor="middle" fill="#222" stroke="#222" stroke-width="0.18" textLength="117.5" lengthAdjust="spacingAndGlyphs" >CD4%CD57<tspan baseline-shift="1.68" font-size="6.72">+</tspan>/CD27<tspan baseline-shift="1.68" font-size="6.72">−</tspan> (log,Sample 1)</text>
<text x="197.3" y="544.5" font-size="9.4" text-anchor="middle" fill="#222" stroke="#222" stroke-width="0.18" textLength="67.3" lengthAdjust="spacingAndGlyphs" transform="rotate(-90 197.3 544.5)" >CD4%CD57<tspan baseline-shift="1.88" font-size="7.52">+</tspan>/CD27<tspan baseline-shift="1.88" font-size="7.52">−</tspan></text>
<text x="208" y="544.2" font-size="9.4" text-anchor="middle" fill="#222" stroke="#222" stroke-width="0.18" textLength="48.5" lengthAdjust="spacingAndGlyphs" transform="rotate(-90 208 544.2)" >(log,Sample 2)</text>
<line x1="229.5" y1="581.2" x2="329.2" y2="505" stroke="#111" stroke-width="1.2" />
<g fill="#000"><circle cx="229.5" cy="586.2" r="2.0"/><circle cx="257" cy="558.2" r="2.0"/><circle cx="262.5" cy="551.2" r="2.0"/><circle cx="267" cy="547.5" r="2.0"/><circle cx="267.5" cy="544.2" r="2.0"/><circle cx="266.2" cy="579.2" r="2.0"/><circle cx="275" cy="535.8" r="2.0"/><circle cx="276.2" cy="542.5" r="2.0"/><circle cx="277" cy="554.5" r="2.0"/><circle cx="280" cy="542" r="2.0"/><circle cx="281.2" cy="531.2" r="2.0"/><circle cx="283" cy="511.8" r="2.0"/><circle cx="284.5" cy="545" r="2.0"/><circle cx="288" cy="539.2" r="2.0"/><circle cx="291.2" cy="538.2" r="2.0"/><circle cx="295" cy="532.5" r="2.0"/><circle cx="296.2" cy="533.2" r="2.0"/><circle cx="301.2" cy="530" r="2.0"/><circle cx="305.8" cy="525" r="2.0"/><circle cx="306.2" cy="527" r="2.0"/><circle cx="310.5" cy="520" r="2.0"/><circle cx="316.2" cy="515.8" r="2.0"/><circle cx="318.2" cy="522" r="2.0"/><circle cx="318.2" cy="504.5" r="2.0"/><circle cx="320.5" cy="500.5" r="2.0"/><circle cx="322.5" cy="501.2" r="2.0"/><circle cx="323.8" cy="503" r="2.0"/><circle cx="325.5" cy="526.2" r="2.0"/><circle cx="329.2" cy="505.5" r="2.0"/><circle cx="330.8" cy="504" r="2.0"/><circle cx="332.5" cy="497.5" r="2.0"/></g>
<text x="283.8" y="574.2" font-size="5.0" fill="#222" textLength="39" lengthAdjust="spacingAndGlyphs">r<tspan dy="0.9">spearman</tspan><tspan dy="-1.3" font-size="5.25">=0.90*</tspan></text>
<text x="284.5" y="581.6" font-size="6.4" text-anchor="start" fill="#cc2340" stroke="#cc2340" stroke-width="0.18" textLength="26.8" lengthAdjust="spacingAndGlyphs" >p&lt;0.0001</text>
<line x1="388.5" y1="492.3" x2="388.5" y2="587.3" stroke="#222" stroke-width="1.1" />
<line x1="388.5" y1="586.8" x2="506" y2="586.8" stroke="#222" stroke-width="1.1" />
<line x1="384" y1="586.7" x2="388.5" y2="586.7" stroke="#222" stroke-width="0.9" />
<text x="383.4" y="589.2" font-size="7.8" text-anchor="end" fill="#111" stroke="#111" stroke-width="0.18" >0</text>
<line x1="388.4" y1="586.8" x2="388.4" y2="590" stroke="#222" stroke-width="0.9" />
<text x="388.4" y="598.2" font-size="7.8" text-anchor="middle" fill="#111" stroke="#111" stroke-width="0.18" >0</text>
<line x1="384" y1="567.98" x2="388.5" y2="567.98" stroke="#222" stroke-width="0.9" />
<text x="383.4" y="570.48" font-size="7.8" text-anchor="end" fill="#111" stroke="#111" stroke-width="0.18" >20</text>
<line x1="411.87" y1="586.8" x2="411.87" y2="590" stroke="#222" stroke-width="0.9" />
<text x="411.87" y="598.2" font-size="7.8" text-anchor="middle" fill="#111" stroke="#111" stroke-width="0.18" >20</text>
<line x1="384" y1="549.26" x2="388.5" y2="549.26" stroke="#222" stroke-width="0.9" />
<text x="383.4" y="551.76" font-size="7.8" text-anchor="end" fill="#111" stroke="#111" stroke-width="0.18" >40</text>
<line x1="435.34" y1="586.8" x2="435.34" y2="590" stroke="#222" stroke-width="0.9" />
<text x="435.34" y="598.2" font-size="7.8" text-anchor="middle" fill="#111" stroke="#111" stroke-width="0.18" >40</text>
<line x1="384" y1="530.54" x2="388.5" y2="530.54" stroke="#222" stroke-width="0.9" />
<text x="383.4" y="533.04" font-size="7.8" text-anchor="end" fill="#111" stroke="#111" stroke-width="0.18" >60</text>
<line x1="458.81" y1="586.8" x2="458.81" y2="590" stroke="#222" stroke-width="0.9" />
<text x="458.81" y="598.2" font-size="7.8" text-anchor="middle" fill="#111" stroke="#111" stroke-width="0.18" >60</text>
<line x1="384" y1="511.82" x2="388.5" y2="511.82" stroke="#222" stroke-width="0.9" />
<text x="383.4" y="514.32" font-size="7.8" text-anchor="end" fill="#111" stroke="#111" stroke-width="0.18" >80</text>
<line x1="482.28" y1="586.8" x2="482.28" y2="590" stroke="#222" stroke-width="0.9" />
<text x="482.28" y="598.2" font-size="7.8" text-anchor="middle" fill="#111" stroke="#111" stroke-width="0.18" >80</text>
<line x1="384" y1="493.1" x2="388.5" y2="493.1" stroke="#222" stroke-width="0.9" />
<text x="383.4" y="495.6" font-size="7.8" text-anchor="end" fill="#111" stroke="#111" stroke-width="0.18" >100</text>
<line x1="505.75" y1="586.8" x2="505.75" y2="590" stroke="#222" stroke-width="0.9" />
<text x="505.75" y="598.2" font-size="7.8" text-anchor="middle" fill="#111" stroke="#111" stroke-width="0.18" >100</text>
<text x="449.5" y="610.6" font-size="8.4" text-anchor="middle" fill="#222" stroke="#222" stroke-width="0.18" textLength="104" lengthAdjust="spacingAndGlyphs" >CD8%CD57<tspan baseline-shift="1.68" font-size="6.72">+</tspan>/CD27<tspan baseline-shift="1.68" font-size="6.72">−</tspan> (Sample 1)</text>
<text x="358.6" y="544.2" font-size="9.4" text-anchor="middle" fill="#222" stroke="#222" stroke-width="0.18" textLength="67.9" lengthAdjust="spacingAndGlyphs" transform="rotate(-90 358.6 544.2)" >CD8%CD57<tspan baseline-shift="1.88" font-size="7.52">+</tspan>/CD27<tspan baseline-shift="1.88" font-size="7.52">−</tspan></text>
<text x="370.2" y="544.5" font-size="9.4" text-anchor="middle" fill="#222" stroke="#222" stroke-width="0.18" textLength="34.9" lengthAdjust="spacingAndGlyphs" transform="rotate(-90 370.2 544.5)" >(Sample 2)</text>
<line x1="398.6" y1="571.5" x2="483.5" y2="527.2" stroke="#111" stroke-width="1.2" />
<g fill="#000"><circle cx="395.6" cy="581.8" r="2.0"/><circle cx="398.2" cy="574" r="2.0"/><circle cx="400.5" cy="569.4" r="2.0"/><circle cx="409.7" cy="562.2" r="2.0"/><circle cx="412" cy="568.6" r="2.0"/><circle cx="417.8" cy="542.6" r="2.0"/><circle cx="423.6" cy="552.7" r="2.0"/><circle cx="423.6" cy="565.1" r="2.0"/><circle cx="429.3" cy="552.1" r="2.0"/><circle cx="429.3" cy="559.3" r="2.0"/><circle cx="435.1" cy="541.4" r="2.0"/><circle cx="436.5" cy="573.7" r="2.0"/><circle cx="444.6" cy="564.5" r="2.0"/><circle cx="446.1" cy="540.6" r="2.0"/><circle cx="446.6" cy="547.2" r="2.0"/><circle cx="450.4" cy="546.3" r="2.0"/><circle cx="461.9" cy="539.7" r="2.0"/><circle cx="464.8" cy="541.2" r="2.0"/><circle cx="465.4" cy="513.2" r="2.0"/><circle cx="464.8" cy="523.8" r="2.0"/><circle cx="467.4" cy="531.3" r="2.0"/><circle cx="468.3" cy="531.3" r="2.0"/><circle cx="470.6" cy="517.5" r="2.0"/><circle cx="471.2" cy="550.7" r="2.0"/><circle cx="472.6" cy="550.7" r="2.0"/><circle cx="473.5" cy="542.9" r="2.0"/><circle cx="474.9" cy="532.5" r="2.0"/><circle cx="476.3" cy="509.7" r="2.0"/><circle cx="477.8" cy="542.9" r="2.0"/><circle cx="481.3" cy="528.2" r="2.0"/><circle cx="482.7" cy="536.8" r="2.0"/><circle cx="484.4" cy="525.3" r="2.0"/></g>
<text x="402" y="499.8" font-size="5.0" fill="#222" textLength="40" lengthAdjust="spacingAndGlyphs">r<tspan dy="0.9">spearman</tspan><tspan dy="-1.3" font-size="5.25">=0.75*</tspan></text>
<text x="403.4" y="508.6" font-size="6.4" text-anchor="start" fill="#cc2340" stroke="#cc2340" stroke-width="0.18" textLength="26.6" lengthAdjust="spacingAndGlyphs" >p&lt;0.0001</text>
<rect x="0.5" y="0.5" width="519" height="618" fill="none" stroke="#000" stroke-width="1.3"/>
</svg></body></html>
